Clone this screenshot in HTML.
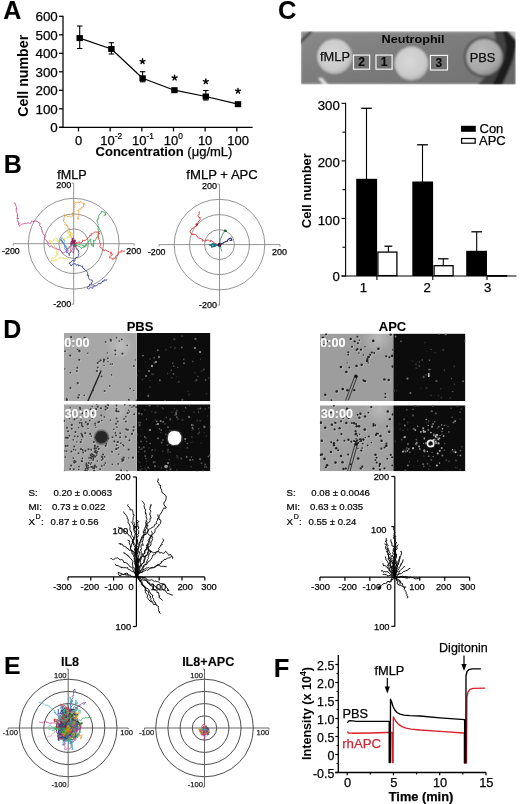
<!DOCTYPE html>
<html><head><meta charset="utf-8"><style>
html,body{margin:0;padding:0;background:#fff;overflow:hidden;}
svg{display:block;font-family:"Liberation Sans", sans-serif;will-change:transform;}
</style></head><body>
<svg width="520" height="804" viewBox="0 0 520 804">
<text x="3.2" y="19.3" font-size="25" font-weight="bold" text-anchor="start" fill="#000" stroke="#000" stroke-width="0.1" >A</text>
<line x1="63" y1="15.699999999999998" x2="63" y2="127.9" stroke="#000" stroke-width="1.25"/>
<line x1="59" y1="127.3" x2="63" y2="127.3" stroke="#000" stroke-width="1.25"/>
<text x="57.8" y="132.0" font-size="13.4" font-weight="normal" text-anchor="end" fill="#000" stroke="#000" stroke-width="0.25" >0</text>
<line x1="59" y1="108.8" x2="63" y2="108.8" stroke="#000" stroke-width="1.25"/>
<text x="57.8" y="113.5" font-size="13.4" font-weight="normal" text-anchor="end" fill="#000" stroke="#000" stroke-width="0.25" >100</text>
<line x1="59" y1="90.3" x2="63" y2="90.3" stroke="#000" stroke-width="1.25"/>
<text x="57.8" y="95.0" font-size="13.4" font-weight="normal" text-anchor="end" fill="#000" stroke="#000" stroke-width="0.25" >200</text>
<line x1="59" y1="71.8" x2="63" y2="71.8" stroke="#000" stroke-width="1.25"/>
<text x="57.8" y="76.5" font-size="13.4" font-weight="normal" text-anchor="end" fill="#000" stroke="#000" stroke-width="0.25" >300</text>
<line x1="59" y1="53.3" x2="63" y2="53.3" stroke="#000" stroke-width="1.25"/>
<text x="57.8" y="58.0" font-size="13.4" font-weight="normal" text-anchor="end" fill="#000" stroke="#000" stroke-width="0.25" >400</text>
<line x1="59" y1="34.8" x2="63" y2="34.8" stroke="#000" stroke-width="1.25"/>
<text x="57.8" y="39.5" font-size="13.4" font-weight="normal" text-anchor="end" fill="#000" stroke="#000" stroke-width="0.25" >500</text>
<line x1="59" y1="16.299999999999997" x2="63" y2="16.299999999999997" stroke="#000" stroke-width="1.25"/>
<text x="57.8" y="20.999999999999996" font-size="13.4" font-weight="normal" text-anchor="end" fill="#000" stroke="#000" stroke-width="0.25" >600</text>
<line x1="59" y1="127.3" x2="252.6" y2="127.3" stroke="#000" stroke-width="1.25"/>
<line x1="78.5" y1="127.3" x2="78.5" y2="131.4" stroke="#000" stroke-width="1.25"/>
<line x1="110.16" y1="127.3" x2="110.16" y2="131.4" stroke="#000" stroke-width="1.25"/>
<line x1="141.82" y1="127.3" x2="141.82" y2="131.4" stroke="#000" stroke-width="1.25"/>
<line x1="173.48000000000002" y1="127.3" x2="173.48000000000002" y2="131.4" stroke="#000" stroke-width="1.25"/>
<line x1="205.14" y1="127.3" x2="205.14" y2="131.4" stroke="#000" stroke-width="1.25"/>
<line x1="236.8" y1="127.3" x2="236.8" y2="131.4" stroke="#000" stroke-width="1.25"/>
<text x="78.5" y="144.6" font-size="13" font-weight="normal" text-anchor="middle" fill="#000" stroke="#000" stroke-width="0.25" >0</text>
<text x="100.36" y="144.6" font-size="13" stroke="#000" stroke-width="0.25">10<tspan font-size="8.4" dy="-5.6" stroke-width="0.2">-2</tspan></text>
<text x="132.01999999999998" y="144.6" font-size="13" stroke="#000" stroke-width="0.25">10<tspan font-size="8.4" dy="-5.6" stroke-width="0.2">-1</tspan></text>
<text x="163.68" y="144.6" font-size="13" stroke="#000" stroke-width="0.25">10<tspan font-size="8.4" dy="-5.6" stroke-width="0.2">0</tspan></text>
<text x="205.14" y="144.6" font-size="13" font-weight="normal" text-anchor="middle" fill="#000" stroke="#000" stroke-width="0.25" >10</text>
<text x="238.20000000000002" y="144.6" font-size="13" font-weight="normal" text-anchor="middle" fill="#000" stroke="#000" stroke-width="0.25" >100</text>
<text x="164" y="156.4" font-size="13" text-anchor="middle" stroke="#000" stroke-width="0.25"><tspan font-weight="bold" stroke-width="0.1">Concentration</tspan> (μg/mL)</text>
<text transform="translate(28,75.8) rotate(-90)" font-size="14.2" font-weight="bold" text-anchor="middle">Cell number</text>
<polyline points="79.7,38.1 111.4,49.0 142.6,78.3 174.4,90.2 205.8,96.5 238.0,104.2" fill="none" stroke="#000" stroke-width="1.2" stroke-linejoin="round" />
<line x1="79.7" y1="26" x2="79.7" y2="48.5" stroke="#000" stroke-width="1.1"/>
<line x1="77.0" y1="26" x2="82.4" y2="26" stroke="#000" stroke-width="1.1"/>
<line x1="77.0" y1="48.5" x2="82.4" y2="48.5" stroke="#000" stroke-width="1.1"/>
<rect x="76.5" y="35.1" width="6.4" height="6" fill="#000"/>
<line x1="111.4" y1="42.7" x2="111.4" y2="54" stroke="#000" stroke-width="1.1"/>
<line x1="108.7" y1="42.7" x2="114.10000000000001" y2="42.7" stroke="#000" stroke-width="1.1"/>
<line x1="108.7" y1="54" x2="114.10000000000001" y2="54" stroke="#000" stroke-width="1.1"/>
<rect x="108.2" y="46" width="6.4" height="6" fill="#000"/>
<line x1="142.6" y1="71.7" x2="142.6" y2="81.8" stroke="#000" stroke-width="1.1"/>
<line x1="139.9" y1="71.7" x2="145.29999999999998" y2="71.7" stroke="#000" stroke-width="1.1"/>
<line x1="139.9" y1="81.8" x2="145.29999999999998" y2="81.8" stroke="#000" stroke-width="1.1"/>
<rect x="139.4" y="75.3" width="6.4" height="6" fill="#000"/>
<rect x="171.20000000000002" y="87.2" width="6.4" height="6" fill="#000"/>
<line x1="205.8" y1="90.5" x2="205.8" y2="100" stroke="#000" stroke-width="1.1"/>
<line x1="203.10000000000002" y1="90.5" x2="208.5" y2="90.5" stroke="#000" stroke-width="1.1"/>
<line x1="203.10000000000002" y1="100" x2="208.5" y2="100" stroke="#000" stroke-width="1.1"/>
<rect x="202.60000000000002" y="93.5" width="6.4" height="6" fill="#000"/>
<rect x="234.8" y="101.2" width="6.4" height="6" fill="#000"/>
<path d="M142.50,61.40L142.50,58.80M142.50,61.40L144.97,60.60M142.50,61.40L144.03,63.50M142.50,61.40L140.97,63.50M142.50,61.40L140.03,60.60" stroke="#000" stroke-width="1.4" stroke-linecap="round" fill="none"/>
<path d="M174.60,77.80L174.60,75.20M174.60,77.80L177.07,77.00M174.60,77.80L176.13,79.90M174.60,77.80L173.07,79.90M174.60,77.80L172.13,77.00" stroke="#000" stroke-width="1.4" stroke-linecap="round" fill="none"/>
<path d="M205.80,81.50L205.80,78.90M205.80,81.50L208.27,80.70M205.80,81.50L207.33,83.60M205.80,81.50L204.27,83.60M205.80,81.50L203.33,80.70" stroke="#000" stroke-width="1.4" stroke-linecap="round" fill="none"/>
<path d="M238.00,91.00L238.00,88.40M238.00,91.00L240.47,90.20M238.00,91.00L239.53,93.10M238.00,91.00L236.47,93.10M238.00,91.00L235.53,90.20" stroke="#000" stroke-width="1.4" stroke-linecap="round" fill="none"/>
<text x="3.8" y="173.4" font-size="25" font-weight="bold" text-anchor="start" fill="#000" stroke="#000" stroke-width="0.1" >B</text>
<circle cx="73.7" cy="243.7" r="14.8" fill="none" stroke="#7a7a7a" stroke-width="0.8"/>
<circle cx="73.7" cy="243.7" r="29.8" fill="none" stroke="#7a7a7a" stroke-width="0.8"/>
<circle cx="73.7" cy="243.7" r="45.4" fill="none" stroke="#7a7a7a" stroke-width="0.8"/>
<path d="M13.200000000000003,245.7V243.7H134.2V245.7M71.7,183.2H73.7V304.2H71.7" fill="none" stroke="#7a7a7a" stroke-width="0.8"/>
<circle cx="219.5" cy="244.6" r="15" fill="none" stroke="#7a7a7a" stroke-width="0.8"/>
<circle cx="219.5" cy="244.6" r="30" fill="none" stroke="#7a7a7a" stroke-width="0.8"/>
<circle cx="219.5" cy="244.6" r="45.3" fill="none" stroke="#7a7a7a" stroke-width="0.8"/>
<path d="M159.0,246.6V244.6H280.0V246.6M217.5,184.1H219.5V305.1H217.5" fill="none" stroke="#7a7a7a" stroke-width="0.8"/>
<text x="72" y="178.8" font-size="12.6" font-weight="normal" text-anchor="middle" fill="#000" stroke="#000" stroke-width="0.25" >fMLP</text>
<text x="222.1" y="178.9" font-size="13.1" font-weight="normal" text-anchor="middle" fill="#000" stroke="#000" stroke-width="0.25" >fMLP + APC</text>
<text x="71.2" y="187.89999999999998" font-size="9" font-weight="normal" text-anchor="end" fill="#000" stroke="#000" stroke-width="0.25" >200</text>
<text x="71.2" y="306.7" font-size="9" font-weight="normal" text-anchor="end" fill="#000" stroke="#000" stroke-width="0.25" >-200</text>
<text x="19.700000000000003" y="253.89999999999998" font-size="8.8" font-weight="normal" text-anchor="end" fill="#000" stroke="#000" stroke-width="0.25" >-200</text>
<text x="126.2" y="253.89999999999998" font-size="9" font-weight="normal" text-anchor="start" fill="#000" stroke="#000" stroke-width="0.25" >200</text>
<text x="217.0" y="188.8" font-size="9" font-weight="normal" text-anchor="end" fill="#000" stroke="#000" stroke-width="0.25" >200</text>
<text x="217.0" y="307.6" font-size="9" font-weight="normal" text-anchor="end" fill="#000" stroke="#000" stroke-width="0.25" >-200</text>
<text x="165.5" y="254.79999999999998" font-size="8.8" font-weight="normal" text-anchor="end" fill="#000" stroke="#000" stroke-width="0.25" >-200</text>
<text x="272.0" y="254.79999999999998" font-size="9" font-weight="normal" text-anchor="start" fill="#000" stroke="#000" stroke-width="0.25" >200</text>
<polyline points="73.3,242.8 73.1,243.4 72.1,244.8 70.5,245.8 69.7,246.4 69.0,246.5 68.7,248.7 67.2,248.3 67.1,250.5 66.5,250.3 66.7,250.5 65.9,251.8 63.9,252.4 63.1,253.1 61.7,252.1 61.4,251.1 60.1,250.0 58.3,249.7 58.6,249.5 57.0,249.2 56.4,248.1 55.9,248.5 53.7,247.8 53.1,248.0 52.4,246.5 51.7,245.8 49.4,246.7 48.4,245.3 47.6,244.8 48.4,243.7 48.0,242.3 47.2,242.0 46.5,240.8 46.6,240.8 45.4,239.3 44.2,238.5 45.0,237.9 45.0,235.4 43.9,235.0 42.9,233.4 42.8,231.8 42.2,232.1 41.9,230.1 42.1,230.3 41.1,228.6 41.6,228.4 41.5,227.4 39.9,225.6 39.5,225.5 40.1,223.2 38.1,222.4 37.6,221.9 37.1,221.1 34.8,221.0 34.4,220.9 34.4,221.5 32.4,221.8 31.6,221.1 31.0,222.8 29.8,223.3 27.8,222.9 26.2,223.8 25.0,223.1 24.2,223.7 23.3,223.8 21.5,224.3 20.5,225.1 19.2,226.4 19.4,225.6 18.5,224.9 18.6,223.4 19.3,224.0 18.4,222.0 17.5,220.2 17.8,219.4 18.6,218.2 16.9,218.6 17.6,216.0 17.5,214.7 17.3,215.5 17.7,213.9 16.4,212.2 16.0,211.9 16.5,210.9 15.9,208.8 16.7,209.2 16.6,207.8 16.3,206.7 15.6,204.8 15.1,203.2 13.7,203.0 13.8,202.8" fill="none" stroke="#c8408a" stroke-width="0.8" stroke-linejoin="round" opacity="1.0"/>
<polyline points="73.1,243.9 74.2,242.4 73.8,242.5 73.6,240.2 71.8,239.0 71.4,237.9 71.9,238.3 72.0,236.5 71.3,236.1 69.9,234.8 71.2,234.1 70.7,232.3 69.4,231.7 69.5,230.6 69.9,228.6 67.9,228.6 67.9,225.9 66.2,224.7 66.9,225.2 64.7,224.5 65.6,223.4 63.9,222.0 63.1,219.8 64.4,219.9 63.8,219.3 63.9,218.0 65.0,215.6 64.1,214.6 65.4,215.6 66.8,215.6 67.6,216.7 69.1,215.9 70.6,216.9 71.3,217.0 72.5,216.4 72.8,214.4 72.8,213.7 72.2,214.0 72.8,212.3 74.1,211.5 73.5,210.5 74.2,210.0 73.6,208.6 74.1,207.0 75.3,206.5 74.6,205.9 75.1,204.1 74.2,203.1 73.7,202.3 74.7,202.0 75.8,202.8 77.2,202.7 78.8,201.4 79.1,202.8 80.7,201.2 80.4,202.1 81.4,202.0 82.6,203.1 85.2,203.9 83.2,204.5 83.6,204.2 83.3,206.8 81.3,207.7 81.0,207.7 81.2,209.1 78.6,209.1 78.3,209.7 77.8,210.8 79.0,211.3 78.8,213.3 77.8,214.3 78.9,215.7 77.7,217.7 79.1,218.7 77.6,218.3 78.3,219.8" fill="none" stroke="#e8a040" stroke-width="0.8" stroke-linejoin="round" opacity="1.0"/>
<polyline points="72.7,244.1 72.7,241.7 72.6,242.2 73.0,239.8 71.2,240.0 71.6,238.5 70.2,236.2 70.9,236.0 69.2,236.0 69.8,234.8 68.2,233.9 67.7,232.9 68.0,230.9 69.0,232.8 69.2,232.0 70.5,233.0 70.8,233.2 71.8,233.6 73.4,234.2 73.4,234.6 71.9,234.9 70.7,235.0 69.6,235.4 69.6,236.9 67.5,237.1 68.1,236.8 66.9,237.8 65.3,239.0 64.1,238.8 63.8,240.1 62.1,240.2 61.9,240.2 60.4,240.0 58.7,240.0 57.8,241.6 57.2,240.8 56.5,241.0 57.6,239.6 56.1,237.6 55.2,238.6 54.1,239.1 53.5,240.7 54.0,240.5 51.4,241.5 50.4,240.5 48.6,240.8 50.3,241.7 50.5,242.3 50.9,242.5 51.8,243.5 52.5,243.4 53.8,244.5 54.7,246.2 55.3,247.6 55.5,249.2 55.2,249.3 56.8,249.8 56.8,251.7 55.9,253.0 58.0,253.5 58.2,254.8 56.1,254.9 55.9,256.3 55.5,257.0 54.2,257.8 53.5,258.1 52.2,257.7 51.6,259.4 51.1,261.3 53.2,260.6 54.5,260.5 55.4,258.9 57.1,260.1 57.7,259.5 59.0,258.2 60.1,258.3 59.7,258.1 62.0,257.7 63.0,258.9 63.5,257.5 64.4,258.5 65.9,258.9 66.5,258.2 66.5,259.0 68.1,260.0" fill="none" stroke="#e8d850" stroke-width="0.8" stroke-linejoin="round" opacity="1.0"/>
<polyline points="74.1,243.1 74.7,243.0 74.8,244.0 77.4,245.1 78.8,244.6 80.3,245.1 81.4,244.9 83.4,245.6 84.8,247.4 83.7,245.8 85.9,246.1 86.0,244.0 86.2,244.6 86.9,243.2 87.5,242.3 89.6,240.7 89.9,240.5 90.6,240.0 89.9,239.5 90.6,238.8 90.0,240.7 91.1,241.3 90.8,242.4 91.4,244.3 91.0,245.1 92.9,244.9 93.3,247.0 93.6,245.1 92.9,244.1 94.3,243.3 93.4,241.9 93.6,240.0 94.2,240.8 95.5,240.3 96.3,238.3 97.0,237.1 96.9,237.6 98.0,236.3 97.7,235.5 98.4,233.8 98.2,231.7 98.3,231.3 98.5,230.5 97.8,228.2 99.1,227.2 98.0,226.6 97.4,226.3 98.5,224.4 97.6,223.4 97.5,222.4 96.9,220.8 97.1,221.1 97.8,218.6 98.7,218.9 98.7,216.2 99.0,215.0 100.1,213.9 100.8,213.0 101.2,213.1 101.3,211.0 101.8,211.6 102.8,211.6 103.4,211.9 105.5,212.6 105.0,214.5 106.1,214.7 104.1,215.3 103.7,216.3" fill="none" stroke="#2f9a4f" stroke-width="0.8" stroke-linejoin="round" opacity="1.0"/>
<polyline points="73.4,243.4 75.5,244.0 76.3,242.3 75.7,243.4 78.6,242.7 79.2,241.6 80.1,243.1 81.8,242.5 83.0,240.8 82.3,240.1 83.9,240.5 85.8,240.2 86.3,239.9 86.8,238.8 86.9,238.5 88.2,238.0 89.9,236.1 89.6,235.3 91.3,235.5 91.0,233.6 92.5,233.9 93.5,232.7 95.1,231.8 95.7,232.1 98.4,232.1 99.7,231.5 98.4,232.0 99.6,233.9 98.2,233.6 98.4,235.8 98.1,236.0 98.8,238.4 98.2,237.7 98.6,239.5 99.4,240.1 99.9,242.2 99.5,242.2 100.6,243.4 100.7,244.4 99.9,246.4 100.4,247.9 101.2,247.5 101.6,248.5 103.3,250.1 103.2,249.5 104.3,251.2 105.3,249.7 106.4,250.6 109.2,251.7 109.9,252.6 111.4,252.1 110.5,254.2 112.0,253.4 112.3,255.1 111.0,255.9 109.9,256.3 109.4,257.9 111.8,258.2 112.9,259.0 112.6,259.7 114.4,258.4 113.8,258.0 115.4,258.3 115.7,256.3 117.8,254.8 117.6,255.4 119.0,253.0 118.3,252.3 120.7,252.0 121.1,252.5 121.1,250.6 123.5,251.2 123.3,251.4 125.0,251.0" fill="none" stroke="#d83a30" stroke-width="0.8" stroke-linejoin="round" opacity="1.0"/>
<polyline points="73.3,243.1 73.3,244.9 75.6,245.6 76.2,245.4 75.5,247.1 77.5,249.0 76.8,248.6 77.2,250.0 78.5,250.4 78.6,252.4 79.0,253.5 79.0,253.6 78.1,255.0 78.6,255.9 76.8,257.9 76.2,257.3 75.0,259.0 74.9,260.5 74.8,261.3 72.6,260.3 70.8,262.5 70.9,262.7 68.9,263.0 70.4,264.6 71.4,266.1 72.2,264.2 73.5,264.1 73.9,263.8 75.3,263.6 75.5,263.9 76.4,265.3 78.2,264.4 78.8,266.2 79.9,265.2 81.4,266.6 82.6,266.0 82.8,268.2 84.5,269.1 83.7,268.9 84.6,269.6 86.9,271.4 87.3,272.2 87.7,273.5 87.0,275.3 88.7,275.1 88.4,277.1 88.4,277.8 88.9,278.5 90.2,280.0 92.1,280.0 92.3,281.0 92.8,281.7 91.4,282.7 91.7,284.3 89.5,284.1 89.5,285.7 89.2,285.5 87.6,287.4 87.3,288.1 88.3,289.1 89.5,288.2 90.8,287.6 92.9,288.2 93.0,286.1 94.8,285.6 94.5,286.4 96.3,285.7 97.4,285.2 98.6,283.3 98.8,283.5 100.9,283.7 100.9,282.7 102.4,282.0 102.7,280.9 104.1,281.3 104.1,279.8 106.5,280.3 107.0,279.1" fill="none" stroke="#283088" stroke-width="0.8" stroke-linejoin="round" opacity="1.0"/>
<polyline points="73.2,243.1 73.9,245.2 73.0,245.1 73.3,246.6 73.0,248.0 72.7,248.5 72.3,249.7 71.3,251.3 71.3,251.3 70.0,252.4 69.8,253.2 68.7,253.9 69.0,253.8 67.7,252.4 68.1,250.9 67.8,250.1 67.0,249.7 66.6,248.4 65.9,247.9 65.4,247.0 65.0,245.8 64.0,245.1 64.0,243.7 63.6,243.5 62.6,241.8 62.0,240.8 61.0,240.3 60.3,239.3 61.4,239.7 62.1,240.7 62.8,242.4 63.1,242.4 63.7,243.7 64.6,244.4 64.8,246.5 65.0,247.4 64.7,248.7 65.4,249.7 66.3,249.8 66.5,251.8 66.0,252.2 67.5,252.7 68.4,253.6 69.1,254.1 69.4,255.8 69.5,253.8 70.4,252.7 70.9,251.7" fill="none" stroke="#5060c0" stroke-width="0.8" stroke-linejoin="round" opacity="1.0"/>
<polyline points="73.0,243.1 72.4,244.7 72.2,245.4 70.8,246.0 70.0,246.4 69.8,246.9 69.3,247.9 68.2,249.0 66.9,248.3 66.7,246.8 66.2,245.9 65.6,245.5 64.1,244.9 63.4,243.4 64.2,242.1 64.6,241.2 64.8,241.0 63.9,239.8 62.8,238.3 61.7,237.7 61.3,238.9 60.0,240.3 60.2,240.5 61.5,241.4 62.0,243.0" fill="none" stroke="#3ab0c0" stroke-width="0.8" stroke-linejoin="round" opacity="1.0"/>
<polyline points="73.1,243.4 72.8,242.4 72.4,241.6 72.5,242.4 72.2,243.8 71.4,245.5 71.2,245.8 70.7,247.5 71.1,248.7 70.3,249.4 70.6,250.6 71.9,251.2 72.7,252.2 73.7,253.3 73.5,252.4 73.7,250.8 74.5,249.4 74.6,248.8 74.9,247.4 76.2,245.8 76.2,245.0" fill="none" stroke="#e03030" stroke-width="0.8" stroke-linejoin="round" opacity="1.0"/>
<polyline points="73.3,243.6 73.5,242.5 73.7,241.0 73.0,240.0 72.7,239.5 73.3,238.2 72.2,239.3 72.6,240.0 72.2,241.0 71.4,241.6 71.1,242.5 70.8,244.2 72.0,243.5 72.8,242.2 73.5,241.5 74.5,240.8 74.8,240.1 75.3,240.7 75.1,241.5 74.3,242.7 74.7,244.4 74.5,244.8 74.5,245.8 74.0,247.0" fill="none" stroke="#8a2060" stroke-width="1.2" stroke-linejoin="round" opacity="1.0"/>
<polyline points="73.3,243.9 73.9,244.7 75.1,245.4 76.1,245.6 77.5,246.0 78.4,246.2 79.7,246.5 80.5,247.5 81.5,248.5 82.7,247.0 83.8,247.3 85.2,245.8 86.1,245.1 87.7,245.0" fill="none" stroke="#30a050" stroke-width="0.8" stroke-linejoin="round" opacity="1.0"/>
<polyline points="219.8,245.0 218.8,244.7 216.7,244.1 216.4,244.1 216.3,243.8 213.8,243.3 214.4,242.9 211.8,240.9 210.7,240.2 211.0,241.4 209.6,241.0 208.5,240.2 206.5,240.0 206.7,240.4 204.8,240.9 203.2,240.5 202.6,241.4 202.0,239.9 202.5,239.5 201.6,239.0 198.9,237.9 198.6,237.9 197.4,237.1 196.7,235.6 196.3,234.9 195.2,234.5 192.6,234.0 193.1,234.8 190.8,233.2 190.8,233.1 190.0,231.4 190.0,231.0 190.9,230.4 192.0,228.3 193.8,228.0 193.8,227.5 194.8,226.7 197.0,225.6 197.9,223.2 198.0,222.2 199.4,220.6 200.2,219.4 199.7,218.9 200.6,217.7 198.8,217.4 197.7,215.5 198.6,215.0 199.4,213.7 199.0,212.1 199.8,211.9" fill="none" stroke="#d03838" stroke-width="0.9" stroke-linejoin="round" opacity="1.0"/>
<circle cx="196.8" cy="224.5" r="1.2" fill="#b02020"/>
<polyline points="219.1,245.0 221.2,244.3 221.7,243.5 223.3,243.1 223.7,242.5 225.6,241.7 225.9,241.3 227.5,241.3 227.7,239.9 228.4,239.4 229.4,238.5 230.8,238.0 232.0,240.1 230.1,240.4 229.5,240.0" fill="none" stroke="#282868" stroke-width="1.1" stroke-linejoin="round" opacity="1.0"/>
<polyline points="219.1,244.6 220.1,243.8 220.1,242.3 220.0,241.3 220.2,239.8 220.7,238.5 221.1,238.0 221.7,236.7 222.1,235.6 222.3,234.7 223.0,233.7 223.9,232.4 224.2,231.6 224.6,230.2 225.9,231.0 227.0,231.1 225.5,231.5" fill="none" stroke="#2a7a50" stroke-width="0.9" stroke-linejoin="round" opacity="1.0"/>
<circle cx="225.3" cy="230.7" r="1.3" fill="#1a5a30"/>
<polyline points="219.8,244.9 218.4,244.7 216.9,245.1 215.5,244.9 215.3,244.9 214.2,244.0 212.9,243.9 212.1,244.1 211.2,244.8 209.6,244.7 211.3,245.4 212.0,247.1 212.4,246.4 213.6,246.5 215.5,246.0 214.0,245.1 214.0,244.0" fill="none" stroke="#207880" stroke-width="1.6" stroke-linejoin="round" opacity="1.0"/>
<polyline points="219.4,244.9 220.0,246.0 220.8,247.0 220.9,248.6 221.3,249.5 221.7,250.7 222.0,251.5" fill="none" stroke="#3a9a80" stroke-width="0.9" stroke-linejoin="round" opacity="1.0"/>
<circle cx="219.4" cy="244.9" r="1.9" fill="#3a1a3a"/>
<text x="278" y="19.1" font-size="25.5" font-weight="bold" text-anchor="start" fill="#000" stroke="#000" stroke-width="0.1" >C</text>
<defs><linearGradient id="cg" x1="0" y1="0" x2="1" y2="1"><stop offset="0" stop-color="#8a8a8a"/><stop offset="0.5" stop-color="#7b7b7b"/><stop offset="1" stop-color="#727272"/></linearGradient><radialGradient id="cw" cx="0.45" cy="0.42" r="0.6"><stop offset="0" stop-color="#d8d8d8"/><stop offset="0.75" stop-color="#cacaca"/><stop offset="1" stop-color="#b0b0b0"/></radialGradient><radialGradient id="cw2" cx="0.4" cy="0.35" r="0.65"><stop offset="0" stop-color="#bababa"/><stop offset="0.8" stop-color="#a8a8a8"/><stop offset="1" stop-color="#909090"/></radialGradient><clipPath id="pc"><rect x="300.8" y="31.2" width="214.9" height="53.2"/></clipPath></defs>
<filter id="pb" x="-10%" y="-10%" width="120%" height="120%"><feGaussianBlur stdDeviation="0.9"/></filter>
<g clip-path="url(#pc)"><g filter="url(#pb)">
<rect x="300.8" y="31.2" width="214.9" height="53.2" fill="url(#cg)"/>
<rect x="300.8" y="31.2" width="214.9" height="2.2" fill="#9a9a9a" opacity="0.6"/>
<path d="M300,41 L310,31 L313,31 L300,44Z" fill="#2a2a2a"/>
<circle cx="484.3" cy="57.1" r="20.5" fill="#404040" opacity="0.8"/>
<path d="M494,31 L516,31 L516,85 L478,85 L500,60Z" fill="#3c3c3c" opacity="0.9"/>
<path d="M503,31 L511,31 L516,37 L516,45 L513,58.8 L506.9,74.2 L501.5,85 L492.5,85 L497.7,74.2 L505,58.8 L506,45Z" fill="#1c1c1c"/>
<path d="M516,47 L516,85 L502.5,85 L507.5,74 L513.5,59Z" fill="#686868"/>
<path d="M508,31 L516,31 L516,40 Z" fill="#c8c8c8"/>
<path d="M318,78 L322,78 L328,85 L324,85Z" fill="#e8e8e8"/>
<circle cx="334.7" cy="56.6" r="18.6" fill="#5a5a5a" opacity="0.45"/>
<circle cx="334.7" cy="56.6" r="17.6" fill="url(#cw)"/>
<circle cx="411.5" cy="63.5" r="17.8" fill="#5a5a5a" opacity="0.45"/>
<circle cx="411.5" cy="63.5" r="16.9" fill="url(#cw)"/>
<circle cx="484.3" cy="57.1" r="18.2" fill="url(#cw2)"/>
</g></g>
<rect x="353.5" y="55.1" width="16.100000000000012" height="14.099999999999998" fill="#727272" stroke="#f4f4f4" stroke-width="1.2"/>
<text x="361.54999999999995" y="66.45" font-size="12" font-weight="bold" text-anchor="middle" fill="#080808" stroke="#080808" stroke-width="0.1" >2</text>
<rect x="376.0" y="55.1" width="16.100000000000012" height="14.099999999999998" fill="#727272" stroke="#f4f4f4" stroke-width="1.2"/>
<text x="384.04999999999995" y="66.45" font-size="12" font-weight="bold" text-anchor="middle" fill="#080808" stroke="#080808" stroke-width="0.1" >1</text>
<rect x="430.40000000000003" y="55.4" width="17.100000000000012" height="14.599999999999998" fill="#727272" stroke="#f4f4f4" stroke-width="1.2"/>
<text x="438.95000000000005" y="67.0" font-size="12" font-weight="bold" text-anchor="middle" fill="#080808" stroke="#080808" stroke-width="0.1" >3</text>
<text x="381.6" y="42.9" font-size="11.6" font-weight="bold" fill="#050505" textLength="63" lengthAdjust="spacingAndGlyphs">Neutrophil</text>
<text x="335" y="61.2" font-size="12.8" font-weight="normal" text-anchor="middle" fill="#101010" stroke="#101010" stroke-width="0.25" >fMLP</text>
<text x="482.5" y="62.3" font-size="12.8" font-weight="normal" text-anchor="middle" fill="#101010" stroke="#101010" stroke-width="0.25" >PBS</text>
<line x1="345.6" y1="102.85" x2="345.6" y2="276.5" stroke="#000" stroke-width="1.1"/>
<line x1="341.6" y1="276.0" x2="345.6" y2="276.0" stroke="#000" stroke-width="1.1"/>
<text x="339.8" y="281.2" font-size="13.2" font-weight="normal" text-anchor="end" fill="#000" stroke="#000" stroke-width="0.25" >0</text>
<line x1="342.40000000000003" y1="247.225" x2="345.6" y2="247.225" stroke="#000" stroke-width="1.1"/>
<line x1="341.6" y1="218.45" x2="345.6" y2="218.45" stroke="#000" stroke-width="1.1"/>
<text x="339.8" y="224.75" font-size="13.2" font-weight="normal" text-anchor="end" fill="#000" stroke="#000" stroke-width="0.25" >100</text>
<line x1="342.40000000000003" y1="189.675" x2="345.6" y2="189.675" stroke="#000" stroke-width="1.1"/>
<line x1="341.6" y1="160.89999999999998" x2="345.6" y2="160.89999999999998" stroke="#000" stroke-width="1.1"/>
<text x="339.8" y="167.2" font-size="13.2" font-weight="normal" text-anchor="end" fill="#000" stroke="#000" stroke-width="0.25" >200</text>
<line x1="342.40000000000003" y1="132.125" x2="345.6" y2="132.125" stroke="#000" stroke-width="1.1"/>
<line x1="341.6" y1="103.35" x2="345.6" y2="103.35" stroke="#000" stroke-width="1.1"/>
<text x="339.8" y="109.64999999999999" font-size="13.2" font-weight="normal" text-anchor="end" fill="#000" stroke="#000" stroke-width="0.25" >300</text>
<line x1="341.3" y1="276" x2="516.5" y2="276" stroke="#000" stroke-width="1.1"/>
<line x1="376.9" y1="276" x2="376.9" y2="280" stroke="#000" stroke-width="1.1"/>
<line x1="432.8" y1="276" x2="432.8" y2="280" stroke="#000" stroke-width="1.1"/>
<line x1="487" y1="276" x2="487" y2="280" stroke="#000" stroke-width="1.1"/>
<text x="363.5" y="292.2" font-size="13.2" font-weight="normal" text-anchor="middle" fill="#000" stroke="#000" stroke-width="0.25" >1</text>
<text x="427.1" y="292.2" font-size="13.2" font-weight="normal" text-anchor="middle" fill="#000" stroke="#000" stroke-width="0.25" >2</text>
<text x="487.7" y="292.2" font-size="13.2" font-weight="normal" text-anchor="middle" fill="#000" stroke="#000" stroke-width="0.25" >3</text>
<text transform="translate(311.2,190.7) rotate(-90)" font-size="13" font-weight="bold" text-anchor="middle">Cell number</text>
<line x1="366.5" y1="108.3" x2="366.5" y2="179" stroke="#000" stroke-width="1.1"/>
<line x1="361.2" y1="108.3" x2="371.8" y2="108.3" stroke="#000" stroke-width="1.3"/>
<line x1="422.5" y1="144.8" x2="422.5" y2="182" stroke="#000" stroke-width="1.1"/>
<line x1="417.1" y1="144.8" x2="427.9" y2="144.8" stroke="#000" stroke-width="1.3"/>
<line x1="476.7" y1="231.8" x2="476.7" y2="251" stroke="#000" stroke-width="1.1"/>
<line x1="471.4" y1="231.8" x2="482.0" y2="231.8" stroke="#000" stroke-width="1.3"/>
<line x1="388.4" y1="246.2" x2="388.4" y2="252" stroke="#000" stroke-width="1.1"/>
<line x1="384.5" y1="246.2" x2="392.29999999999995" y2="246.2" stroke="#000" stroke-width="1.3"/>
<line x1="443.3" y1="258.8" x2="443.3" y2="265.5" stroke="#000" stroke-width="1.1"/>
<line x1="438.1" y1="258.8" x2="448.5" y2="258.8" stroke="#000" stroke-width="1.3"/>
<rect x="356.2" y="178.8" width="20.9" height="97.2" fill="#000"/>
<rect x="412.3" y="181.5" width="20.8" height="94.5" fill="#000"/>
<rect x="466.2" y="250.8" width="20.8" height="25.2" fill="#000"/>
<rect x="377.9" y="252.1" width="19.0" height="23.5" fill="#fff" stroke="#000" stroke-width="1.3"/>
<rect x="434.1" y="265.7" width="19.0" height="10" fill="#fff" stroke="#000" stroke-width="1.3"/>
<rect x="487" y="275.0" width="20.3" height="1.8" fill="#000"/>
<rect x="461" y="125.8" width="14.8" height="6" fill="#000"/>
<rect x="461.6" y="138.5" width="13.6" height="4.7" fill="#fff" stroke="#000" stroke-width="1.2"/>
<text x="479.5" y="132.5" font-size="13" font-weight="normal" text-anchor="start" fill="#000" stroke="#000" stroke-width="0.25" >Con</text>
<text x="479" y="145.3" font-size="13" font-weight="normal" text-anchor="start" fill="#000" stroke="#000" stroke-width="0.25" >APC</text>
<text x="3.3" y="338.1" font-size="25" font-weight="bold" text-anchor="start" fill="#000" stroke="#000" stroke-width="0.1" >D</text>
<text x="140" y="331" font-size="13" font-weight="bold" text-anchor="middle" fill="#000" stroke="#000" stroke-width="0.1" >PBS</text>
<text x="392.5" y="331" font-size="13" font-weight="bold" text-anchor="middle" fill="#000" stroke="#000" stroke-width="0.1" >APC</text>
<filter id="sb" x="-5%" y="-5%" width="110%" height="110%"><feGaussianBlur stdDeviation="0.45"/></filter>
<defs><radialGradient id="bfg1" gradientUnits="userSpaceOnUse" cx="120" cy="346" r="14"><stop offset="0" stop-color="#bdbdbd"/><stop offset="1" stop-color="#a7a7a7"/></radialGradient><clipPath id="cbfg1"><rect x="63.8" y="333" width="73.1" height="68"/></clipPath></defs>
<g clip-path="url(#cbfg1)"><rect x="63.8" y="333" width="73.1" height="68" fill="url(#bfg1)"/>
<g filter="url(#sb)"><g fill="#d0d0d0" opacity="0.45"><circle cx="97.4" cy="371.6" r="1.62"/><circle cx="98.3" cy="368.0" r="1.48"/><circle cx="77.8" cy="368.3" r="1.50"/><circle cx="122.3" cy="339.9" r="1.37"/><circle cx="70.9" cy="388.6" r="1.53"/><circle cx="67.4" cy="400.3" r="1.64"/><circle cx="112.1" cy="375.4" r="1.31"/><circle cx="65.4" cy="369.4" r="1.27"/><circle cx="78.2" cy="350.0" r="1.26"/><circle cx="98.2" cy="363.5" r="1.59"/><circle cx="102.2" cy="377.0" r="1.45"/><circle cx="112.7" cy="364.6" r="1.36"/><circle cx="137.2" cy="401.2" r="1.59"/><circle cx="116.0" cy="354.9" r="1.34"/><circle cx="85.4" cy="338.3" r="1.56"/><circle cx="93.6" cy="391.1" r="1.40"/><circle cx="134.3" cy="391.1" r="1.25"/><circle cx="79.6" cy="395.4" r="1.44"/><circle cx="136.0" cy="360.5" r="1.28"/><circle cx="110.3" cy="386.4" r="1.36"/><circle cx="70.7" cy="356.1" r="1.64"/><circle cx="119.7" cy="341.5" r="1.35"/><circle cx="71.7" cy="337.6" r="1.57"/><circle cx="77.3" cy="371.5" r="1.43"/><circle cx="78.2" cy="383.3" r="1.30"/><circle cx="111.4" cy="341.4" r="1.42"/><circle cx="79.9" cy="351.8" r="1.64"/><circle cx="123.0" cy="354.2" r="1.60"/><circle cx="79.7" cy="360.3" r="1.59"/><circle cx="111.2" cy="340.3" r="1.65"/><circle cx="79.9" cy="351.1" r="1.56"/><circle cx="88.3" cy="353.7" r="1.28"/><circle cx="70.9" cy="373.1" r="1.35"/><circle cx="108.3" cy="358.8" r="1.43"/><circle cx="134.4" cy="366.4" r="1.48"/><circle cx="127.6" cy="345.9" r="1.31"/><circle cx="130.7" cy="389.1" r="1.35"/><circle cx="78.2" cy="383.8" r="1.63"/><circle cx="78.7" cy="398.1" r="1.60"/><circle cx="108.4" cy="362.2" r="1.29"/><circle cx="67.1" cy="399.0" r="1.35"/><circle cx="115.8" cy="351.0" r="1.58"/><circle cx="107.9" cy="353.5" r="1.32"/><circle cx="117.0" cy="338.2" r="1.34"/><circle cx="105.2" cy="391.5" r="1.50"/><circle cx="84.8" cy="395.9" r="1.33"/><circle cx="65.5" cy="351.8" r="1.43"/><circle cx="68.7" cy="345.5" r="1.40"/><circle cx="106.1" cy="342.4" r="1.39"/><circle cx="129.4" cy="400.2" r="1.51"/><circle cx="104.3" cy="361.0" r="1.30"/><circle cx="104.2" cy="362.2" r="1.39"/><circle cx="99.6" cy="362.0" r="1.26"/><circle cx="101.1" cy="360.9" r="1.54"/><circle cx="110.9" cy="364.8" r="1.27"/><circle cx="104.9" cy="360.2" r="1.53"/><circle cx="104.6" cy="365.9" r="1.23"/><circle cx="104.2" cy="359.9" r="1.28"/></g>
<g fill="#3a3a3a"><circle cx="96.9" cy="371.1" r="1.12"/><circle cx="97.8" cy="367.5" r="0.98"/><circle cx="77.3" cy="367.8" r="1.00"/><circle cx="121.8" cy="339.4" r="0.87"/><circle cx="70.4" cy="388.1" r="1.03"/><circle cx="66.9" cy="399.8" r="1.14"/><circle cx="111.6" cy="374.9" r="0.81"/><circle cx="64.9" cy="368.9" r="0.77"/><circle cx="77.7" cy="349.5" r="0.76"/><circle cx="97.7" cy="363.0" r="1.09"/><circle cx="101.7" cy="376.5" r="0.95"/><circle cx="112.2" cy="364.1" r="0.86"/><circle cx="136.7" cy="400.7" r="1.09"/><circle cx="115.5" cy="354.4" r="0.84"/><circle cx="84.9" cy="337.8" r="1.06"/><circle cx="93.1" cy="390.6" r="0.90"/><circle cx="133.8" cy="390.6" r="0.75"/><circle cx="79.1" cy="394.9" r="0.94"/><circle cx="135.5" cy="360.0" r="0.78"/><circle cx="109.8" cy="385.9" r="0.86"/><circle cx="70.2" cy="355.6" r="1.14"/><circle cx="119.2" cy="341.0" r="0.85"/><circle cx="71.2" cy="337.1" r="1.07"/><circle cx="76.8" cy="371.0" r="0.93"/><circle cx="77.7" cy="382.8" r="0.80"/><circle cx="110.9" cy="340.9" r="0.92"/><circle cx="79.4" cy="351.3" r="1.14"/><circle cx="122.5" cy="353.7" r="1.10"/><circle cx="79.2" cy="359.8" r="1.09"/><circle cx="110.7" cy="339.8" r="1.15"/><circle cx="79.4" cy="350.6" r="1.06"/><circle cx="87.8" cy="353.2" r="0.78"/><circle cx="70.4" cy="372.6" r="0.85"/><circle cx="107.8" cy="358.3" r="0.93"/><circle cx="133.9" cy="365.9" r="0.98"/><circle cx="127.1" cy="345.4" r="0.81"/><circle cx="130.2" cy="388.6" r="0.85"/><circle cx="77.7" cy="383.3" r="1.13"/><circle cx="78.2" cy="397.6" r="1.10"/><circle cx="107.9" cy="361.7" r="0.79"/><circle cx="66.6" cy="398.5" r="0.85"/><circle cx="115.3" cy="350.5" r="1.08"/><circle cx="107.4" cy="353.0" r="0.82"/><circle cx="116.5" cy="337.7" r="0.84"/><circle cx="104.7" cy="391.0" r="1.00"/><circle cx="84.3" cy="395.4" r="0.83"/><circle cx="65.0" cy="351.3" r="0.93"/><circle cx="68.2" cy="345.0" r="0.90"/><circle cx="105.6" cy="341.9" r="0.89"/><circle cx="128.9" cy="399.7" r="1.01"/><circle cx="103.8" cy="360.5" r="0.80"/><circle cx="103.7" cy="361.7" r="0.89"/><circle cx="99.1" cy="361.5" r="0.76"/><circle cx="100.6" cy="360.4" r="1.04"/><circle cx="110.4" cy="364.3" r="0.77"/><circle cx="104.4" cy="359.7" r="1.03"/><circle cx="104.1" cy="365.4" r="0.73"/><circle cx="103.7" cy="359.4" r="0.78"/></g></g>
<path d="M101.2,370.5 L87.9,401" stroke="#222" stroke-width="1.4"/>
</g>
<text x="64.3" y="346.8" font-size="12.6" font-weight="bold" text-anchor="start" fill="#fff" stroke="#fff" stroke-width="0.1" >0:00</text>
<defs><clipPath id="cflg2"><rect x="136.9" y="333" width="73.5" height="68"/></clipPath></defs>
<g clip-path="url(#cflg2)"><rect x="136.9" y="333" width="73.5" height="68" fill="#0c0c0c"/>
<g filter="url(#sb)"><circle cx="171.8" cy="377.7" r="0.93" fill="#333"/><circle cx="165.0" cy="400.8" r="0.84" fill="#666"/><circle cx="196.5" cy="380.0" r="0.90" fill="#555"/><circle cx="137.0" cy="375.4" r="1.09" fill="#3a3a3a"/><circle cx="148.8" cy="394.6" r="0.63" fill="#333"/><circle cx="142.4" cy="379.7" r="0.77" fill="#444"/><circle cx="195.5" cy="338.9" r="1.06" fill="#666"/><circle cx="174.3" cy="339.2" r="1.09" fill="#444"/><circle cx="145.2" cy="361.8" r="0.67" fill="#3a3a3a"/><circle cx="201.7" cy="371.0" r="1.09" fill="#2a2a2a"/><circle cx="177.7" cy="367.5" r="0.64" fill="#555"/><circle cx="167.7" cy="373.5" r="0.84" fill="#444"/><circle cx="176.7" cy="376.6" r="0.64" fill="#333"/><circle cx="208.7" cy="378.1" r="0.78" fill="#3a3a3a"/><circle cx="200.6" cy="359.2" r="0.75" fill="#3a3a3a"/><circle cx="154.2" cy="357.7" r="0.86" fill="#555"/><circle cx="150.1" cy="358.9" r="1.03" fill="#2a2a2a"/><circle cx="175.0" cy="348.1" r="0.81" fill="#444"/><circle cx="151.9" cy="374.3" r="0.98" fill="#333"/><circle cx="150.0" cy="380.3" r="0.62" fill="#3a3a3a"/><circle cx="173.5" cy="373.9" r="0.96" fill="#555"/><circle cx="170.7" cy="347.2" r="0.74" fill="#444"/><circle cx="188.1" cy="391.2" r="0.72" fill="#333"/><circle cx="171.1" cy="370.3" r="0.69" fill="#666"/><circle cx="153.1" cy="374.3" r="1.07" fill="#3a3a3a"/><circle cx="150.1" cy="387.1" r="0.85" fill="#333"/><circle cx="182.4" cy="399.9" r="1.10" fill="#555"/><circle cx="148.3" cy="396.1" r="1.04" fill="#666"/><circle cx="198.0" cy="376.5" r="0.71" fill="#555"/><circle cx="173.8" cy="366.3" r="0.78" fill="#666"/><circle cx="206.5" cy="393.8" r="0.68" fill="#3a3a3a"/><circle cx="182.2" cy="336.1" r="0.77" fill="#555"/><circle cx="184.0" cy="363.3" r="1.00" fill="#666"/><circle cx="157.8" cy="350.3" r="0.94" fill="#666"/><circle cx="138.9" cy="370.9" r="0.73" fill="#333"/><circle cx="154.6" cy="362.6" r="1.09" fill="#555"/><circle cx="178.8" cy="381.9" r="1.07" fill="#3a3a3a"/><circle cx="192.8" cy="361.4" r="0.89" fill="#444"/><circle cx="194.9" cy="372.5" r="0.77" fill="#3a3a3a"/><circle cx="183.8" cy="359.2" r="0.68" fill="#666"/><circle cx="189.1" cy="394.5" r="1.00" fill="#2a2a2a"/><circle cx="203.8" cy="369.4" r="0.99" fill="#444"/><circle cx="195.1" cy="381.3" r="0.69" fill="#3a3a3a"/><circle cx="205.6" cy="379.9" r="0.87" fill="#555"/><circle cx="181.8" cy="347.4" r="0.90" fill="#666"/><circle cx="165.9" cy="349.7" r="0.80" fill="#3a3a3a"/><circle cx="143.0" cy="355.6" r="0.94" fill="#666"/><circle cx="159.9" cy="380.3" r="0.98" fill="#666"/><circle cx="183.7" cy="362.6" r="0.69" fill="#333"/><circle cx="172.8" cy="363.2" r="0.69" fill="#666"/><circle cx="152.0" cy="366.0" r="1.20" fill="#909090"/><circle cx="156.0" cy="362.0" r="1.00" fill="#a0a0a0"/><circle cx="149.0" cy="371.0" r="1.00" fill="#808080"/><circle cx="146.0" cy="376.0" r="0.90" fill="#888"/><circle cx="159.0" cy="357.0" r="0.90" fill="#999"/><circle cx="200.0" cy="352.0" r="1.00" fill="#aaa"/><circle cx="195.0" cy="348.0" r="0.90" fill="#999"/></g>
</g>
<defs><radialGradient id="bfg3" gradientUnits="userSpaceOnUse" cx="118" cy="412" r="14"><stop offset="0" stop-color="#b4b4b4"/><stop offset="1" stop-color="#a4a4a4"/></radialGradient><clipPath id="cbfg3"><rect x="63.8" y="404.3" width="73.1" height="66.9"/></clipPath></defs>
<g clip-path="url(#cbfg3)"><rect x="63.8" y="404.3" width="73.1" height="66.9" fill="url(#bfg3)"/>
<g filter="url(#sb)"><g fill="#d0d0d0" opacity="0.45"><circle cx="83.2" cy="450.6" r="1.52"/><circle cx="126.4" cy="417.2" r="1.34"/><circle cx="75.1" cy="419.9" r="1.54"/><circle cx="73.8" cy="440.3" r="1.34"/><circle cx="85.8" cy="433.7" r="1.59"/><circle cx="108.8" cy="405.8" r="1.36"/><circle cx="75.0" cy="463.1" r="1.57"/><circle cx="123.2" cy="460.1" r="1.55"/><circle cx="133.7" cy="457.9" r="1.35"/><circle cx="126.4" cy="437.4" r="1.55"/><circle cx="105.5" cy="433.5" r="1.40"/><circle cx="95.7" cy="425.8" r="1.30"/><circle cx="124.2" cy="458.2" r="1.64"/><circle cx="114.8" cy="441.9" r="1.55"/><circle cx="74.2" cy="450.1" r="1.43"/><circle cx="77.2" cy="418.4" r="1.46"/><circle cx="82.8" cy="435.5" r="1.49"/><circle cx="93.2" cy="413.5" r="1.45"/><circle cx="81.5" cy="420.6" r="1.33"/><circle cx="91.1" cy="409.7" r="1.51"/><circle cx="134.0" cy="430.9" r="1.54"/><circle cx="132.5" cy="407.7" r="1.31"/><circle cx="123.2" cy="460.9" r="1.51"/><circle cx="76.0" cy="432.5" r="1.60"/><circle cx="129.1" cy="458.5" r="1.33"/><circle cx="126.7" cy="429.9" r="1.54"/><circle cx="74.3" cy="469.8" r="1.49"/><circle cx="117.1" cy="419.0" r="1.50"/><circle cx="106.8" cy="444.4" r="1.39"/><circle cx="117.5" cy="427.6" r="1.37"/><circle cx="76.3" cy="450.6" r="1.29"/><circle cx="80.8" cy="409.4" r="1.51"/><circle cx="105.0" cy="441.1" r="1.27"/><circle cx="96.4" cy="427.8" r="1.29"/><circle cx="64.5" cy="471.6" r="1.30"/><circle cx="86.3" cy="422.8" r="1.49"/><circle cx="70.0" cy="436.2" r="1.40"/><circle cx="125.3" cy="405.2" r="1.38"/><circle cx="100.6" cy="469.7" r="1.46"/><circle cx="99.0" cy="449.6" r="1.37"/><circle cx="66.6" cy="438.3" r="1.61"/><circle cx="118.3" cy="422.1" r="1.52"/><circle cx="126.4" cy="422.1" r="1.49"/><circle cx="90.3" cy="421.1" r="1.36"/><circle cx="79.2" cy="428.3" r="1.27"/><circle cx="93.4" cy="410.6" r="1.55"/><circle cx="108.1" cy="405.1" r="1.56"/><circle cx="78.2" cy="437.0" r="1.47"/><circle cx="88.6" cy="424.2" r="1.42"/><circle cx="74.3" cy="462.6" r="1.29"/><circle cx="124.5" cy="419.4" r="1.37"/><circle cx="92.7" cy="407.0" r="1.30"/><circle cx="90.7" cy="434.4" r="1.60"/><circle cx="136.7" cy="407.7" r="1.46"/><circle cx="73.8" cy="458.6" r="1.38"/><circle cx="129.6" cy="441.3" r="1.30"/><circle cx="64.7" cy="421.4" r="1.60"/><circle cx="75.2" cy="436.8" r="1.40"/><circle cx="89.5" cy="458.4" r="1.34"/><circle cx="116.8" cy="449.4" r="1.62"/><circle cx="102.3" cy="466.4" r="1.43"/><circle cx="106.2" cy="446.3" r="1.59"/><circle cx="129.9" cy="412.5" r="1.30"/><circle cx="103.3" cy="459.2" r="1.46"/><circle cx="86.2" cy="469.1" r="1.37"/><circle cx="70.7" cy="408.3" r="1.26"/><circle cx="117.4" cy="412.0" r="1.54"/><circle cx="127.6" cy="471.7" r="1.57"/><circle cx="95.3" cy="446.4" r="1.58"/><circle cx="116.6" cy="424.2" r="1.55"/><circle cx="72.3" cy="425.4" r="1.65"/><circle cx="98.7" cy="422.7" r="1.56"/><circle cx="97.2" cy="405.0" r="1.26"/><circle cx="83.2" cy="427.0" r="1.62"/><circle cx="82.4" cy="461.7" r="1.59"/><circle cx="94.7" cy="471.2" r="1.55"/><circle cx="99.7" cy="422.3" r="1.43"/><circle cx="130.2" cy="440.7" r="1.33"/><circle cx="91.8" cy="436.7" r="1.33"/><circle cx="106.2" cy="407.1" r="1.58"/><circle cx="77.4" cy="411.7" r="1.49"/><circle cx="86.8" cy="464.0" r="1.45"/><circle cx="102.4" cy="460.6" r="1.34"/><circle cx="118.8" cy="448.2" r="1.42"/><circle cx="134.4" cy="406.3" r="1.59"/><circle cx="74.8" cy="461.0" r="1.31"/><circle cx="68.2" cy="438.3" r="1.62"/><circle cx="83.1" cy="437.3" r="1.49"/><circle cx="82.1" cy="440.3" r="1.25"/><circle cx="97.2" cy="455.6" r="1.39"/><circle cx="80.4" cy="408.2" r="1.53"/><circle cx="95.5" cy="466.0" r="1.55"/><circle cx="71.6" cy="466.0" r="1.62"/><circle cx="124.0" cy="460.4" r="1.52"/><circle cx="117.0" cy="449.4" r="1.49"/><circle cx="83.1" cy="413.7" r="1.54"/><circle cx="107.9" cy="408.6" r="1.51"/><circle cx="108.9" cy="439.0" r="1.56"/><circle cx="128.4" cy="430.3" r="1.58"/><circle cx="100.8" cy="443.1" r="1.42"/><circle cx="132.5" cy="434.5" r="1.63"/><circle cx="89.0" cy="449.8" r="1.62"/><circle cx="114.3" cy="429.9" r="1.28"/><circle cx="99.3" cy="432.5" r="1.58"/><circle cx="121.6" cy="470.8" r="1.43"/><circle cx="94.3" cy="442.5" r="1.55"/><circle cx="70.1" cy="419.2" r="1.31"/><circle cx="88.0" cy="424.9" r="1.64"/><circle cx="79.5" cy="467.2" r="1.37"/><circle cx="79.2" cy="470.0" r="1.29"/><circle cx="72.6" cy="413.4" r="1.28"/><circle cx="92.6" cy="419.0" r="1.31"/><circle cx="65.4" cy="451.5" r="1.27"/><circle cx="81.2" cy="442.6" r="1.60"/><circle cx="112.5" cy="452.2" r="1.53"/><circle cx="122.6" cy="461.9" r="1.31"/><circle cx="68.2" cy="446.3" r="1.46"/><circle cx="102.4" cy="457.1" r="1.32"/><circle cx="115.9" cy="433.3" r="1.42"/><circle cx="82.2" cy="423.6" r="1.48"/><circle cx="104.8" cy="465.5" r="1.36"/><circle cx="116.6" cy="411.3" r="1.51"/><circle cx="76.0" cy="462.2" r="1.64"/><circle cx="82.9" cy="458.9" r="1.34"/><circle cx="86.6" cy="411.7" r="1.43"/><circle cx="71.9" cy="451.9" r="1.48"/><circle cx="95.0" cy="452.3" r="1.34"/><circle cx="88.5" cy="429.1" r="1.25"/><circle cx="129.1" cy="410.7" r="1.29"/><circle cx="122.6" cy="459.6" r="1.43"/><circle cx="95.1" cy="414.1" r="1.25"/><circle cx="102.3" cy="421.1" r="1.31"/><circle cx="130.5" cy="406.1" r="1.39"/><circle cx="119.2" cy="454.8" r="1.29"/><circle cx="118.5" cy="442.5" r="1.50"/><circle cx="133.3" cy="458.2" r="1.49"/><circle cx="120.6" cy="437.7" r="1.47"/><circle cx="124.1" cy="446.2" r="1.40"/><circle cx="65.8" cy="457.6" r="1.39"/><circle cx="95.7" cy="424.0" r="1.47"/><circle cx="93.6" cy="460.6" r="1.49"/><circle cx="105.1" cy="457.2" r="1.43"/><circle cx="103.5" cy="455.0" r="1.54"/><circle cx="118.7" cy="464.4" r="1.47"/><circle cx="104.9" cy="417.4" r="1.35"/><circle cx="96.1" cy="438.2" r="1.61"/><circle cx="67.4" cy="428.2" r="1.55"/><circle cx="97.8" cy="461.6" r="1.31"/><circle cx="120.7" cy="433.7" r="1.48"/><circle cx="68.5" cy="431.8" r="1.57"/><circle cx="118.0" cy="442.5" r="1.42"/><circle cx="67.2" cy="451.6" r="1.43"/><circle cx="117.2" cy="445.7" r="1.41"/><circle cx="128.2" cy="413.6" r="1.63"/><circle cx="70.6" cy="469.6" r="1.48"/><circle cx="97.0" cy="467.4" r="1.45"/><circle cx="101.5" cy="408.8" r="1.57"/><circle cx="111.0" cy="420.8" r="1.30"/><circle cx="95.0" cy="467.4" r="1.60"/><circle cx="98.3" cy="407.2" r="1.58"/><circle cx="79.1" cy="453.7" r="1.45"/><circle cx="134.7" cy="414.7" r="1.57"/><circle cx="117.0" cy="406.0" r="1.48"/><circle cx="85.9" cy="451.3" r="1.63"/><circle cx="113.0" cy="437.8" r="1.49"/><circle cx="82.5" cy="436.1" r="1.30"/><circle cx="117.0" cy="409.2" r="1.46"/><circle cx="77.4" cy="442.5" r="1.27"/><circle cx="66.3" cy="446.6" r="1.54"/><circle cx="129.2" cy="450.1" r="1.65"/><circle cx="74.7" cy="446.9" r="1.50"/><circle cx="77.1" cy="414.2" r="1.35"/><circle cx="102.6" cy="457.5" r="1.53"/><circle cx="106.1" cy="410.0" r="1.54"/><circle cx="101.8" cy="416.1" r="1.50"/><circle cx="82.3" cy="425.5" r="1.43"/><circle cx="119.2" cy="411.9" r="1.43"/><circle cx="81.5" cy="449.7" r="1.58"/><circle cx="83.6" cy="453.0" r="1.44"/><circle cx="80.2" cy="423.2" r="1.47"/><circle cx="123.3" cy="445.1" r="1.25"/><circle cx="121.4" cy="443.6" r="1.42"/><circle cx="81.9" cy="434.3" r="1.53"/><circle cx="84.1" cy="414.1" r="1.60"/><circle cx="96.6" cy="409.5" r="1.61"/><circle cx="72.3" cy="429.2" r="1.50"/><circle cx="112.9" cy="464.9" r="1.32"/><circle cx="105.9" cy="463.6" r="1.44"/><circle cx="116.5" cy="436.0" r="1.54"/><circle cx="134.3" cy="427.5" r="1.54"/><circle cx="91.7" cy="467.5" r="1.47"/><circle cx="96.5" cy="448.8" r="1.52"/><circle cx="87.6" cy="471.0" r="1.32"/><circle cx="89.3" cy="463.5" r="1.55"/><circle cx="97.1" cy="453.4" r="1.59"/><circle cx="94.5" cy="457.3" r="1.49"/><circle cx="98.1" cy="447.3" r="1.28"/><circle cx="95.2" cy="448.8" r="1.57"/><circle cx="92.1" cy="463.2" r="1.28"/><circle cx="88.7" cy="466.2" r="1.39"/><circle cx="98.2" cy="452.1" r="1.32"/><circle cx="91.1" cy="464.6" r="1.33"/><circle cx="92.1" cy="459.1" r="1.46"/><circle cx="94.0" cy="459.1" r="1.24"/><circle cx="87.1" cy="465.9" r="1.59"/><circle cx="95.9" cy="452.4" r="1.51"/><circle cx="95.9" cy="451.1" r="1.23"/><circle cx="94.4" cy="455.7" r="1.57"/><circle cx="88.6" cy="469.6" r="1.34"/><circle cx="92.9" cy="457.3" r="1.57"/><circle cx="87.4" cy="468.3" r="1.36"/><circle cx="91.7" cy="450.2" r="1.46"/><circle cx="87.0" cy="465.4" r="1.51"/><circle cx="87.2" cy="467.0" r="1.28"/><circle cx="95.9" cy="457.1" r="1.49"/><circle cx="96.4" cy="450.8" r="1.37"/><circle cx="99.4" cy="449.1" r="1.42"/><circle cx="95.9" cy="451.9" r="1.56"/><circle cx="92.0" cy="454.5" r="1.44"/><circle cx="90.4" cy="461.1" r="1.21"/><circle cx="93.5" cy="468.2" r="1.59"/><circle cx="95.7" cy="452.4" r="1.27"/><circle cx="86.0" cy="470.7" r="1.48"/><circle cx="94.8" cy="449.5" r="1.29"/><circle cx="91.1" cy="458.3" r="1.47"/><circle cx="92.7" cy="467.1" r="1.23"/><circle cx="94.7" cy="468.9" r="1.47"/><circle cx="87.8" cy="468.7" r="1.44"/><circle cx="85.6" cy="470.9" r="1.22"/><circle cx="98.1" cy="447.0" r="1.53"/><circle cx="89.3" cy="468.0" r="1.30"/><circle cx="95.8" cy="445.9" r="1.26"/><circle cx="93.0" cy="455.2" r="1.38"/><circle cx="91.3" cy="455.8" r="1.51"/><circle cx="92.0" cy="456.9" r="1.34"/></g>
<g fill="#3a3a3a"><circle cx="82.7" cy="450.1" r="1.02"/><circle cx="125.9" cy="416.7" r="0.84"/><circle cx="74.6" cy="419.4" r="1.04"/><circle cx="73.3" cy="439.8" r="0.84"/><circle cx="85.3" cy="433.2" r="1.09"/><circle cx="108.3" cy="405.3" r="0.86"/><circle cx="74.5" cy="462.6" r="1.07"/><circle cx="122.7" cy="459.6" r="1.05"/><circle cx="133.2" cy="457.4" r="0.85"/><circle cx="125.9" cy="436.9" r="1.05"/><circle cx="105.0" cy="433.0" r="0.90"/><circle cx="95.2" cy="425.3" r="0.80"/><circle cx="123.7" cy="457.7" r="1.14"/><circle cx="114.3" cy="441.4" r="1.05"/><circle cx="73.7" cy="449.6" r="0.93"/><circle cx="76.7" cy="417.9" r="0.96"/><circle cx="82.3" cy="435.0" r="0.99"/><circle cx="92.7" cy="413.0" r="0.95"/><circle cx="81.0" cy="420.1" r="0.83"/><circle cx="90.6" cy="409.2" r="1.01"/><circle cx="133.5" cy="430.4" r="1.04"/><circle cx="132.0" cy="407.2" r="0.81"/><circle cx="122.7" cy="460.4" r="1.01"/><circle cx="75.5" cy="432.0" r="1.10"/><circle cx="128.6" cy="458.0" r="0.83"/><circle cx="126.2" cy="429.4" r="1.04"/><circle cx="73.8" cy="469.3" r="0.99"/><circle cx="116.6" cy="418.5" r="1.00"/><circle cx="106.3" cy="443.9" r="0.89"/><circle cx="117.0" cy="427.1" r="0.87"/><circle cx="75.8" cy="450.1" r="0.79"/><circle cx="80.3" cy="408.9" r="1.01"/><circle cx="104.5" cy="440.6" r="0.77"/><circle cx="95.9" cy="427.3" r="0.79"/><circle cx="64.0" cy="471.1" r="0.80"/><circle cx="85.8" cy="422.3" r="0.99"/><circle cx="69.5" cy="435.7" r="0.90"/><circle cx="124.8" cy="404.7" r="0.88"/><circle cx="100.1" cy="469.2" r="0.96"/><circle cx="98.5" cy="449.1" r="0.87"/><circle cx="66.1" cy="437.8" r="1.11"/><circle cx="117.8" cy="421.6" r="1.02"/><circle cx="125.9" cy="421.6" r="0.99"/><circle cx="89.8" cy="420.6" r="0.86"/><circle cx="78.7" cy="427.8" r="0.77"/><circle cx="92.9" cy="410.1" r="1.05"/><circle cx="107.6" cy="404.6" r="1.06"/><circle cx="77.7" cy="436.5" r="0.97"/><circle cx="88.1" cy="423.7" r="0.92"/><circle cx="73.8" cy="462.1" r="0.79"/><circle cx="124.0" cy="418.9" r="0.87"/><circle cx="92.2" cy="406.5" r="0.80"/><circle cx="90.2" cy="433.9" r="1.10"/><circle cx="136.2" cy="407.2" r="0.96"/><circle cx="73.3" cy="458.1" r="0.88"/><circle cx="129.1" cy="440.8" r="0.80"/><circle cx="64.2" cy="420.9" r="1.10"/><circle cx="74.7" cy="436.3" r="0.90"/><circle cx="89.0" cy="457.9" r="0.84"/><circle cx="116.3" cy="448.9" r="1.12"/><circle cx="101.8" cy="465.9" r="0.93"/><circle cx="105.7" cy="445.8" r="1.09"/><circle cx="129.4" cy="412.0" r="0.80"/><circle cx="102.8" cy="458.7" r="0.96"/><circle cx="85.7" cy="468.6" r="0.87"/><circle cx="70.2" cy="407.8" r="0.76"/><circle cx="116.9" cy="411.5" r="1.04"/><circle cx="127.1" cy="471.2" r="1.07"/><circle cx="94.8" cy="445.9" r="1.08"/><circle cx="116.1" cy="423.7" r="1.05"/><circle cx="71.8" cy="424.9" r="1.15"/><circle cx="98.2" cy="422.2" r="1.06"/><circle cx="96.7" cy="404.5" r="0.76"/><circle cx="82.7" cy="426.5" r="1.12"/><circle cx="81.9" cy="461.2" r="1.09"/><circle cx="94.2" cy="470.7" r="1.05"/><circle cx="99.2" cy="421.8" r="0.93"/><circle cx="129.7" cy="440.2" r="0.83"/><circle cx="91.3" cy="436.2" r="0.83"/><circle cx="105.7" cy="406.6" r="1.08"/><circle cx="76.9" cy="411.2" r="0.99"/><circle cx="86.3" cy="463.5" r="0.95"/><circle cx="101.9" cy="460.1" r="0.84"/><circle cx="118.3" cy="447.7" r="0.92"/><circle cx="133.9" cy="405.8" r="1.09"/><circle cx="74.3" cy="460.5" r="0.81"/><circle cx="67.7" cy="437.8" r="1.12"/><circle cx="82.6" cy="436.8" r="0.99"/><circle cx="81.6" cy="439.8" r="0.75"/><circle cx="96.7" cy="455.1" r="0.89"/><circle cx="79.9" cy="407.7" r="1.03"/><circle cx="95.0" cy="465.5" r="1.05"/><circle cx="71.1" cy="465.5" r="1.12"/><circle cx="123.5" cy="459.9" r="1.02"/><circle cx="116.5" cy="448.9" r="0.99"/><circle cx="82.6" cy="413.2" r="1.04"/><circle cx="107.4" cy="408.1" r="1.01"/><circle cx="108.4" cy="438.5" r="1.06"/><circle cx="127.9" cy="429.8" r="1.08"/><circle cx="100.3" cy="442.6" r="0.92"/><circle cx="132.0" cy="434.0" r="1.13"/><circle cx="88.5" cy="449.3" r="1.12"/><circle cx="113.8" cy="429.4" r="0.78"/><circle cx="98.8" cy="432.0" r="1.08"/><circle cx="121.1" cy="470.3" r="0.93"/><circle cx="93.8" cy="442.0" r="1.05"/><circle cx="69.6" cy="418.7" r="0.81"/><circle cx="87.5" cy="424.4" r="1.14"/><circle cx="79.0" cy="466.7" r="0.87"/><circle cx="78.7" cy="469.5" r="0.79"/><circle cx="72.1" cy="412.9" r="0.78"/><circle cx="92.1" cy="418.5" r="0.81"/><circle cx="64.9" cy="451.0" r="0.77"/><circle cx="80.7" cy="442.1" r="1.10"/><circle cx="112.0" cy="451.7" r="1.03"/><circle cx="122.1" cy="461.4" r="0.81"/><circle cx="67.7" cy="445.8" r="0.96"/><circle cx="101.9" cy="456.6" r="0.82"/><circle cx="115.4" cy="432.8" r="0.92"/><circle cx="81.7" cy="423.1" r="0.98"/><circle cx="104.3" cy="465.0" r="0.86"/><circle cx="116.1" cy="410.8" r="1.01"/><circle cx="75.5" cy="461.7" r="1.14"/><circle cx="82.4" cy="458.4" r="0.84"/><circle cx="86.1" cy="411.2" r="0.93"/><circle cx="71.4" cy="451.4" r="0.98"/><circle cx="94.5" cy="451.8" r="0.84"/><circle cx="88.0" cy="428.6" r="0.75"/><circle cx="128.6" cy="410.2" r="0.79"/><circle cx="122.1" cy="459.1" r="0.93"/><circle cx="94.6" cy="413.6" r="0.75"/><circle cx="101.8" cy="420.6" r="0.81"/><circle cx="130.0" cy="405.6" r="0.89"/><circle cx="118.7" cy="454.3" r="0.79"/><circle cx="118.0" cy="442.0" r="1.00"/><circle cx="132.8" cy="457.7" r="0.99"/><circle cx="120.1" cy="437.2" r="0.97"/><circle cx="123.6" cy="445.7" r="0.90"/><circle cx="65.3" cy="457.1" r="0.89"/><circle cx="95.2" cy="423.5" r="0.97"/><circle cx="93.1" cy="460.1" r="0.99"/><circle cx="104.6" cy="456.7" r="0.93"/><circle cx="103.0" cy="454.5" r="1.04"/><circle cx="118.2" cy="463.9" r="0.97"/><circle cx="104.4" cy="416.9" r="0.85"/><circle cx="95.6" cy="437.7" r="1.11"/><circle cx="66.9" cy="427.7" r="1.05"/><circle cx="97.3" cy="461.1" r="0.81"/><circle cx="120.2" cy="433.2" r="0.98"/><circle cx="68.0" cy="431.3" r="1.07"/><circle cx="117.5" cy="442.0" r="0.92"/><circle cx="66.7" cy="451.1" r="0.93"/><circle cx="116.7" cy="445.2" r="0.91"/><circle cx="127.7" cy="413.1" r="1.13"/><circle cx="70.1" cy="469.1" r="0.98"/><circle cx="96.5" cy="466.9" r="0.95"/><circle cx="101.0" cy="408.3" r="1.07"/><circle cx="110.5" cy="420.3" r="0.80"/><circle cx="94.5" cy="466.9" r="1.10"/><circle cx="97.8" cy="406.7" r="1.08"/><circle cx="78.6" cy="453.2" r="0.95"/><circle cx="134.2" cy="414.2" r="1.07"/><circle cx="116.5" cy="405.5" r="0.98"/><circle cx="85.4" cy="450.8" r="1.13"/><circle cx="112.5" cy="437.3" r="0.99"/><circle cx="82.0" cy="435.6" r="0.80"/><circle cx="116.5" cy="408.7" r="0.96"/><circle cx="76.9" cy="442.0" r="0.77"/><circle cx="65.8" cy="446.1" r="1.04"/><circle cx="128.7" cy="449.6" r="1.15"/><circle cx="74.2" cy="446.4" r="1.00"/><circle cx="76.6" cy="413.7" r="0.85"/><circle cx="102.1" cy="457.0" r="1.03"/><circle cx="105.6" cy="409.5" r="1.04"/><circle cx="101.3" cy="415.6" r="1.00"/><circle cx="81.8" cy="425.0" r="0.93"/><circle cx="118.7" cy="411.4" r="0.93"/><circle cx="81.0" cy="449.2" r="1.08"/><circle cx="83.1" cy="452.5" r="0.94"/><circle cx="79.7" cy="422.7" r="0.97"/><circle cx="122.8" cy="444.6" r="0.75"/><circle cx="120.9" cy="443.1" r="0.92"/><circle cx="81.4" cy="433.8" r="1.03"/><circle cx="83.6" cy="413.6" r="1.10"/><circle cx="96.1" cy="409.0" r="1.11"/><circle cx="71.8" cy="428.7" r="1.00"/><circle cx="112.4" cy="464.4" r="0.82"/><circle cx="105.4" cy="463.1" r="0.94"/><circle cx="116.0" cy="435.5" r="1.04"/><circle cx="133.8" cy="427.0" r="1.04"/><circle cx="91.2" cy="467.0" r="0.97"/><circle cx="96.0" cy="448.3" r="1.02"/><circle cx="87.1" cy="470.5" r="0.82"/><circle cx="88.8" cy="463.0" r="1.05"/><circle cx="96.6" cy="452.9" r="1.09"/><circle cx="94.0" cy="456.8" r="0.99"/><circle cx="97.6" cy="446.8" r="0.78"/><circle cx="94.7" cy="448.3" r="1.07"/><circle cx="91.6" cy="462.7" r="0.78"/><circle cx="88.2" cy="465.7" r="0.89"/><circle cx="97.7" cy="451.6" r="0.82"/><circle cx="90.6" cy="464.1" r="0.83"/><circle cx="91.6" cy="458.6" r="0.96"/><circle cx="93.5" cy="458.6" r="0.74"/><circle cx="86.6" cy="465.4" r="1.09"/><circle cx="95.4" cy="451.9" r="1.01"/><circle cx="95.4" cy="450.6" r="0.73"/><circle cx="93.9" cy="455.2" r="1.07"/><circle cx="88.1" cy="469.1" r="0.84"/><circle cx="92.4" cy="456.8" r="1.07"/><circle cx="86.9" cy="467.8" r="0.86"/><circle cx="91.2" cy="449.7" r="0.96"/><circle cx="86.5" cy="464.9" r="1.01"/><circle cx="86.7" cy="466.5" r="0.78"/><circle cx="95.4" cy="456.6" r="0.99"/><circle cx="95.9" cy="450.3" r="0.87"/><circle cx="98.9" cy="448.6" r="0.92"/><circle cx="95.4" cy="451.4" r="1.06"/><circle cx="91.5" cy="454.0" r="0.94"/><circle cx="89.9" cy="460.6" r="0.71"/><circle cx="93.0" cy="467.7" r="1.09"/><circle cx="95.2" cy="451.9" r="0.77"/><circle cx="85.5" cy="470.2" r="0.98"/><circle cx="94.3" cy="449.0" r="0.79"/><circle cx="90.6" cy="457.8" r="0.97"/><circle cx="92.2" cy="466.6" r="0.73"/><circle cx="94.2" cy="468.4" r="0.97"/><circle cx="87.3" cy="468.2" r="0.94"/><circle cx="85.1" cy="470.4" r="0.72"/><circle cx="97.6" cy="446.5" r="1.03"/><circle cx="88.8" cy="467.5" r="0.80"/><circle cx="95.3" cy="445.4" r="0.76"/><circle cx="92.5" cy="454.7" r="0.88"/><circle cx="90.8" cy="455.3" r="1.01"/><circle cx="91.5" cy="456.4" r="0.84"/></g></g>
<circle cx="101.5" cy="437.2" r="7.8" fill="#4a4a4a" opacity="0.6"/><circle cx="101.5" cy="437.2" r="6.2" fill="#262626"/>
</g>
<text x="64.6" y="417.8" font-size="12.6" font-weight="bold" text-anchor="start" fill="#fff" stroke="#fff" stroke-width="0.1" >30:00</text>
<defs><clipPath id="cflg4"><rect x="136.9" y="404.3" width="73.5" height="66.9"/></clipPath></defs>
<g clip-path="url(#cflg4)"><rect x="136.9" y="404.3" width="73.5" height="66.9" fill="#0c0c0c"/>
<g filter="url(#sb)"><circle cx="144.8" cy="451.3" r="0.93" fill="#333"/><circle cx="156.8" cy="421.4" r="0.97" fill="#666"/><circle cx="170.0" cy="435.5" r="1.04" fill="#444"/><circle cx="194.0" cy="412.2" r="0.71" fill="#3a3a3a"/><circle cx="163.2" cy="421.7" r="1.00" fill="#666"/><circle cx="174.8" cy="415.1" r="0.93" fill="#3a3a3a"/><circle cx="149.0" cy="447.9" r="0.66" fill="#3a3a3a"/><circle cx="138.9" cy="422.6" r="1.03" fill="#444"/><circle cx="166.6" cy="470.6" r="0.82" fill="#555"/><circle cx="143.8" cy="447.2" r="1.04" fill="#555"/><circle cx="180.2" cy="446.7" r="0.69" fill="#2a2a2a"/><circle cx="191.8" cy="436.9" r="0.94" fill="#3a3a3a"/><circle cx="170.2" cy="418.9" r="1.00" fill="#555"/><circle cx="155.6" cy="412.4" r="1.10" fill="#3a3a3a"/><circle cx="157.5" cy="406.2" r="0.97" fill="#2a2a2a"/><circle cx="187.3" cy="443.5" r="0.81" fill="#666"/><circle cx="149.3" cy="430.2" r="0.75" fill="#444"/><circle cx="169.0" cy="444.1" r="0.65" fill="#444"/><circle cx="165.9" cy="434.4" r="0.91" fill="#444"/><circle cx="141.8" cy="413.9" r="0.95" fill="#555"/><circle cx="169.3" cy="459.5" r="0.80" fill="#444"/><circle cx="138.4" cy="451.8" r="0.78" fill="#444"/><circle cx="156.3" cy="424.5" r="0.69" fill="#666"/><circle cx="178.1" cy="457.7" r="0.65" fill="#2a2a2a"/><circle cx="139.5" cy="425.2" r="1.09" fill="#555"/><circle cx="174.1" cy="439.2" r="1.00" fill="#3a3a3a"/><circle cx="145.3" cy="468.3" r="0.99" fill="#2a2a2a"/><circle cx="153.8" cy="462.7" r="0.73" fill="#333"/><circle cx="152.2" cy="449.8" r="0.77" fill="#666"/><circle cx="192.9" cy="429.0" r="0.88" fill="#555"/><circle cx="191.4" cy="457.0" r="0.68" fill="#666"/><circle cx="198.7" cy="428.8" r="0.79" fill="#444"/><circle cx="177.0" cy="456.0" r="0.76" fill="#555"/><circle cx="139.2" cy="447.3" r="0.81" fill="#777"/><circle cx="161.8" cy="421.9" r="0.65" fill="#333"/><circle cx="140.9" cy="466.4" r="0.71" fill="#444"/><circle cx="169.8" cy="440.7" r="0.79" fill="#777"/><circle cx="144.7" cy="451.4" r="0.87" fill="#444"/><circle cx="146.4" cy="419.2" r="0.67" fill="#666"/><circle cx="149.5" cy="405.4" r="1.05" fill="#666"/><circle cx="200.1" cy="459.2" r="1.10" fill="#555"/><circle cx="185.2" cy="441.6" r="0.62" fill="#444"/><circle cx="171.3" cy="468.5" r="0.76" fill="#2a2a2a"/><circle cx="200.4" cy="408.4" r="0.94" fill="#666"/><circle cx="176.8" cy="410.8" r="1.03" fill="#444"/><circle cx="198.6" cy="412.0" r="0.63" fill="#666"/><circle cx="205.3" cy="408.9" r="1.00" fill="#3a3a3a"/><circle cx="140.2" cy="470.1" r="1.04" fill="#333"/><circle cx="137.3" cy="434.4" r="0.99" fill="#444"/><circle cx="189.7" cy="405.6" r="0.64" fill="#3a3a3a"/><circle cx="155.1" cy="449.9" r="0.92" fill="#2a2a2a"/><circle cx="177.2" cy="457.6" r="0.96" fill="#2a2a2a"/><circle cx="205.1" cy="464.6" r="1.03" fill="#444"/><circle cx="165.0" cy="423.9" r="0.96" fill="#3a3a3a"/><circle cx="139.1" cy="413.5" r="1.08" fill="#777"/><circle cx="193.4" cy="425.1" r="0.71" fill="#555"/><circle cx="198.3" cy="433.9" r="1.05" fill="#2a2a2a"/><circle cx="210.3" cy="427.0" r="0.79" fill="#555"/><circle cx="168.0" cy="449.8" r="1.08" fill="#444"/><circle cx="208.3" cy="456.6" r="0.79" fill="#666"/><circle cx="171.9" cy="430.3" r="0.86" fill="#2a2a2a"/><circle cx="192.8" cy="459.7" r="0.70" fill="#777"/><circle cx="200.1" cy="420.8" r="0.65" fill="#777"/><circle cx="185.6" cy="407.7" r="0.69" fill="#777"/><circle cx="187.3" cy="447.8" r="0.99" fill="#444"/><circle cx="170.7" cy="464.5" r="0.63" fill="#2a2a2a"/><circle cx="188.6" cy="416.6" r="0.79" fill="#666"/><circle cx="151.8" cy="411.5" r="0.78" fill="#333"/><circle cx="192.4" cy="427.6" r="0.85" fill="#777"/><circle cx="208.9" cy="407.6" r="0.90" fill="#444"/><circle cx="146.7" cy="461.6" r="0.74" fill="#3a3a3a"/><circle cx="176.1" cy="414.6" r="0.86" fill="#666"/><circle cx="159.4" cy="428.7" r="0.75" fill="#666"/><circle cx="207.4" cy="416.0" r="1.00" fill="#2a2a2a"/><circle cx="152.3" cy="455.8" r="1.10" fill="#555"/><circle cx="153.7" cy="462.1" r="1.02" fill="#555"/><circle cx="171.9" cy="444.8" r="0.78" fill="#3a3a3a"/><circle cx="155.0" cy="462.0" r="0.92" fill="#3a3a3a"/><circle cx="197.0" cy="471.1" r="0.82" fill="#2a2a2a"/><circle cx="139.9" cy="462.6" r="0.74" fill="#3a3a3a"/><circle cx="151.5" cy="457.3" r="0.66" fill="#777"/><circle cx="191.2" cy="466.7" r="0.74" fill="#444"/><circle cx="145.1" cy="456.1" r="0.82" fill="#777"/><circle cx="181.3" cy="458.5" r="0.95" fill="#555"/><circle cx="197.2" cy="420.5" r="0.90" fill="#333"/><circle cx="176.8" cy="470.0" r="0.89" fill="#333"/><circle cx="176.1" cy="413.1" r="1.03" fill="#666"/><circle cx="172.0" cy="412.3" r="0.99" fill="#2a2a2a"/><circle cx="201.0" cy="443.2" r="0.71" fill="#2a2a2a"/><circle cx="146.7" cy="441.4" r="0.76" fill="#555"/><circle cx="141.6" cy="448.9" r="1.09" fill="#3a3a3a"/><circle cx="145.9" cy="438.1" r="1.02" fill="#333"/><circle cx="170.3" cy="469.4" r="0.99" fill="#666"/><circle cx="163.0" cy="440.1" r="0.76" fill="#777"/><circle cx="141.5" cy="429.5" r="0.72" fill="#2a2a2a"/><circle cx="162.9" cy="451.3" r="1.07" fill="#333"/><circle cx="204.2" cy="432.8" r="0.69" fill="#2a2a2a"/><circle cx="168.0" cy="427.2" r="1.01" fill="#555"/><circle cx="201.5" cy="463.3" r="1.04" fill="#444"/><circle cx="148.2" cy="467.4" r="0.87" fill="#666"/><circle cx="167.9" cy="452.1" r="1.00" fill="#333"/><circle cx="149.4" cy="468.6" r="0.66" fill="#333"/><circle cx="174.5" cy="408.3" r="0.67" fill="#444"/><circle cx="155.5" cy="420.0" r="0.61" fill="#666"/><circle cx="186.4" cy="456.0" r="0.62" fill="#3a3a3a"/><circle cx="178.0" cy="419.0" r="1.08" fill="#333"/><circle cx="140.7" cy="422.7" r="0.69" fill="#555"/><circle cx="199.2" cy="432.4" r="0.85" fill="#444"/><circle cx="170.1" cy="420.5" r="0.62" fill="#333"/><circle cx="170.3" cy="451.9" r="0.92" fill="#333"/><circle cx="174.0" cy="465.2" r="0.75" fill="#2a2a2a"/><circle cx="173.2" cy="431.5" r="0.84" fill="#555"/><circle cx="160.8" cy="432.7" r="0.75" fill="#3a3a3a"/><circle cx="198.4" cy="408.9" r="0.93" fill="#3a3a3a"/><circle cx="141.6" cy="415.1" r="0.69" fill="#3a3a3a"/><circle cx="169.6" cy="467.0" r="0.79" fill="#444"/><circle cx="137.2" cy="442.5" r="1.03" fill="#2a2a2a"/><circle cx="158.0" cy="438.4" r="0.89" fill="#777"/><circle cx="185.2" cy="439.1" r="1.08" fill="#777"/><circle cx="206.4" cy="467.0" r="0.96" fill="#444"/><circle cx="161.2" cy="429.9" r="0.88" fill="#666"/><circle cx="191.9" cy="430.2" r="0.78" fill="#2a2a2a"/><circle cx="146.2" cy="470.1" r="0.66" fill="#777"/><circle cx="190.2" cy="460.0" r="1.07" fill="#666"/><circle cx="140.9" cy="435.8" r="0.61" fill="#333"/><circle cx="167.2" cy="466.2" r="1.02" fill="#555"/><circle cx="151.6" cy="450.6" r="0.79" fill="#333"/><circle cx="158.7" cy="466.5" r="0.62" fill="#3a3a3a"/><circle cx="141.6" cy="469.0" r="1.06" fill="#2a2a2a"/><circle cx="144.7" cy="410.0" r="1.10" fill="#2a2a2a"/><circle cx="192.6" cy="441.8" r="0.67" fill="#2a2a2a"/><circle cx="161.6" cy="442.5" r="1.00" fill="#555"/><circle cx="167.4" cy="445.2" r="0.91" fill="#444"/><circle cx="138.4" cy="461.3" r="0.61" fill="#2a2a2a"/><circle cx="189.3" cy="417.2" r="0.90" fill="#777"/><circle cx="183.9" cy="411.2" r="0.76" fill="#2a2a2a"/><circle cx="176.9" cy="417.2" r="0.83" fill="#666"/><circle cx="160.6" cy="421.0" r="1.08" fill="#777"/><circle cx="206.3" cy="436.1" r="0.70" fill="#444"/><circle cx="186.7" cy="456.9" r="0.86" fill="#777"/><circle cx="182.5" cy="420.0" r="1.09" fill="#333"/><circle cx="139.9" cy="449.4" r="0.77" fill="#333"/><circle cx="150.2" cy="443.5" r="0.82" fill="#666"/><circle cx="204.7" cy="467.0" r="0.81" fill="#555"/><circle cx="162.2" cy="407.7" r="0.62" fill="#555"/><circle cx="174.4" cy="470.8" r="0.61" fill="#2a2a2a"/><circle cx="204.2" cy="426.3" r="0.87" fill="#777"/><circle cx="209.5" cy="455.2" r="0.90" fill="#444"/><circle cx="190.9" cy="442.6" r="0.77" fill="#333"/><circle cx="145.8" cy="458.5" r="0.87" fill="#444"/><circle cx="166.3" cy="417.4" r="0.66" fill="#666"/><circle cx="163.0" cy="408.8" r="0.75" fill="#555"/><circle cx="203.2" cy="470.9" r="0.88" fill="#444"/><circle cx="154.9" cy="466.3" r="1.04" fill="#666"/><circle cx="169.7" cy="430.4" r="0.66" fill="#444"/><circle cx="161.4" cy="467.9" r="0.64" fill="#666"/><circle cx="191.9" cy="425.1" r="1.01" fill="#777"/><circle cx="144.7" cy="436.9" r="0.83" fill="#777"/><circle cx="141.0" cy="441.4" r="0.88" fill="#555"/><circle cx="204.5" cy="427.2" r="1.08" fill="#666"/><circle cx="166.0" cy="466.5" r="1.80" fill="#999"/><circle cx="168.0" cy="463.0" r="1.00" fill="#888"/><circle cx="158.0" cy="424.0" r="1.00" fill="#aaa"/><circle cx="150.0" cy="430.0" r="1.10" fill="#999"/></g>
<circle cx="174.6" cy="438" r="8.2" fill="#888" opacity="0.35"/><path d="M168.5,434 L171,431.5 L175,431 L179,432 L181.3,436 L181,441 L178,444.5 L173,445.3 L169,443 L167.8,439Z" fill="#fff"/>
</g>
<defs><radialGradient id="bfg5" gradientUnits="userSpaceOnUse" cx="378" cy="338" r="16"><stop offset="0" stop-color="#bababa"/><stop offset="1" stop-color="#9d9d9d"/></radialGradient><clipPath id="cbfg5"><rect x="319.9" y="333.6" width="73.3" height="67.4"/></clipPath></defs>
<g clip-path="url(#cbfg5)"><rect x="319.9" y="333.6" width="73.3" height="67.4" fill="url(#bfg5)"/>
<g filter="url(#sb)"><g fill="#d0d0d0" opacity="0.45"><circle cx="391.2" cy="334.9" r="1.74"/><circle cx="332.0" cy="400.6" r="1.46"/><circle cx="384.9" cy="380.0" r="1.79"/><circle cx="393.7" cy="350.3" r="1.59"/><circle cx="372.3" cy="353.0" r="1.56"/><circle cx="337.2" cy="391.9" r="1.80"/><circle cx="378.9" cy="349.2" r="1.82"/><circle cx="357.9" cy="349.7" r="1.63"/><circle cx="351.2" cy="339.4" r="1.68"/><circle cx="346.8" cy="372.5" r="1.82"/><circle cx="367.7" cy="361.4" r="1.80"/><circle cx="393.3" cy="367.1" r="1.83"/><circle cx="321.8" cy="343.6" r="1.52"/><circle cx="389.2" cy="380.6" r="1.74"/><circle cx="341.4" cy="367.5" r="1.80"/><circle cx="327.7" cy="341.9" r="1.47"/><circle cx="354.8" cy="390.7" r="1.67"/><circle cx="349.8" cy="367.9" r="1.52"/><circle cx="389.9" cy="357.9" r="1.54"/><circle cx="343.2" cy="389.7" r="1.58"/><circle cx="386.7" cy="356.8" r="1.63"/><circle cx="325.8" cy="395.3" r="1.77"/><circle cx="355.2" cy="341.9" r="1.65"/><circle cx="348.0" cy="390.7" r="1.82"/><circle cx="374.7" cy="353.5" r="1.47"/><circle cx="385.9" cy="397.8" r="1.51"/><circle cx="357.0" cy="366.5" r="1.84"/><circle cx="323.6" cy="338.3" r="1.79"/><circle cx="362.2" cy="365.3" r="1.76"/><circle cx="363.9" cy="380.8" r="1.55"/><circle cx="326.6" cy="334.7" r="1.58"/><circle cx="367.9" cy="359.7" r="1.59"/><circle cx="365.7" cy="381.6" r="1.69"/><circle cx="343.3" cy="389.5" r="1.77"/><circle cx="385.9" cy="394.3" r="1.46"/><circle cx="369.4" cy="357.6" r="1.61"/><circle cx="358.4" cy="343.8" r="1.55"/><circle cx="392.7" cy="356.4" r="1.82"/><circle cx="370.6" cy="355.3" r="1.58"/><circle cx="364.7" cy="381.4" r="1.59"/><circle cx="324.7" cy="345.7" r="1.79"/><circle cx="373.8" cy="341.4" r="1.78"/><circle cx="359.4" cy="353.6" r="1.28"/><circle cx="352.5" cy="347.3" r="1.48"/><circle cx="368.7" cy="357.6" r="1.59"/><circle cx="357.9" cy="337.3" r="1.54"/><circle cx="364.0" cy="355.5" r="1.23"/><circle cx="360.0" cy="340.8" r="1.24"/><circle cx="348.7" cy="355.2" r="1.42"/><circle cx="368.7" cy="363.5" r="1.22"/><circle cx="367.5" cy="332.5" r="1.50"/><circle cx="365.5" cy="347.2" r="1.29"/><circle cx="348.8" cy="352.8" r="1.51"/><circle cx="347.6" cy="363.4" r="1.21"/><circle cx="356.8" cy="350.6" r="1.34"/><circle cx="361.5" cy="350.2" r="1.59"/></g>
<g fill="#222"><circle cx="390.7" cy="334.4" r="1.24"/><circle cx="331.5" cy="400.1" r="0.96"/><circle cx="384.4" cy="379.5" r="1.29"/><circle cx="393.2" cy="349.8" r="1.09"/><circle cx="371.8" cy="352.5" r="1.06"/><circle cx="336.7" cy="391.4" r="1.30"/><circle cx="378.4" cy="348.7" r="1.32"/><circle cx="357.4" cy="349.2" r="1.13"/><circle cx="350.7" cy="338.9" r="1.18"/><circle cx="346.3" cy="372.0" r="1.32"/><circle cx="367.2" cy="360.9" r="1.30"/><circle cx="392.8" cy="366.6" r="1.33"/><circle cx="321.3" cy="343.1" r="1.02"/><circle cx="388.7" cy="380.1" r="1.24"/><circle cx="340.9" cy="367.0" r="1.30"/><circle cx="327.2" cy="341.4" r="0.97"/><circle cx="354.3" cy="390.2" r="1.17"/><circle cx="349.3" cy="367.4" r="1.02"/><circle cx="389.4" cy="357.4" r="1.04"/><circle cx="342.7" cy="389.2" r="1.08"/><circle cx="386.2" cy="356.3" r="1.13"/><circle cx="325.3" cy="394.8" r="1.27"/><circle cx="354.7" cy="341.4" r="1.15"/><circle cx="347.5" cy="390.2" r="1.32"/><circle cx="374.2" cy="353.0" r="0.97"/><circle cx="385.4" cy="397.3" r="1.01"/><circle cx="356.5" cy="366.0" r="1.34"/><circle cx="323.1" cy="337.8" r="1.29"/><circle cx="361.7" cy="364.8" r="1.26"/><circle cx="363.4" cy="380.3" r="1.05"/><circle cx="326.1" cy="334.2" r="1.08"/><circle cx="367.4" cy="359.2" r="1.09"/><circle cx="365.2" cy="381.1" r="1.19"/><circle cx="342.8" cy="389.0" r="1.27"/><circle cx="385.4" cy="393.8" r="0.96"/><circle cx="368.9" cy="357.1" r="1.11"/><circle cx="357.9" cy="343.3" r="1.05"/><circle cx="392.2" cy="355.9" r="1.32"/><circle cx="370.1" cy="354.8" r="1.08"/><circle cx="364.2" cy="380.9" r="1.09"/><circle cx="324.2" cy="345.2" r="1.29"/><circle cx="373.3" cy="340.9" r="1.28"/><circle cx="358.9" cy="353.1" r="0.78"/><circle cx="352.0" cy="346.8" r="0.98"/><circle cx="368.2" cy="357.1" r="1.09"/><circle cx="357.4" cy="336.8" r="1.04"/><circle cx="363.5" cy="355.0" r="0.73"/><circle cx="359.5" cy="340.3" r="0.74"/><circle cx="348.2" cy="354.7" r="0.92"/><circle cx="368.2" cy="363.0" r="0.72"/><circle cx="367.0" cy="332.0" r="1.00"/><circle cx="365.0" cy="346.7" r="0.79"/><circle cx="348.3" cy="352.3" r="1.01"/><circle cx="347.1" cy="362.9" r="0.71"/><circle cx="356.3" cy="350.1" r="0.84"/><circle cx="361.0" cy="349.7" r="1.09"/></g></g>
<path d="M357.2,376.6 L348.2,400.5 M354.6,376.6 L345.6,400.5" stroke="#2a2a2a" stroke-width="0.9"/>
<circle cx="355.9" cy="376.3" r="1.7" fill="#111"/>
</g>
<text x="320.3" y="346.8" font-size="12.6" font-weight="bold" text-anchor="start" fill="#fff" stroke="#fff" stroke-width="0.1" >0:00</text>
<defs><clipPath id="cflg6"><rect x="393.2" y="333.6" width="72.2" height="67.4"/></clipPath></defs>
<g clip-path="url(#cflg6)"><rect x="393.2" y="333.6" width="72.2" height="67.4" fill="#0c0c0c"/>
<g filter="url(#sb)"><circle cx="419.3" cy="366.0" r="0.81" fill="#6a6a6a"/><circle cx="393.6" cy="391.2" r="0.96" fill="#4a4a4a"/><circle cx="439.0" cy="334.3" r="0.75" fill="#5a5a5a"/><circle cx="441.3" cy="397.7" r="0.90" fill="#3a3a3a"/><circle cx="450.2" cy="398.0" r="0.73" fill="#4a4a4a"/><circle cx="451.5" cy="378.6" r="0.61" fill="#6a6a6a"/><circle cx="436.4" cy="381.0" r="1.09" fill="#5a5a5a"/><circle cx="419.3" cy="361.9" r="0.64" fill="#6a6a6a"/><circle cx="423.7" cy="376.9" r="1.07" fill="#5a5a5a"/><circle cx="435.0" cy="352.7" r="0.64" fill="#3a3a3a"/><circle cx="431.0" cy="349.4" r="0.68" fill="#5a5a5a"/><circle cx="416.0" cy="364.2" r="0.68" fill="#6a6a6a"/><circle cx="445.8" cy="334.5" r="1.02" fill="#6a6a6a"/><circle cx="394.2" cy="390.2" r="0.95" fill="#3a3a3a"/><circle cx="426.0" cy="374.9" r="0.85" fill="#3a3a3a"/><circle cx="463.1" cy="381.3" r="1.06" fill="#5a5a5a"/><circle cx="395.6" cy="336.5" r="0.93" fill="#808080"/><circle cx="416.3" cy="368.0" r="1.08" fill="#2e2e2e"/><circle cx="440.5" cy="388.7" r="0.71" fill="#3a3a3a"/><circle cx="444.3" cy="370.1" r="0.72" fill="#6a6a6a"/><circle cx="438.4" cy="395.5" r="0.66" fill="#2e2e2e"/><circle cx="396.7" cy="390.7" r="0.80" fill="#2e2e2e"/><circle cx="443.3" cy="349.8" r="0.89" fill="#4a4a4a"/><circle cx="431.1" cy="395.5" r="0.65" fill="#4a4a4a"/><circle cx="412.5" cy="361.0" r="0.80" fill="#2e2e2e"/><circle cx="426.9" cy="351.1" r="0.63" fill="#2e2e2e"/><circle cx="407.5" cy="378.6" r="1.06" fill="#808080"/><circle cx="420.9" cy="388.3" r="0.66" fill="#2e2e2e"/><circle cx="401.0" cy="341.4" r="0.82" fill="#6a6a6a"/><circle cx="410.4" cy="393.1" r="1.04" fill="#6a6a6a"/><circle cx="429.4" cy="360.3" r="0.78" fill="#6a6a6a"/><circle cx="452.8" cy="391.6" r="0.70" fill="#6a6a6a"/><circle cx="454.3" cy="366.5" r="0.89" fill="#3a3a3a"/><circle cx="454.4" cy="384.2" r="0.99" fill="#2e2e2e"/><circle cx="429.2" cy="369.6" r="0.84" fill="#808080"/><circle cx="425.1" cy="342.6" r="0.88" fill="#2e2e2e"/><circle cx="464.8" cy="340.8" r="0.93" fill="#3a3a3a"/><circle cx="426.6" cy="387.9" r="0.96" fill="#3a3a3a"/><circle cx="430.3" cy="369.4" r="0.65" fill="#5a5a5a"/><circle cx="422.3" cy="360.0" r="0.71" fill="#6a6a6a"/><circle cx="428.8" cy="374.0" r="0.90" fill="#ddd"/><circle cx="428.8" cy="376.0" r="0.90" fill="#eee"/></g>
</g>
<defs><radialGradient id="bfg7" gradientUnits="userSpaceOnUse" cx="379.5" cy="409.5" r="16"><stop offset="0" stop-color="#b8b8b8"/><stop offset="1" stop-color="#a0a0a0"/></radialGradient><clipPath id="cbfg7"><rect x="319.9" y="405.3" width="73.3" height="66"/></clipPath></defs>
<g clip-path="url(#cbfg7)"><rect x="319.9" y="405.3" width="73.3" height="66" fill="url(#bfg7)"/>
<g filter="url(#sb)"><g fill="#d0d0d0" opacity="0.45"><circle cx="358.7" cy="459.0" r="1.83"/><circle cx="341.6" cy="456.4" r="1.73"/><circle cx="368.9" cy="413.1" r="1.46"/><circle cx="348.6" cy="455.1" r="1.55"/><circle cx="357.2" cy="426.8" r="1.79"/><circle cx="389.7" cy="432.3" r="1.85"/><circle cx="325.0" cy="459.4" r="1.80"/><circle cx="331.5" cy="452.4" r="1.67"/><circle cx="390.4" cy="419.7" r="1.67"/><circle cx="385.1" cy="448.0" r="1.57"/><circle cx="326.4" cy="467.8" r="1.64"/><circle cx="393.4" cy="415.1" r="1.77"/><circle cx="380.0" cy="466.5" r="1.46"/><circle cx="347.7" cy="409.2" r="1.75"/><circle cx="346.4" cy="469.1" r="1.60"/><circle cx="377.2" cy="463.1" r="1.55"/><circle cx="361.2" cy="469.0" r="1.66"/><circle cx="346.8" cy="423.4" r="1.76"/><circle cx="334.5" cy="445.7" r="1.67"/><circle cx="361.0" cy="414.3" r="1.71"/><circle cx="387.6" cy="426.8" r="1.58"/><circle cx="387.0" cy="444.0" r="1.56"/><circle cx="321.1" cy="455.5" r="1.59"/><circle cx="354.6" cy="423.8" r="1.70"/><circle cx="373.8" cy="426.2" r="1.48"/><circle cx="392.7" cy="465.9" r="1.46"/><circle cx="361.8" cy="451.1" r="1.61"/><circle cx="374.0" cy="469.1" r="1.69"/><circle cx="349.1" cy="418.7" r="1.55"/><circle cx="331.5" cy="413.1" r="1.53"/><circle cx="382.1" cy="441.2" r="1.77"/><circle cx="387.8" cy="459.3" r="1.47"/><circle cx="388.3" cy="411.9" r="1.76"/><circle cx="381.9" cy="449.2" r="1.61"/><circle cx="325.9" cy="411.4" r="1.70"/><circle cx="338.1" cy="440.9" r="1.56"/><circle cx="332.4" cy="425.3" r="1.74"/><circle cx="356.1" cy="431.7" r="1.64"/><circle cx="361.0" cy="439.8" r="1.63"/><circle cx="391.3" cy="455.4" r="1.54"/><circle cx="343.7" cy="418.3" r="1.60"/><circle cx="322.5" cy="454.9" r="1.68"/><circle cx="351.4" cy="464.8" r="1.58"/><circle cx="362.8" cy="467.2" r="1.67"/><circle cx="365.3" cy="430.1" r="1.85"/><circle cx="375.7" cy="425.8" r="1.59"/><circle cx="363.8" cy="440.0" r="1.66"/><circle cx="334.5" cy="443.8" r="1.73"/><circle cx="376.5" cy="435.5" r="1.63"/><circle cx="357.4" cy="441.2" r="1.64"/><circle cx="321.3" cy="423.2" r="1.85"/><circle cx="381.0" cy="436.6" r="1.75"/><circle cx="335.9" cy="423.4" r="1.66"/><circle cx="371.7" cy="407.6" r="1.64"/><circle cx="386.8" cy="446.2" r="1.85"/><circle cx="327.6" cy="465.8" r="1.78"/><circle cx="322.3" cy="441.2" r="1.75"/><circle cx="336.7" cy="448.7" r="1.79"/><circle cx="378.6" cy="434.1" r="1.47"/><circle cx="359.9" cy="418.2" r="1.67"/><circle cx="340.1" cy="428.7" r="1.67"/><circle cx="380.5" cy="470.2" r="1.61"/><circle cx="320.9" cy="455.3" r="1.59"/><circle cx="375.9" cy="460.6" r="1.46"/><circle cx="374.0" cy="424.6" r="1.58"/><circle cx="344.9" cy="441.3" r="1.55"/><circle cx="356.6" cy="424.5" r="1.50"/><circle cx="338.7" cy="450.7" r="1.57"/><circle cx="335.1" cy="429.9" r="1.54"/><circle cx="392.6" cy="457.8" r="1.51"/><circle cx="341.9" cy="434.6" r="1.66"/><circle cx="348.9" cy="440.3" r="1.75"/><circle cx="331.7" cy="442.7" r="1.52"/><circle cx="359.6" cy="426.7" r="1.77"/><circle cx="385.0" cy="468.9" r="1.61"/><circle cx="365.6" cy="416.9" r="1.73"/><circle cx="377.4" cy="434.0" r="1.58"/><circle cx="376.0" cy="455.3" r="1.77"/><circle cx="341.6" cy="421.8" r="1.55"/><circle cx="334.4" cy="406.3" r="1.50"/><circle cx="356.5" cy="434.2" r="1.81"/><circle cx="348.1" cy="417.0" r="1.82"/><circle cx="325.7" cy="428.2" r="1.76"/><circle cx="344.0" cy="469.4" r="1.75"/><circle cx="343.0" cy="462.8" r="1.82"/><circle cx="358.1" cy="415.3" r="1.49"/><circle cx="380.4" cy="464.4" r="1.71"/><circle cx="377.1" cy="458.2" r="1.54"/><circle cx="336.0" cy="463.1" r="1.79"/><circle cx="352.4" cy="423.6" r="1.48"/><circle cx="365.8" cy="438.1" r="1.22"/><circle cx="351.9" cy="442.6" r="1.24"/><circle cx="358.8" cy="443.2" r="1.54"/><circle cx="369.3" cy="436.9" r="1.50"/><circle cx="357.9" cy="440.8" r="1.39"/><circle cx="360.1" cy="434.8" r="1.21"/><circle cx="361.6" cy="441.6" r="1.57"/><circle cx="363.3" cy="444.1" r="1.39"/><circle cx="361.5" cy="440.1" r="1.30"/><circle cx="359.8" cy="439.8" r="1.27"/><circle cx="371.9" cy="443.1" r="1.29"/><circle cx="354.6" cy="441.5" r="1.59"/><circle cx="357.9" cy="436.2" r="1.40"/><circle cx="358.4" cy="449.1" r="1.24"/><circle cx="356.5" cy="439.2" r="1.31"/><circle cx="356.4" cy="442.2" r="1.44"/><circle cx="360.4" cy="441.8" r="1.26"/><circle cx="368.2" cy="445.9" r="1.40"/><circle cx="355.7" cy="435.2" r="1.27"/><circle cx="364.2" cy="440.3" r="1.38"/><circle cx="351.8" cy="442.0" r="1.51"/><circle cx="362.7" cy="448.5" r="1.37"/></g>
<g fill="#222"><circle cx="358.2" cy="458.5" r="1.33"/><circle cx="341.1" cy="455.9" r="1.23"/><circle cx="368.4" cy="412.6" r="0.96"/><circle cx="348.1" cy="454.6" r="1.05"/><circle cx="356.7" cy="426.3" r="1.29"/><circle cx="389.2" cy="431.8" r="1.35"/><circle cx="324.5" cy="458.9" r="1.30"/><circle cx="331.0" cy="451.9" r="1.17"/><circle cx="389.9" cy="419.2" r="1.17"/><circle cx="384.6" cy="447.5" r="1.07"/><circle cx="325.9" cy="467.3" r="1.14"/><circle cx="392.9" cy="414.6" r="1.27"/><circle cx="379.5" cy="466.0" r="0.96"/><circle cx="347.2" cy="408.7" r="1.25"/><circle cx="345.9" cy="468.6" r="1.10"/><circle cx="376.7" cy="462.6" r="1.05"/><circle cx="360.7" cy="468.5" r="1.16"/><circle cx="346.3" cy="422.9" r="1.26"/><circle cx="334.0" cy="445.2" r="1.17"/><circle cx="360.5" cy="413.8" r="1.21"/><circle cx="387.1" cy="426.3" r="1.08"/><circle cx="386.5" cy="443.5" r="1.06"/><circle cx="320.6" cy="455.0" r="1.09"/><circle cx="354.1" cy="423.3" r="1.20"/><circle cx="373.3" cy="425.7" r="0.98"/><circle cx="392.2" cy="465.4" r="0.96"/><circle cx="361.3" cy="450.6" r="1.11"/><circle cx="373.5" cy="468.6" r="1.19"/><circle cx="348.6" cy="418.2" r="1.05"/><circle cx="331.0" cy="412.6" r="1.03"/><circle cx="381.6" cy="440.7" r="1.27"/><circle cx="387.3" cy="458.8" r="0.97"/><circle cx="387.8" cy="411.4" r="1.26"/><circle cx="381.4" cy="448.7" r="1.11"/><circle cx="325.4" cy="410.9" r="1.20"/><circle cx="337.6" cy="440.4" r="1.06"/><circle cx="331.9" cy="424.8" r="1.24"/><circle cx="355.6" cy="431.2" r="1.14"/><circle cx="360.5" cy="439.3" r="1.13"/><circle cx="390.8" cy="454.9" r="1.04"/><circle cx="343.2" cy="417.8" r="1.10"/><circle cx="322.0" cy="454.4" r="1.18"/><circle cx="350.9" cy="464.3" r="1.08"/><circle cx="362.3" cy="466.7" r="1.17"/><circle cx="364.8" cy="429.6" r="1.35"/><circle cx="375.2" cy="425.3" r="1.09"/><circle cx="363.3" cy="439.5" r="1.16"/><circle cx="334.0" cy="443.3" r="1.23"/><circle cx="376.0" cy="435.0" r="1.13"/><circle cx="356.9" cy="440.7" r="1.14"/><circle cx="320.8" cy="422.7" r="1.35"/><circle cx="380.5" cy="436.1" r="1.25"/><circle cx="335.4" cy="422.9" r="1.16"/><circle cx="371.2" cy="407.1" r="1.14"/><circle cx="386.3" cy="445.7" r="1.35"/><circle cx="327.1" cy="465.3" r="1.28"/><circle cx="321.8" cy="440.7" r="1.25"/><circle cx="336.2" cy="448.2" r="1.29"/><circle cx="378.1" cy="433.6" r="0.97"/><circle cx="359.4" cy="417.7" r="1.17"/><circle cx="339.6" cy="428.2" r="1.17"/><circle cx="380.0" cy="469.7" r="1.11"/><circle cx="320.4" cy="454.8" r="1.09"/><circle cx="375.4" cy="460.1" r="0.96"/><circle cx="373.5" cy="424.1" r="1.08"/><circle cx="344.4" cy="440.8" r="1.05"/><circle cx="356.1" cy="424.0" r="1.00"/><circle cx="338.2" cy="450.2" r="1.07"/><circle cx="334.6" cy="429.4" r="1.04"/><circle cx="392.1" cy="457.3" r="1.01"/><circle cx="341.4" cy="434.1" r="1.16"/><circle cx="348.4" cy="439.8" r="1.25"/><circle cx="331.2" cy="442.2" r="1.02"/><circle cx="359.1" cy="426.2" r="1.27"/><circle cx="384.5" cy="468.4" r="1.11"/><circle cx="365.1" cy="416.4" r="1.23"/><circle cx="376.9" cy="433.5" r="1.08"/><circle cx="375.5" cy="454.8" r="1.27"/><circle cx="341.1" cy="421.3" r="1.05"/><circle cx="333.9" cy="405.8" r="1.00"/><circle cx="356.0" cy="433.7" r="1.31"/><circle cx="347.6" cy="416.5" r="1.32"/><circle cx="325.2" cy="427.7" r="1.26"/><circle cx="343.5" cy="468.9" r="1.25"/><circle cx="342.5" cy="462.3" r="1.32"/><circle cx="357.6" cy="414.8" r="0.99"/><circle cx="379.9" cy="463.9" r="1.21"/><circle cx="376.6" cy="457.7" r="1.04"/><circle cx="335.5" cy="462.6" r="1.29"/><circle cx="351.9" cy="423.1" r="0.98"/><circle cx="365.3" cy="437.6" r="0.72"/><circle cx="351.4" cy="442.1" r="0.74"/><circle cx="358.3" cy="442.7" r="1.04"/><circle cx="368.8" cy="436.4" r="1.00"/><circle cx="357.4" cy="440.3" r="0.89"/><circle cx="359.6" cy="434.3" r="0.71"/><circle cx="361.1" cy="441.1" r="1.07"/><circle cx="362.8" cy="443.6" r="0.89"/><circle cx="361.0" cy="439.6" r="0.80"/><circle cx="359.3" cy="439.3" r="0.77"/><circle cx="371.4" cy="442.6" r="0.79"/><circle cx="354.1" cy="441.0" r="1.09"/><circle cx="357.4" cy="435.7" r="0.90"/><circle cx="357.9" cy="448.6" r="0.74"/><circle cx="356.0" cy="438.7" r="0.81"/><circle cx="355.9" cy="441.7" r="0.94"/><circle cx="359.9" cy="441.3" r="0.76"/><circle cx="367.7" cy="445.4" r="0.90"/><circle cx="355.2" cy="434.7" r="0.77"/><circle cx="363.7" cy="439.8" r="0.88"/><circle cx="351.3" cy="441.5" r="1.01"/><circle cx="362.2" cy="448.0" r="0.87"/></g></g>
<path d="M357.5,444 L350,471.3 M355,444 L347.5,471.3" stroke="#2a2a2a" stroke-width="0.9"/>
<circle cx="356.2" cy="444" r="1.8" fill="#111"/>
</g>
<text x="320.7" y="417.9" font-size="12.6" font-weight="bold" text-anchor="start" fill="#fff" stroke="#fff" stroke-width="0.1" >30:00</text>
<defs><clipPath id="cflg8"><rect x="393.2" y="405.3" width="72.2" height="66"/></clipPath></defs>
<g clip-path="url(#cflg8)"><rect x="393.2" y="405.3" width="72.2" height="66" fill="#0c0c0c"/>
<g filter="url(#sb)"><circle cx="406.3" cy="449.0" r="0.77" fill="#4a4a4a"/><circle cx="461.9" cy="446.8" r="0.69" fill="#5a5a5a"/><circle cx="426.3" cy="422.8" r="0.73" fill="#2e2e2e"/><circle cx="401.7" cy="439.8" r="0.98" fill="#4a4a4a"/><circle cx="455.7" cy="467.6" r="0.72" fill="#4a4a4a"/><circle cx="407.7" cy="429.4" r="0.85" fill="#2e2e2e"/><circle cx="457.6" cy="455.2" r="0.85" fill="#2e2e2e"/><circle cx="414.8" cy="405.7" r="1.09" fill="#4a4a4a"/><circle cx="448.9" cy="432.1" r="0.77" fill="#808080"/><circle cx="431.2" cy="459.8" r="0.90" fill="#5a5a5a"/><circle cx="433.0" cy="423.9" r="0.88" fill="#808080"/><circle cx="403.7" cy="450.4" r="0.92" fill="#4a4a4a"/><circle cx="406.9" cy="448.0" r="1.00" fill="#4a4a4a"/><circle cx="422.6" cy="437.0" r="0.65" fill="#2e2e2e"/><circle cx="407.7" cy="422.4" r="1.02" fill="#2e2e2e"/><circle cx="432.5" cy="411.2" r="0.67" fill="#4a4a4a"/><circle cx="428.5" cy="421.8" r="0.65" fill="#5a5a5a"/><circle cx="407.9" cy="465.4" r="0.91" fill="#808080"/><circle cx="452.3" cy="450.3" r="0.86" fill="#4a4a4a"/><circle cx="449.0" cy="461.2" r="0.64" fill="#6a6a6a"/><circle cx="452.2" cy="417.3" r="0.81" fill="#5a5a5a"/><circle cx="444.3" cy="450.2" r="0.78" fill="#5a5a5a"/><circle cx="417.6" cy="461.1" r="0.75" fill="#4a4a4a"/><circle cx="424.5" cy="451.4" r="1.03" fill="#808080"/><circle cx="423.8" cy="456.0" r="0.91" fill="#2e2e2e"/><circle cx="457.5" cy="405.7" r="0.88" fill="#6a6a6a"/><circle cx="432.8" cy="405.9" r="0.90" fill="#5a5a5a"/><circle cx="423.7" cy="432.0" r="0.91" fill="#6a6a6a"/><circle cx="455.9" cy="460.5" r="1.02" fill="#4a4a4a"/><circle cx="409.4" cy="461.7" r="0.69" fill="#5a5a5a"/><circle cx="445.9" cy="424.9" r="0.63" fill="#3a3a3a"/><circle cx="460.4" cy="455.4" r="0.97" fill="#808080"/><circle cx="404.1" cy="419.3" r="1.07" fill="#4a4a4a"/><circle cx="453.8" cy="451.4" r="1.00" fill="#4a4a4a"/><circle cx="460.1" cy="412.3" r="0.79" fill="#5a5a5a"/><circle cx="416.9" cy="445.1" r="1.07" fill="#2e2e2e"/><circle cx="405.5" cy="451.4" r="1.01" fill="#6a6a6a"/><circle cx="446.7" cy="471.0" r="0.61" fill="#6a6a6a"/><circle cx="451.1" cy="408.3" r="0.73" fill="#5a5a5a"/><circle cx="399.7" cy="424.0" r="0.79" fill="#2e2e2e"/><circle cx="442.0" cy="434.2" r="0.65" fill="#5a5a5a"/><circle cx="453.5" cy="422.5" r="1.01" fill="#6a6a6a"/><circle cx="431.5" cy="411.1" r="0.95" fill="#6a6a6a"/><circle cx="457.2" cy="468.0" r="0.68" fill="#2e2e2e"/><circle cx="400.0" cy="429.3" r="0.87" fill="#2e2e2e"/><circle cx="428.7" cy="456.2" r="0.85" fill="#6a6a6a"/><circle cx="455.2" cy="450.0" r="0.83" fill="#3a3a3a"/><circle cx="429.9" cy="466.2" r="1.02" fill="#2e2e2e"/><circle cx="465.1" cy="406.5" r="0.80" fill="#5a5a5a"/><circle cx="444.7" cy="443.4" r="0.74" fill="#4a4a4a"/><circle cx="432.1" cy="452.4" r="0.76" fill="#4a4a4a"/><circle cx="409.8" cy="452.2" r="0.74" fill="#808080"/><circle cx="423.8" cy="466.3" r="0.86" fill="#5a5a5a"/><circle cx="423.1" cy="464.1" r="0.91" fill="#808080"/><circle cx="413.0" cy="409.3" r="0.90" fill="#5a5a5a"/><circle cx="429.8" cy="445.7" r="0.75" fill="#2e2e2e"/><circle cx="413.9" cy="465.9" r="0.61" fill="#2e2e2e"/><circle cx="439.2" cy="439.6" r="1.04" fill="#3a3a3a"/><circle cx="405.3" cy="470.5" r="1.10" fill="#4a4a4a"/><circle cx="406.8" cy="409.7" r="0.88" fill="#4a4a4a"/><circle cx="395.3" cy="441.3" r="0.72" fill="#3a3a3a"/><circle cx="446.3" cy="460.2" r="0.84" fill="#4a4a4a"/><circle cx="448.1" cy="426.6" r="0.73" fill="#5a5a5a"/><circle cx="402.8" cy="430.3" r="0.91" fill="#2e2e2e"/><circle cx="460.5" cy="450.6" r="0.87" fill="#5a5a5a"/><circle cx="408.7" cy="448.9" r="0.97" fill="#808080"/><circle cx="460.2" cy="469.6" r="0.80" fill="#3a3a3a"/><circle cx="428.8" cy="469.3" r="0.77" fill="#4a4a4a"/><circle cx="427.6" cy="463.7" r="1.04" fill="#4a4a4a"/><circle cx="417.8" cy="406.2" r="0.78" fill="#3a3a3a"/><circle cx="460.3" cy="419.1" r="0.72" fill="#4a4a4a"/><circle cx="437.6" cy="428.1" r="0.92" fill="#3a3a3a"/><circle cx="435.7" cy="413.6" r="1.01" fill="#5a5a5a"/><circle cx="461.3" cy="408.9" r="0.93" fill="#2e2e2e"/><circle cx="404.9" cy="425.4" r="0.88" fill="#808080"/><circle cx="416.4" cy="439.6" r="0.89" fill="#5a5a5a"/><circle cx="413.7" cy="428.8" r="1.09" fill="#5a5a5a"/><circle cx="423.4" cy="429.4" r="0.87" fill="#3a3a3a"/><circle cx="413.0" cy="415.4" r="1.06" fill="#4a4a4a"/><circle cx="428.6" cy="420.5" r="0.74" fill="#4a4a4a"/><circle cx="436.4" cy="443.1" r="0.94" fill="#aaa"/><circle cx="419.1" cy="446.4" r="0.99" fill="#999"/><circle cx="408.0" cy="444.0" r="0.72" fill="#bbb"/><circle cx="441.6" cy="424.9" r="0.71" fill="#aaa"/><circle cx="426.0" cy="442.9" r="1.01" fill="#777"/><circle cx="415.8" cy="444.0" r="0.75" fill="#bbb"/><circle cx="434.8" cy="421.8" r="0.79" fill="#777"/><circle cx="442.5" cy="428.7" r="0.82" fill="#ccc"/><circle cx="437.7" cy="453.5" r="0.97" fill="#bbb"/><circle cx="433.9" cy="433.9" r="0.73" fill="#888"/><circle cx="405.0" cy="437.1" r="1.05" fill="#999"/><circle cx="433.2" cy="446.1" r="1.07" fill="#999"/><circle cx="413.4" cy="448.1" r="0.74" fill="#ccc"/><circle cx="432.1" cy="426.5" r="0.88" fill="#999"/><circle cx="425.1" cy="431.8" r="1.05" fill="#aaa"/><circle cx="423.5" cy="430.6" r="0.78" fill="#bbb"/><circle cx="413.0" cy="448.4" r="0.96" fill="#bbb"/><circle cx="436.1" cy="435.2" r="0.89" fill="#bbb"/><circle cx="433.3" cy="443.7" r="0.62" fill="#ccc"/><circle cx="435.8" cy="436.7" r="1.06" fill="#bbb"/><circle cx="407.5" cy="450.8" r="0.85" fill="#aaa"/><circle cx="426.0" cy="443.4" r="1.02" fill="#777"/><circle cx="430.9" cy="432.5" r="0.86" fill="#bbb"/><circle cx="438.2" cy="439.3" r="0.94" fill="#bbb"/><circle cx="437.2" cy="434.9" r="1.03" fill="#aaa"/><circle cx="435.7" cy="441.7" r="0.90" fill="#bbb"/><circle cx="423.6" cy="443.3" r="0.65" fill="#999"/><circle cx="424.6" cy="450.2" r="0.76" fill="#bbb"/><circle cx="402.9" cy="451.7" r="0.92" fill="#bbb"/><circle cx="428.2" cy="425.5" r="0.63" fill="#bbb"/><circle cx="423.6" cy="431.5" r="0.95" fill="#aaa"/><circle cx="404.4" cy="437.2" r="1.02" fill="#999"/><circle cx="424.4" cy="438.1" r="0.74" fill="#888"/><circle cx="433.1" cy="456.6" r="0.65" fill="#999"/><circle cx="431.4" cy="445.7" r="1.04" fill="#888"/><circle cx="442.4" cy="455.5" r="1.02" fill="#777"/><circle cx="455.1" cy="421.0" r="0.87" fill="#bbb"/><circle cx="427.4" cy="451.6" r="0.74" fill="#bbb"/><circle cx="417.7" cy="426.1" r="0.64" fill="#ccc"/><circle cx="436.4" cy="441.3" r="0.70" fill="#777"/><circle cx="444.3" cy="425.4" r="0.70" fill="#777"/><circle cx="435.8" cy="443.4" r="0.81" fill="#888"/><circle cx="428.3" cy="430.0" r="0.95" fill="#777"/><circle cx="419.8" cy="449.0" r="0.76" fill="#ccc"/><circle cx="438.8" cy="426.8" r="0.77" fill="#888"/><circle cx="392.3" cy="429.2" r="1.08" fill="#bbb"/><circle cx="439.6" cy="462.9" r="0.73" fill="#aaa"/><circle cx="436.9" cy="465.5" r="0.99" fill="#bbb"/><circle cx="434.6" cy="439.4" r="1.01" fill="#777"/><circle cx="415.3" cy="430.0" r="0.98" fill="#999"/><circle cx="424.0" cy="450.4" r="1.01" fill="#888"/><circle cx="440.1" cy="435.4" r="0.71" fill="#888"/><circle cx="439.8" cy="450.8" r="1.01" fill="#aaa"/><circle cx="433.9" cy="435.4" r="1.04" fill="#888"/><circle cx="416.8" cy="442.9" r="1.03" fill="#888"/><circle cx="438.6" cy="443.4" r="1.04" fill="#bbb"/><circle cx="428.6" cy="442.3" r="0.95" fill="#888"/><circle cx="433.4" cy="442.3" r="0.93" fill="#999"/><circle cx="452.6" cy="449.6" r="0.63" fill="#bbb"/><circle cx="423.2" cy="428.1" r="0.89" fill="#bbb"/><circle cx="443.7" cy="436.0" r="0.93" fill="#999"/><circle cx="455.6" cy="452.2" r="0.96" fill="#ccc"/><circle cx="439.4" cy="438.2" r="0.91" fill="#aaa"/><circle cx="442.0" cy="431.6" r="0.74" fill="#888"/><circle cx="420.9" cy="431.9" r="0.83" fill="#ccc"/><circle cx="436.7" cy="437.2" r="0.96" fill="#777"/><circle cx="426.2" cy="419.5" r="0.82" fill="#999"/><circle cx="441.7" cy="448.1" r="1.04" fill="#888"/><circle cx="424.3" cy="438.8" r="0.72" fill="#bbb"/><circle cx="431.9" cy="427.0" r="0.73" fill="#999"/></g>
<circle cx="430.6" cy="443.6" r="3.2" fill="none" stroke="#eee" stroke-width="1.6"/><circle cx="433.5" cy="440" r="1" fill="#ccc"/>
</g>
<text x="28.5" y="495.5" font-size="9.7" stroke="#000" stroke-width="0.2">S:</text>
<text x="53.4" y="495.5" font-size="9.6" stroke="#000" stroke-width="0.2">0.20 ± 0.0063</text>
<text x="28.5" y="510.0" font-size="9.7" stroke="#000" stroke-width="0.2">MI:</text>
<text x="52.0" y="510.0" font-size="9.6" stroke="#000" stroke-width="0.2">0.73 ± 0.022</text>
<text x="28.5" y="524.5" font-size="9.7" stroke="#000" stroke-width="0.2">X<tspan font-size="7" dy="-6" dx="0.6">D</tspan><tspan dy="6" dx="0.3">:</tspan></text>
<text x="50.6" y="524.5" font-size="9.6" stroke="#000" stroke-width="0.2">0.87 ± 0.56</text>
<text x="286.6" y="495.5" font-size="9.7" stroke="#000" stroke-width="0.2">S:</text>
<text x="311.3" y="495.5" font-size="9.6" stroke="#000" stroke-width="0.2">0.08 ± 0.0046</text>
<text x="286.6" y="510.0" font-size="9.7" stroke="#000" stroke-width="0.2">MI:</text>
<text x="309.9" y="510.0" font-size="9.6" stroke="#000" stroke-width="0.2">0.63 ± 0.035</text>
<text x="286.6" y="524.5" font-size="9.7" stroke="#000" stroke-width="0.2">X<tspan font-size="7" dy="-6" dx="0.6">D</tspan><tspan dy="6" dx="0.3">:</tspan></text>
<text x="308.5" y="524.5" font-size="9.6" stroke="#000" stroke-width="0.2">0.55 ± 0.24</text>
<line x1="136.4" y1="477.0" x2="136.4" y2="626.5" stroke="#000" stroke-width="1.2"/>
<line x1="132.9" y1="477.0" x2="136.4" y2="477.0" stroke="#000" stroke-width="1.2"/>
<line x1="132.9" y1="626.5" x2="136.4" y2="626.5" stroke="#000" stroke-width="1.2"/>
<line x1="68.0" y1="576.9" x2="204.8" y2="576.9" stroke="#000" stroke-width="1.2"/>
<line x1="68.0" y1="576.9" x2="68.0" y2="580.5" stroke="#000" stroke-width="1.2"/>
<line x1="90.80000000000001" y1="576.9" x2="90.80000000000001" y2="580.5" stroke="#000" stroke-width="1.2"/>
<line x1="113.60000000000001" y1="576.9" x2="113.60000000000001" y2="580.5" stroke="#000" stroke-width="1.2"/>
<line x1="159.20000000000002" y1="576.9" x2="159.20000000000002" y2="580.5" stroke="#000" stroke-width="1.2"/>
<line x1="182.0" y1="576.9" x2="182.0" y2="580.5" stroke="#000" stroke-width="1.2"/>
<line x1="204.8" y1="576.9" x2="204.8" y2="580.5" stroke="#000" stroke-width="1.2"/>
<text x="62.5" y="590.3" font-size="9.3" font-weight="normal" text-anchor="middle" fill="#000" stroke="#000" stroke-width="0.25" >-300</text>
<text x="89.9" y="590.3" font-size="9.3" font-weight="normal" text-anchor="middle" fill="#000" stroke="#000" stroke-width="0.25" >-200</text>
<text x="113.9" y="590.3" font-size="9.3" font-weight="normal" text-anchor="middle" fill="#000" stroke="#000" stroke-width="0.25" >-100</text>
<text x="131" y="590.3" font-size="9.3" font-weight="normal" text-anchor="middle" fill="#000" stroke="#000" stroke-width="0.25" >0</text>
<text x="158.5" y="590.3" font-size="9.3" font-weight="normal" text-anchor="middle" fill="#000" stroke="#000" stroke-width="0.25" >100</text>
<text x="185.2" y="590.3" font-size="9.3" font-weight="normal" text-anchor="middle" fill="#000" stroke="#000" stroke-width="0.25" >200</text>
<text x="209" y="590.3" font-size="9.3" font-weight="normal" text-anchor="middle" fill="#000" stroke="#000" stroke-width="0.25" >300</text>
<text x="130.8" y="480.3" font-size="9.3" font-weight="normal" text-anchor="end" fill="#000" stroke="#000" stroke-width="0.25" >200</text>
<text x="131.1" y="629.9" font-size="9.3" font-weight="normal" text-anchor="end" fill="#000" stroke="#000" stroke-width="0.25" >100</text>
<line x1="132.9" y1="526.8" x2="136.4" y2="526.8" stroke="#000" stroke-width="1.1"/>
<text x="128.1" y="533.5999999999999" font-size="9.3" font-weight="normal" text-anchor="end" fill="#000" stroke="#000" stroke-width="0.25" >100</text>
<line x1="394.8" y1="476.5" x2="394.8" y2="626.4" stroke="#000" stroke-width="1.2"/>
<line x1="391.3" y1="476.5" x2="394.8" y2="476.5" stroke="#000" stroke-width="1.2"/>
<line x1="391.3" y1="626.4" x2="394.8" y2="626.4" stroke="#000" stroke-width="1.2"/>
<line x1="319.95000000000005" y1="577.1" x2="469.65" y2="577.1" stroke="#000" stroke-width="1.2"/>
<line x1="319.95000000000005" y1="577.1" x2="319.95000000000005" y2="580.7" stroke="#000" stroke-width="1.2"/>
<line x1="344.90000000000003" y1="577.1" x2="344.90000000000003" y2="580.7" stroke="#000" stroke-width="1.2"/>
<line x1="369.85" y1="577.1" x2="369.85" y2="580.7" stroke="#000" stroke-width="1.2"/>
<line x1="419.75" y1="577.1" x2="419.75" y2="580.7" stroke="#000" stroke-width="1.2"/>
<line x1="444.7" y1="577.1" x2="444.7" y2="580.7" stroke="#000" stroke-width="1.2"/>
<line x1="469.65" y1="577.1" x2="469.65" y2="580.7" stroke="#000" stroke-width="1.2"/>
<text x="320.6" y="590.3" font-size="9.3" font-weight="normal" text-anchor="middle" fill="#000" stroke="#000" stroke-width="0.25" >-300</text>
<text x="347.7" y="590.3" font-size="9.3" font-weight="normal" text-anchor="middle" fill="#000" stroke="#000" stroke-width="0.25" >-200</text>
<text x="371.9" y="590.3" font-size="9.3" font-weight="normal" text-anchor="middle" fill="#000" stroke="#000" stroke-width="0.25" >-100</text>
<text x="389.2" y="590.3" font-size="9.3" font-weight="normal" text-anchor="middle" fill="#000" stroke="#000" stroke-width="0.25" >0</text>
<text x="417" y="590.3" font-size="9.3" font-weight="normal" text-anchor="middle" fill="#000" stroke="#000" stroke-width="0.25" >100</text>
<text x="443.7" y="590.3" font-size="9.3" font-weight="normal" text-anchor="middle" fill="#000" stroke="#000" stroke-width="0.25" >200</text>
<text x="467.7" y="590.3" font-size="9.3" font-weight="normal" text-anchor="middle" fill="#000" stroke="#000" stroke-width="0.25" >300</text>
<text x="389.2" y="479.8" font-size="9.3" font-weight="normal" text-anchor="end" fill="#000" stroke="#000" stroke-width="0.25" >200</text>
<text x="389.5" y="629.8" font-size="9.3" font-weight="normal" text-anchor="end" fill="#000" stroke="#000" stroke-width="0.25" >100</text>
<line x1="391.3" y1="526.6" x2="394.8" y2="526.6" stroke="#000" stroke-width="1.1"/>
<text x="386.5" y="533.4" font-size="9.3" font-weight="normal" text-anchor="end" fill="#000" stroke="#000" stroke-width="0.25" >100</text>
<polyline points="157.8,478.4 158.2,478.7 158.1,480.8 157.3,481.3 158.6,483.1 159.0,483.7 159.2,485.0 160.9,485.7 160.5,487.3 160.3,487.0 160.8,488.9 162.0,489.9 161.7,490.7 161.9,492.4 163.1,493.1 165.2,495.2 166.2,495.9 166.1,497.0 166.2,498.2 165.9,498.9 165.8,500.4 165.3,500.7 164.3,502.5 163.9,502.6 163.9,504.2 165.0,506.5 166.2,507.0 166.0,508.1 163.5,508.3 163.2,509.2 162.0,511.2 162.1,511.3 160.3,514.3 160.0,514.7 159.2,516.2 158.4,518.5 157.7,518.3 157.3,520.6 156.5,521.5 156.2,522.1 156.8,523.7 156.0,523.8 154.1,525.1 154.7,526.0 153.5,526.9 152.1,527.4 150.4,528.7 149.3,529.0 148.6,529.7 148.2,531.2 146.9,533.0 145.7,533.0 146.4,533.8 146.2,534.4 144.7,534.6 145.4,534.5 144.0,535.5 142.5,536.6 142.1,537.9 141.3,539.8 141.3,540.0 140.8,540.0 139.7,542.0 138.6,544.1 138.6,544.2 139.3,546.2 138.7,546.5 138.0,547.3 138.8,547.7 138.1,549.1 137.5,550.3 137.7,553.0 137.3,554.3 136.3,555.1 136.1,556.7 136.9,558.1 136.4,559.5 137.6,560.2 136.0,560.7 135.7,561.7 138.2,563.7 138.1,564.7 138.1,565.4 137.6,566.1 138.4,566.9 138.7,566.5 138.6,568.1 138.7,569.0 137.9,570.1 137.8,572.2 136.4,572.8 136.7,574.5 135.8,574.6 136.4,576.9" fill="none" stroke="#000" stroke-width="0.9" stroke-linejoin="round" opacity="1.0"/>
<polyline points="141.6,500.9 142.8,501.8 143.0,502.1 143.4,502.6 144.6,504.7 144.1,505.2 144.2,507.0 145.0,509.3 145.6,509.3 145.3,511.6 145.8,513.7 145.5,512.9 146.4,515.9 146.0,516.7 146.9,518.9 147.0,519.4 146.3,520.3 146.1,521.7 145.7,522.8 146.0,524.0 145.7,526.3 144.5,528.5 144.2,529.4 145.3,530.6 143.5,530.8 143.1,532.4 144.3,532.6 143.7,533.4 143.4,534.7 142.8,535.6 141.7,536.7 141.4,538.1 140.7,540.1 140.7,540.4 140.7,540.4 141.1,542.0 140.2,542.9 139.4,545.3 138.9,546.1 138.6,547.6 138.1,548.3 138.0,548.6 137.9,548.9 138.4,551.4 140.1,552.2 138.7,552.9 139.4,553.5 138.9,554.9 138.6,555.9 138.4,557.6 138.1,558.1 139.5,559.8 138.8,560.0 139.8,560.8 139.0,561.6 138.1,563.3 137.8,563.4 136.5,564.1 136.7,565.8 136.4,566.4 136.6,568.9 137.2,570.3 136.7,570.6 137.3,572.7 136.9,573.3 137.1,575.1 136.4,576.9" fill="none" stroke="#000" stroke-width="0.9" stroke-linejoin="round" opacity="1.0"/>
<polyline points="128.2,504.2 127.5,505.6 129.1,507.2 130.0,508.3 129.7,509.5 131.0,510.0 132.2,509.7 132.5,510.2 133.0,512.1 133.1,513.3 133.0,514.3 134.2,514.9 133.2,517.6 133.1,519.3 132.9,520.6 132.8,521.4 134.5,523.1 134.1,523.7 134.8,525.1 134.2,525.5 135.8,527.9 133.6,528.0 133.9,529.4 134.9,530.8 135.6,531.2 136.2,532.7 135.8,533.2 135.7,534.1 136.1,534.4 136.3,535.0 136.3,536.5 136.3,538.4 137.4,539.4 137.5,540.9 137.1,541.5 138.0,543.0 137.5,543.4 136.7,545.1 136.8,546.0 138.3,547.5 137.6,549.0 137.4,549.6 136.6,550.4 136.2,550.9 136.8,552.8 136.7,554.3 136.7,555.4 135.2,557.6 134.8,557.8 135.5,559.8 136.4,561.2 135.8,562.6 135.4,562.9 135.5,564.0 135.7,566.0 135.6,567.9 136.3,568.7 135.5,569.7 135.8,570.8 136.5,572.9 137.4,573.7 136.9,574.8 136.9,575.8 136.4,576.9" fill="none" stroke="#000" stroke-width="0.9" stroke-linejoin="round" opacity="1.0"/>
<polyline points="123.5,511.6 124.0,512.8 124.0,513.1 124.8,513.7 125.8,514.5 126.3,515.6 127.4,517.2 126.9,518.0 127.6,519.2 128.2,519.4 128.2,521.4 127.9,522.8 129.0,523.5 129.5,525.0 130.1,526.2 129.9,529.1 129.9,529.7 130.4,531.2 130.7,531.8 131.0,531.4 131.6,533.0 131.4,534.9 132.3,535.7 133.7,537.9 133.7,539.1 132.8,539.8 132.7,541.6 133.7,542.3 134.1,543.8 135.2,544.7 136.0,545.8 136.1,547.0 135.2,549.3 136.0,550.1 135.6,549.9 135.1,550.5 135.1,551.5 134.8,552.8 136.4,553.8 137.0,555.2 137.1,556.4 137.3,557.3 137.6,558.1 138.6,559.6 137.7,559.9 138.7,561.4 137.1,562.4 136.6,564.9 136.8,566.2 137.0,565.9 137.2,566.8 138.2,567.8 137.0,567.9 138.1,569.8 137.9,571.1 137.6,572.2 136.3,573.1 135.6,574.6 135.8,575.5 136.5,576.0 136.4,576.9" fill="none" stroke="#000" stroke-width="0.9" stroke-linejoin="round" opacity="1.0"/>
<polyline points="118.3,527.2 118.9,527.9 120.5,527.9 121.9,528.2 123.5,530.2 124.3,530.6 123.9,531.0 125.5,532.0 125.7,531.3 126.7,532.6 128.2,534.0 128.1,534.8 129.8,535.9 130.3,535.8 131.1,537.9 131.2,538.4 132.5,539.4 133.1,540.7 133.3,543.1 133.0,543.8 134.1,545.4 134.0,546.3 134.5,546.5 135.0,547.4 135.4,548.5 134.2,549.2 135.5,550.7 134.9,553.0 135.1,552.5 135.4,553.9 135.8,555.0 136.0,555.7 136.4,556.8 137.4,558.3 137.3,559.2 137.7,561.8 137.4,562.8 137.6,563.3 138.7,565.2 137.5,566.7 136.7,567.2 137.8,569.0 137.5,569.3 137.5,570.9 136.8,573.1 135.5,574.4 136.0,575.1 136.1,576.2 136.4,576.9" fill="none" stroke="#000" stroke-width="0.9" stroke-linejoin="round" opacity="1.0"/>
<polyline points="110.4,558.7 111.2,558.3 112.8,559.6 113.6,559.2 113.8,559.4 115.5,558.2 116.4,558.2 117.8,557.8 118.3,558.2 120.1,560.0 121.7,559.5 122.7,559.9 123.5,561.2 123.8,562.6 125.2,562.4 126.9,563.2 127.9,563.9 128.9,565.6 130.2,566.7 131.5,567.3 133.0,568.3 132.7,568.8 133.5,570.6 133.8,571.5 134.8,573.0 135.0,573.3 137.1,573.7 136.1,574.4 135.8,575.6 136.4,576.9" fill="none" stroke="#000" stroke-width="0.9" stroke-linejoin="round" opacity="1.0"/>
<polyline points="115.3,563.9 116.1,565.6 117.9,565.5 119.7,566.8 119.7,566.5 121.6,567.8 121.3,567.0 123.5,567.7 125.1,567.6 126.5,567.9 127.4,568.0 127.5,567.5 128.3,569.4 130.1,570.0 132.1,571.5 132.3,571.4 134.1,572.1 134.2,571.8 134.8,572.9 136.1,574.5 135.9,574.8 135.9,575.2 136.4,576.9" fill="none" stroke="#000" stroke-width="0.9" stroke-linejoin="round" opacity="1.0"/>
<polyline points="172.5,558.9 172.7,557.0 172.0,556.8 170.3,554.0 168.9,555.5 168.4,554.7 167.8,553.4 165.4,551.2 165.2,552.2 163.6,553.4 163.0,553.4 161.7,552.6 159.4,552.9 158.7,551.1 157.5,551.6 156.3,552.0 153.9,553.0 152.8,552.4 151.6,551.7 151.1,551.0 149.5,550.9 148.6,550.3 149.0,551.1 147.7,552.7 148.4,552.6 147.0,554.3 146.8,555.5 145.6,555.5 145.3,556.7 145.0,558.7 145.3,559.3 144.6,559.7 143.5,562.6 142.7,563.0 141.7,564.8 141.6,565.3 140.3,565.4 139.7,567.4 139.0,567.9 138.7,568.7 139.4,570.1 138.7,572.6 137.9,572.9 137.6,573.7 137.1,574.4 137.1,575.8 136.4,576.9" fill="none" stroke="#000" stroke-width="0.9" stroke-linejoin="round" opacity="1.0"/>
<polyline points="157.7,514.4 157.9,515.0 158.2,516.7 159.0,517.7 158.9,519.3 160.6,519.9 160.8,520.9 160.9,521.1 160.5,523.4 159.4,524.4 158.8,524.4 158.9,525.8 158.0,525.9 157.2,527.5 155.1,529.2 154.8,529.7 155.1,530.9 154.6,532.7 153.7,533.4 152.6,534.6 152.0,535.5 151.4,535.4 151.3,537.0 151.3,537.2 149.7,537.6 148.6,540.0 148.1,540.6 149.0,542.6 147.5,543.3 147.9,543.9 146.6,545.0 148.0,545.3 148.8,546.4 148.1,547.0 146.9,548.0 146.1,549.6 145.3,549.8 144.5,550.6 145.1,552.3 144.2,554.1 143.4,554.8 144.3,556.6 142.9,556.2 141.1,557.9 141.1,559.4 140.4,561.1 140.3,562.8 140.6,564.4 140.3,566.1 138.5,566.7 138.0,567.7 137.3,568.3 137.0,570.2 137.2,571.5 137.9,572.8 136.7,574.7 136.2,575.4 136.4,576.9" fill="none" stroke="#000" stroke-width="0.9" stroke-linejoin="round" opacity="1.0"/>
<polyline points="118.6,543.6 121.0,543.9 120.3,544.2 122.3,544.1 122.7,544.8 123.2,546.1 124.6,546.4 126.5,547.3 126.8,548.4 128.3,548.7 129.2,550.3 130.9,550.2 131.7,550.7 133.0,551.0 132.9,551.8 133.0,552.4 133.4,552.7 134.0,553.9 135.1,554.9 136.7,555.7 136.5,558.0 136.8,560.3 136.8,560.6 135.4,562.6 136.2,562.4 135.2,565.1 135.7,565.3 136.5,566.4 136.6,567.2 136.2,568.3 135.2,569.7 135.4,571.2 136.6,571.7 136.4,573.0 136.4,574.0 136.3,576.0 136.4,576.9" fill="none" stroke="#000" stroke-width="0.9" stroke-linejoin="round" opacity="1.0"/>
<polyline points="166.7,566.7 165.0,566.6 163.9,566.6 163.3,566.1 161.3,566.6 159.9,565.7 158.6,565.6 157.4,564.8 158.2,564.4 156.6,566.2 156.0,566.7 154.2,567.2 153.7,567.5 152.8,567.3 151.2,567.7 150.4,568.0 149.2,569.2 147.8,570.4 146.3,569.7 145.0,570.8 144.2,571.0 142.5,571.7 142.4,572.4 140.4,572.7 139.7,573.5 138.4,573.8 137.8,574.5 137.8,575.4 137.6,576.3 136.4,576.9" fill="none" stroke="#000" stroke-width="0.9" stroke-linejoin="round" opacity="1.0"/>
<polyline points="151.7,530.9 151.5,531.2 152.1,532.6 152.4,533.1 151.5,535.4 152.1,536.6 152.1,536.6 152.0,536.4 152.7,537.8 152.1,538.7 152.5,539.2 151.7,541.4 151.8,541.7 150.7,542.3 151.1,543.2 150.9,545.2 149.4,546.4 148.5,546.9 147.9,549.1 148.5,551.1 147.7,551.8 147.5,552.2 148.2,554.2 147.5,554.9 146.7,555.0 146.1,556.3 144.1,556.8 144.4,558.8 143.9,560.6 144.3,561.1 144.2,562.7 142.7,563.0 141.4,564.4 141.4,565.6 141.0,566.5 139.9,567.8 139.4,569.9 139.1,570.8 137.9,572.2 138.3,573.3 137.3,574.6 137.3,575.3 137.5,576.1 136.1,576.1 136.4,576.9" fill="none" stroke="#000" stroke-width="0.9" stroke-linejoin="round" opacity="1.0"/>
<polyline points="146.3,520.5 147.2,522.4 146.6,523.9 146.9,525.1 148.2,525.7 146.8,526.8 147.1,528.7 148.3,529.2 147.5,530.6 147.7,533.2 149.1,535.2 150.7,535.5 151.2,536.8 150.2,536.7 150.5,538.4 149.6,538.8 149.7,541.0 149.8,542.2 149.7,542.7 148.9,543.7 148.9,544.8 147.3,544.8 146.7,546.6 146.3,547.0 147.0,549.2 145.9,549.5 146.0,550.5 144.6,551.2 144.7,553.4 144.2,554.0 142.4,553.8 143.0,555.1 141.7,556.7 141.1,556.7 140.7,558.3 140.1,560.0 138.8,559.5 138.8,559.8 139.0,561.1 139.0,562.6 137.7,562.9 137.2,564.2 136.7,567.0 136.4,567.3 135.6,570.2 135.1,570.8 136.0,572.9 136.2,573.9 135.8,573.9 137.6,574.8 136.0,574.6 136.4,576.9" fill="none" stroke="#000" stroke-width="0.9" stroke-linejoin="round" opacity="1.0"/>
<polyline points="131.3,521.6 132.7,523.8 132.9,524.7 134.5,526.8 134.2,527.9 133.9,530.0 134.3,531.2 134.3,532.1 135.2,533.5 134.7,535.6 134.5,536.8 134.3,538.2 134.2,539.7 132.8,539.4 133.0,541.4 132.0,540.9 132.8,543.2 131.7,543.6 131.5,545.3 131.6,546.6 130.5,547.1 130.4,549.3 130.9,549.9 131.8,551.9 131.9,552.8 132.4,554.1 132.1,553.8 132.7,554.0 133.4,555.1 133.7,556.5 135.0,558.1 134.4,559.1 134.7,559.5 135.5,560.8 135.9,561.7 135.6,562.4 136.0,564.5 135.6,565.3 136.1,566.6 136.1,568.5 135.4,568.4 134.9,569.5 136.1,569.9 135.8,572.1 135.2,572.3 134.9,573.9 136.7,575.1 136.4,576.1 136.4,576.9" fill="none" stroke="#000" stroke-width="0.9" stroke-linejoin="round" opacity="1.0"/>
<polyline points="127.6,540.1 129.7,540.9 129.1,542.1 129.5,543.9 130.3,545.7 130.6,547.5 131.0,547.7 130.4,548.8 131.3,549.6 131.8,551.0 132.4,551.3 133.3,551.4 134.8,553.0 135.1,554.5 134.3,556.1 134.6,556.9 134.1,558.3 134.4,559.4 134.4,560.9 133.9,561.0 134.9,562.0 135.1,562.9 134.5,563.1 135.3,565.1 135.5,565.6 136.5,567.3 136.1,568.4 135.6,569.5 136.2,570.7 135.7,571.8 136.4,573.2 137.0,573.9 137.3,575.3 136.4,576.9" fill="none" stroke="#000" stroke-width="0.9" stroke-linejoin="round" opacity="1.0"/>
<polyline points="137.4,520.1 138.9,521.6 137.8,522.4 137.3,522.1 137.6,523.4 137.9,524.4 137.8,527.0 138.7,527.1 138.4,526.8 138.8,528.0 137.6,529.5 138.2,530.2 138.8,531.8 138.5,533.3 138.8,533.1 137.5,534.8 138.7,535.9 137.2,536.6 137.1,538.2 136.7,538.5 137.3,540.6 137.8,540.9 136.3,543.1 137.1,543.7 135.9,544.7 135.4,546.1 136.4,546.6 135.5,547.5 134.9,548.9 135.4,551.0 135.7,552.3 136.5,553.2 135.8,553.9 136.9,556.0 135.6,556.1 136.8,557.9 137.6,559.5 137.9,561.6 136.8,562.3 136.9,563.7 138.0,565.5 137.2,565.5 138.0,568.1 136.8,568.9 137.6,570.3 137.7,571.6 137.1,573.8 138.1,574.8 136.2,576.2 136.4,576.9" fill="none" stroke="#000" stroke-width="0.9" stroke-linejoin="round" opacity="1.0"/>
<polyline points="150.0,505.3 151.4,504.7 150.2,507.2 149.8,507.1 150.2,507.8 149.7,509.9 151.0,511.1 150.1,512.5 149.8,515.1 150.6,515.5 150.6,517.3 151.4,517.8 150.1,518.3 150.0,520.4 150.3,520.8 148.9,522.6 148.8,522.5 147.6,523.5 147.2,524.2 146.3,525.9 145.8,526.9 146.3,528.5 144.8,530.1 145.2,531.4 145.4,532.2 145.2,531.9 144.8,533.5 144.7,534.3 143.3,535.1 143.7,536.8 143.5,537.9 143.2,537.3 143.0,540.1 142.7,541.0 142.1,542.3 142.8,542.9 142.6,543.8 143.4,545.4 141.5,544.6 141.0,546.0 141.0,547.3 141.7,549.1 140.3,549.7 141.3,551.3 141.1,552.9 141.3,555.3 140.7,556.5 140.3,557.9 139.2,559.5 138.0,560.9 138.1,560.9 138.1,563.2 137.6,562.8 137.1,564.7 137.0,565.2 136.3,566.1 137.6,568.5 136.3,569.9 136.5,570.1 136.6,571.9 137.0,572.0 136.7,574.3 136.4,574.6 135.4,575.2 136.4,576.0 136.4,576.9" fill="none" stroke="#000" stroke-width="0.9" stroke-linejoin="round" opacity="1.0"/>
<polyline points="124.1,552.2 123.7,553.1 125.7,553.7 125.8,554.3 127.7,555.2 127.2,555.5 129.1,556.2 128.7,557.0 129.6,557.6 131.2,558.8 131.1,558.8 132.0,560.4 133.3,561.6 132.7,561.9 132.4,564.8 132.7,565.2 132.9,567.5 134.6,568.2 134.9,568.4 135.4,570.7 135.4,571.7 136.1,573.1 137.3,574.8 137.1,576.6 136.4,576.9" fill="none" stroke="#000" stroke-width="0.9" stroke-linejoin="round" opacity="1.0"/>
<polyline points="146.5,545.1 146.9,546.2 148.3,547.5 148.8,547.8 147.7,549.0 150.2,550.2 149.8,551.6 151.8,551.5 149.5,553.3 148.9,554.9 148.6,556.2 148.0,557.4 148.4,558.4 148.1,558.6 147.5,559.5 147.2,560.8 146.4,562.6 146.4,563.4 145.5,564.8 144.8,565.5 143.5,566.8 143.1,566.2 142.4,567.7 141.8,569.7 140.1,570.4 140.2,572.0 139.4,572.5 139.7,572.7 138.8,573.3 137.7,574.0 138.3,575.1 138.2,575.6 137.1,576.6 136.4,576.9" fill="none" stroke="#000" stroke-width="0.9" stroke-linejoin="round" opacity="1.0"/>
<polyline points="162.4,538.6 163.7,540.0 163.0,541.5 161.7,543.4 162.3,544.6 160.6,545.2 161.2,544.9 160.4,545.8 159.9,547.3 158.3,548.5 159.2,549.4 159.0,549.4 158.4,550.2 157.8,551.5 155.3,552.7 155.8,553.6 154.7,554.7 152.6,555.1 152.4,556.6 151.9,557.7 151.2,559.2 149.9,560.4 149.2,560.9 148.9,561.6 147.6,562.1 147.2,563.7 146.2,564.9 145.2,564.1 144.8,564.4 143.5,565.3 143.9,566.7 143.0,568.1 143.2,568.8 142.6,569.1 140.7,570.8 140.3,571.4 139.0,572.1 138.0,574.7 138.2,575.1 136.5,575.2 136.2,577.0 136.4,576.9" fill="none" stroke="#000" stroke-width="0.9" stroke-linejoin="round" opacity="1.0"/>
<polyline points="160.6,613.7 159.5,612.9 159.6,611.3 159.2,611.8 158.5,610.3 158.7,609.4 158.3,607.7 158.6,606.6 157.4,606.2 156.9,605.4 156.8,605.7 155.7,604.0 155.6,602.7 154.9,602.8 154.2,600.9 153.2,600.2 153.9,599.5 152.4,597.2 152.8,595.1 152.5,595.6 151.7,594.3 151.2,594.5 149.8,591.8 148.5,590.9 148.3,591.2 147.4,591.0 145.6,590.2 146.0,588.1 144.9,587.8 144.2,587.3 142.8,585.9 142.2,585.1 141.3,584.7 141.5,582.3 139.8,581.4 140.3,580.1 138.6,579.7 138.9,577.0 136.4,576.9" fill="none" stroke="#000" stroke-width="0.9" stroke-linejoin="round" opacity="1.0"/>
<polyline points="172.3,595.6 172.2,594.7 171.3,594.7 168.5,593.6 167.8,593.8 166.8,592.6 166.1,592.1 165.5,590.5 164.6,590.5 162.9,589.7 161.1,589.8 159.6,590.2 159.0,588.9 158.4,588.2 156.5,588.0 155.8,586.6 154.8,586.4 154.2,585.4 153.2,583.9 151.0,584.4 151.2,584.0 149.5,584.3 149.3,582.3 148.0,582.1 147.1,580.6 146.8,581.3 145.9,580.4 144.0,580.1 143.2,580.1 142.8,580.0 141.4,579.7 140.3,578.3 139.1,577.4 138.2,576.7 136.4,576.9" fill="none" stroke="#000" stroke-width="0.9" stroke-linejoin="round" opacity="1.0"/>
<polyline points="151.1,602.4 150.6,601.0 150.2,601.1 148.6,599.6 147.6,598.1 147.0,597.4 147.6,595.9 147.2,594.7 146.4,593.5 146.0,592.9 145.3,592.6 145.5,591.7 144.9,590.2 145.3,589.1 145.2,588.1 144.3,586.0 144.3,586.4 143.1,585.1 142.3,583.5 142.2,582.6 141.2,580.1 140.8,580.1 140.3,581.1 139.5,578.9 138.5,577.6 137.5,577.7 136.4,576.9" fill="none" stroke="#000" stroke-width="0.9" stroke-linejoin="round" opacity="1.0"/>
<polyline points="169.3,590.7 167.0,590.2 168.3,589.6 167.0,587.9 166.3,587.2 165.7,585.9 164.8,584.3 164.3,584.0 162.1,583.7 160.3,583.5 160.1,583.4 158.6,582.0 157.6,581.6 156.9,581.8 155.8,581.1 154.4,581.3 153.8,581.1 152.8,580.4 151.7,579.7 150.3,580.2 149.3,580.3 148.0,580.0 146.5,579.6 145.9,577.8 144.0,577.7 144.2,577.2 141.8,578.3 140.7,577.2 140.3,577.9 138.7,577.5 137.3,577.5 136.4,576.9" fill="none" stroke="#000" stroke-width="0.9" stroke-linejoin="round" opacity="1.0"/>
<polyline points="172.1,556.2 171.6,556.5 171.1,556.7 169.9,557.6 168.4,558.0 167.3,558.0 165.3,560.0 165.1,559.0 163.7,560.1 162.8,561.2 161.2,561.6 161.4,563.1 159.9,563.6 159.6,564.4 158.0,564.9 157.1,565.6 156.3,565.2 155.8,566.3 155.0,566.8 153.6,567.7 152.4,567.9 150.6,568.1 149.6,568.3 148.9,567.5 147.8,568.0 146.5,567.9 145.3,568.7 144.6,569.1 142.7,569.9 143.1,570.9 141.3,572.0 140.3,572.7 138.5,572.4 137.0,573.9 137.6,573.9 137.0,575.2 137.0,575.0 136.4,576.9" fill="none" stroke="#000" stroke-width="0.9" stroke-linejoin="round" opacity="1.0"/>
<polyline points="156.2,604.6 156.4,604.7 155.6,604.4 153.5,604.5 152.9,603.0 152.8,601.9 151.5,601.7 151.2,600.6 150.6,599.3 151.1,598.5 149.7,596.8 150.9,596.5 149.1,595.1 148.9,594.9 148.7,593.3 148.9,592.4 148.2,592.6 149.3,591.5 148.8,589.5 147.0,588.0 146.5,588.2 145.9,587.8 145.3,586.8 143.8,585.7 141.9,584.2 142.3,583.6 141.0,582.3 139.4,580.4 139.2,579.8 137.6,577.8 136.4,576.9" fill="none" stroke="#000" stroke-width="0.9" stroke-linejoin="round" opacity="1.0"/>
<polyline points="162.6,600.4 160.8,598.9 160.1,597.9 159.1,597.8 159.6,595.8 159.2,596.3 158.7,593.3 158.4,592.8 158.7,592.6 157.0,592.6 156.9,590.2 156.6,590.1 154.3,590.0 153.4,588.8 152.9,589.2 152.6,588.1 152.8,586.8 151.3,585.8 150.2,585.4 149.3,583.8 147.6,583.0 147.2,581.4 145.1,579.5 144.3,579.0 143.9,579.4 143.4,578.9 142.2,577.1 140.8,576.4 139.4,577.0 138.0,576.2 136.4,576.9" fill="none" stroke="#000" stroke-width="0.9" stroke-linejoin="round" opacity="1.0"/>
<polyline points="128.6,574.4 126.9,573.1 124.9,573.6 123.8,574.5 122.7,574.4 122.3,574.8 120.7,574.8 120.3,575.9 119.1,575.3 118.4,573.7 118.2,572.1 118.7,572.7 119.7,572.9 122.2,573.8 123.1,574.7 125.0,574.2 126.0,574.5 125.8,575.2 128.1,574.5 128.1,576.4 130.1,574.7 130.4,575.8 131.6,576.4 133.0,576.2 133.9,577.0 134.0,577.2 136.0,577.1 136.4,576.9" fill="none" stroke="#000" stroke-width="0.9" stroke-linejoin="round" opacity="1.0"/>
<polyline points="393.6,526.9 393.2,527.2 394.2,527.9 393.4,528.5 394.2,530.5 394.1,531.2 395.1,532.0 393.9,533.6 394.6,534.1 393.6,535.2 394.3,536.3 394.3,536.1 393.8,536.8 393.6,538.0 394.7,539.5 394.3,539.8 394.6,540.5 394.7,542.8 395.0,543.5 395.5,543.6 395.3,545.5 394.8,547.0 394.4,548.3 394.5,549.3 393.7,550.6 394.8,550.6 395.2,551.8 394.4,553.0 394.5,554.6 395.1,555.0 394.5,555.8 393.6,557.2 394.3,558.2 394.9,558.9 394.1,559.9 393.8,562.1 394.5,562.2 393.9,562.9 393.7,564.1 393.5,565.7 393.7,565.5 392.9,566.7 393.6,568.7 394.4,568.6 394.5,570.3 394.6,571.8 394.1,572.3 395.0,574.5 394.6,576.5 395.0,576.8" fill="none" stroke="#000" stroke-width="0.95" stroke-linejoin="round" opacity="1.0"/>
<polyline points="386.5,538.1 386.1,539.1 387.0,541.0 385.2,541.0 386.3,542.2 386.8,543.7 386.3,544.6 387.1,544.4 388.2,545.3 387.2,546.6 387.1,547.8 387.7,549.2 388.0,550.9 387.2,552.1 387.9,553.8 387.8,555.1 389.1,555.9 388.7,556.4 389.0,558.1 389.9,558.0 390.4,559.7 389.2,560.4 389.9,561.1 390.4,561.6 390.1,563.2 390.0,564.0 390.6,565.6 390.9,566.3 390.9,566.8 391.6,567.4 392.2,568.3 392.1,569.6 392.4,571.7 392.8,572.2 394.5,574.0 395.2,574.4 395.0,576.4 395.0,576.8" fill="none" stroke="#000" stroke-width="0.95" stroke-linejoin="round" opacity="1.0"/>
<polyline points="384.4,543.8 385.6,544.2 386.4,545.7 385.5,546.6 385.7,548.0 386.1,549.4 386.7,549.3 387.5,550.2 386.3,551.4 387.4,551.8 387.9,552.9 388.7,554.0 388.6,555.3 388.7,556.9 388.8,557.4 389.3,558.4 390.6,559.6 390.0,560.1 391.7,561.9 392.6,562.2 391.6,562.9 393.1,564.4 393.2,565.4 393.0,565.9 393.8,567.7 393.6,568.5 393.8,570.0 394.0,570.1 393.6,571.7 394.1,573.3 394.0,574.8 394.7,575.7 395.0,576.8" fill="none" stroke="#000" stroke-width="0.95" stroke-linejoin="round" opacity="1.0"/>
<polyline points="400.3,551.4 401.5,551.7 401.5,551.9 401.7,553.2 400.8,555.5 400.6,556.5 399.4,558.0 399.1,559.7 398.8,559.6 398.7,561.1 397.9,561.2 397.8,562.4 397.7,564.1 398.2,564.8 397.3,565.9 397.9,567.6 397.0,568.8 396.7,569.9 396.8,570.4 396.2,570.7 395.6,572.4 395.7,573.3 395.7,573.4 394.7,573.6 394.4,575.6 395.0,576.8" fill="none" stroke="#000" stroke-width="0.95" stroke-linejoin="round" opacity="1.0"/>
<polyline points="380.9,571.0 382.5,570.5 383.6,572.4 384.4,571.5 385.9,571.9 386.8,571.7 388.1,571.8 388.3,572.5 389.7,573.4 390.5,574.4 391.7,574.3 391.4,575.4 392.0,576.0 393.5,576.6 395.0,576.8" fill="none" stroke="#000" stroke-width="0.95" stroke-linejoin="round" opacity="1.0"/>
<polyline points="383.3,563.5 382.9,563.6 383.5,565.8 384.7,565.6 385.9,566.0 387.0,567.6 388.0,568.1 387.7,567.6 388.8,569.4 389.7,570.1 390.3,571.7 391.3,572.1 392.1,571.8 392.9,573.3 394.2,573.7 394.5,574.6 394.8,575.9 395.0,576.8" fill="none" stroke="#000" stroke-width="0.95" stroke-linejoin="round" opacity="1.0"/>
<polyline points="410.4,568.4 408.8,568.6 408.0,569.9 407.6,570.2 405.8,570.8 405.6,571.0 404.1,571.5 403.4,571.6 401.8,573.2 401.2,573.6 399.5,573.8 399.7,573.8 399.1,573.9 397.9,575.2 397.6,575.3 396.8,576.3 395.0,576.8" fill="none" stroke="#000" stroke-width="0.95" stroke-linejoin="round" opacity="1.0"/>
<polyline points="419.2,578.5 418.6,578.5 416.7,578.7 415.1,578.8 414.1,578.2 413.0,577.6 411.0,577.6 410.2,576.7 410.1,577.3 409.0,577.7 407.7,576.7 406.6,577.2 406.3,576.5 403.9,577.1 403.3,577.2 402.0,577.4 401.2,577.0 400.2,576.1 399.5,577.2 398.6,577.2 397.5,576.8 397.2,577.5 395.0,576.8" fill="none" stroke="#000" stroke-width="0.95" stroke-linejoin="round" opacity="1.0"/>
<polyline points="379.8,587.8 380.3,586.3 380.9,586.4 381.3,585.5 382.1,584.7 384.1,583.4 385.4,583.7 385.5,583.5 387.0,582.8 387.1,581.6 389.4,581.5 389.1,582.1 391.2,581.7 391.0,579.4 393.0,579.7 393.4,577.7 394.1,577.3 395.0,576.8" fill="none" stroke="#000" stroke-width="0.95" stroke-linejoin="round" opacity="1.0"/>
<polyline points="407.4,598.3 407.6,598.0 407.9,596.9 406.9,595.4 407.2,594.8 406.1,593.7 406.2,592.7 406.1,591.6 405.2,590.8 404.1,589.3 404.9,587.7 403.3,587.2 403.3,587.2 402.6,586.5 400.3,585.2 400.2,585.2 399.8,584.3 400.1,583.1 400.1,582.9 399.6,581.6 398.5,580.9 397.4,580.5 396.6,578.5 395.7,578.4 395.0,576.8" fill="none" stroke="#000" stroke-width="0.95" stroke-linejoin="round" opacity="1.0"/>
<polyline points="405.6,587.6 405.6,586.8 404.4,587.1 403.5,586.2 402.7,585.6 402.5,583.7 401.4,583.2 400.6,582.7 400.7,581.1 399.3,580.9 399.5,580.2 398.3,579.8 397.5,578.8 396.3,578.8 395.0,576.8" fill="none" stroke="#000" stroke-width="0.95" stroke-linejoin="round" opacity="1.0"/>
<polyline points="395.5,535.7 395.8,536.1 395.0,537.7 395.3,539.1 395.3,539.7 395.4,541.1 395.4,541.2 396.6,543.0 395.7,543.2 395.6,544.9 395.6,545.0 395.7,545.9 395.8,547.7 395.6,548.6 395.4,549.9 395.7,551.1 395.3,552.2 395.2,553.2 396.2,553.4 395.0,553.7 397.0,554.8 395.9,556.2 396.5,556.1 396.0,558.3 395.5,559.4 395.9,561.0 395.7,561.5 396.5,561.7 396.0,563.6 397.0,564.4 396.1,565.1 396.2,565.7 395.9,567.5 396.6,568.6 395.9,569.8 395.9,570.8 396.3,571.8 395.6,572.7 396.2,574.0 394.5,575.0 395.0,576.8" fill="none" stroke="#000" stroke-width="0.95" stroke-linejoin="round" opacity="1.0"/>
<polyline points="388.7,548.3 388.7,549.1 388.5,549.5 388.9,550.8 389.4,552.5 390.4,553.2 389.6,554.5 390.4,554.9 391.5,555.7 390.7,557.7 391.9,558.4 391.1,559.5 391.6,560.4 391.6,561.4 391.8,562.0 393.3,562.6 392.8,564.0 393.8,564.6 392.9,567.1 393.0,567.5 393.5,569.0 393.9,569.0 394.5,570.6 394.1,571.7 394.6,573.0 393.9,573.6 394.4,574.5 394.1,576.4 395.0,576.8" fill="none" stroke="#000" stroke-width="0.95" stroke-linejoin="round" opacity="1.0"/>
<polyline points="398.5,544.6 396.9,546.0 396.7,547.4 397.5,548.1 396.9,548.9 395.8,550.2 395.1,551.2 395.4,551.7 395.5,553.3 394.8,553.5 394.6,555.2 395.6,556.9 395.9,557.6 394.7,558.8 395.4,559.4 395.8,560.2 394.4,560.9 394.8,561.9 395.7,563.2 395.2,563.2 397.2,564.6 396.1,566.3 395.5,567.4 396.7,568.4 396.4,568.3 396.3,570.2 396.6,571.4 396.1,572.1 396.2,572.7 394.9,573.9 395.5,575.4 395.0,576.8" fill="none" stroke="#000" stroke-width="0.95" stroke-linejoin="round" opacity="1.0"/>
<polyline points="388.6,558.0 387.9,559.0 388.9,560.3 389.7,561.0 390.4,562.3 389.5,562.5 390.5,564.3 390.5,564.8 390.4,565.5 392.4,567.0 391.0,567.2 392.4,568.8 391.6,569.9 393.4,571.1 393.6,571.8 393.0,572.7 394.3,573.2 393.6,575.3 394.7,574.8 395.0,576.8" fill="none" stroke="#000" stroke-width="0.95" stroke-linejoin="round" opacity="1.0"/>
<polyline points="403.2,559.4 402.5,562.2 401.9,563.5 401.2,563.2 400.9,565.1 401.0,564.6 400.4,565.9 399.6,567.3 399.0,567.7 399.1,568.4 397.7,570.4 397.6,570.9 397.0,572.3 395.8,573.2 394.9,574.2 394.3,575.8 395.7,576.1 395.0,576.8" fill="none" stroke="#000" stroke-width="0.95" stroke-linejoin="round" opacity="1.0"/>
<polyline points="391.0,539.4 390.8,540.4 391.3,542.9 391.9,542.7 391.9,544.7 392.1,546.1 393.8,546.1 394.2,548.0 393.1,548.9 393.2,550.2 393.4,551.9 392.6,552.3 393.4,554.3 393.1,554.4 392.3,556.5 392.7,556.6 393.9,557.1 393.3,557.9 393.1,559.8 392.5,560.5 393.7,561.4 393.2,562.6 393.1,562.6 393.2,564.0 393.2,564.9 392.8,565.6 392.9,567.0 393.9,567.1 394.3,567.9 393.4,569.6 393.3,571.4 394.0,571.3 394.5,572.7 394.2,573.4 394.4,575.4 394.6,575.8 395.0,576.8" fill="none" stroke="#000" stroke-width="0.95" stroke-linejoin="round" opacity="1.0"/>
<polyline points="385.4,556.5 385.3,557.0 385.8,558.3 385.9,559.5 387.2,561.1 387.9,562.3 388.5,563.5 389.2,563.1 388.4,565.3 389.8,565.8 390.2,566.2 390.3,567.0 391.2,568.8 391.1,570.4 391.8,571.1 391.8,571.8 392.2,572.9 392.4,573.6 393.5,574.1 393.1,575.0 394.6,576.3 395.0,576.8" fill="none" stroke="#000" stroke-width="0.95" stroke-linejoin="round" opacity="1.0"/>
<polyline points="399.6,556.0 399.7,556.4 400.0,558.4 399.5,559.7 399.1,561.1 399.2,561.9 398.6,563.1 398.4,564.0 398.2,564.4 397.2,565.7 397.2,567.2 396.4,567.3 395.5,568.4 396.1,569.6 395.2,570.6 395.9,571.4 396.1,572.5 395.5,573.8 395.8,574.5 395.8,575.3 395.0,576.8" fill="none" stroke="#000" stroke-width="0.95" stroke-linejoin="round" opacity="1.0"/>
<polyline points="382.7,574.5 383.9,574.3 384.9,574.4 386.5,574.9 387.6,575.5 387.6,576.2 388.7,575.8 390.5,575.2 390.5,575.2 391.7,576.6 392.9,575.2 393.8,576.2 395.0,576.8" fill="none" stroke="#000" stroke-width="0.95" stroke-linejoin="round" opacity="1.0"/>
<polyline points="404.5,566.1 403.7,567.4 402.6,568.2 401.6,569.2 400.3,570.4 399.1,571.3 399.0,571.0 399.0,572.7 397.9,573.7 396.9,574.7 396.3,574.1 396.4,574.8 395.8,575.4 395.0,576.8" fill="none" stroke="#000" stroke-width="0.95" stroke-linejoin="round" opacity="1.0"/>
<polyline points="390.2,581.6 391.0,580.7 391.5,580.0 391.5,578.5 393.2,577.4 394.0,577.3 395.0,576.8" fill="none" stroke="#000" stroke-width="0.95" stroke-linejoin="round" opacity="1.0"/>
<polyline points="399.6,585.8 399.3,585.5 397.8,583.9 397.1,583.7 397.6,581.7 397.2,581.1 396.2,580.2 396.3,579.0 395.0,578.4 395.0,576.8" fill="none" stroke="#000" stroke-width="0.95" stroke-linejoin="round" opacity="1.0"/>
<polyline points="409.9,578.0 409.0,577.3 407.9,577.9 408.2,577.8 407.0,578.1 405.7,577.9 403.9,577.2 404.1,576.8 402.7,576.1 401.0,576.8 399.7,576.9 399.5,577.4 397.6,577.3 396.8,576.9 396.8,576.9 395.0,576.8" fill="none" stroke="#000" stroke-width="0.95" stroke-linejoin="round" opacity="1.0"/>
<polyline points="387.5,564.5 387.9,565.9 388.2,566.7 389.6,568.1 389.0,569.8 389.0,570.6 389.7,570.5 390.2,571.8 392.0,573.0 391.7,574.1 392.5,574.7 393.9,574.4 394.3,576.2 395.0,576.8" fill="none" stroke="#000" stroke-width="0.95" stroke-linejoin="round" opacity="1.0"/>
<polyline points="396.0,547.3 395.3,548.8 395.3,549.3 394.7,550.3 394.7,550.6 394.8,552.7 395.7,552.9 395.2,555.1 395.4,555.3 395.2,556.4 394.2,558.5 393.9,558.9 394.3,559.1 393.4,560.7 393.9,562.2 394.4,562.7 393.6,563.8 394.7,565.0 394.5,565.8 393.6,567.2 394.7,567.9 394.6,569.3 395.1,570.8 394.3,572.0 394.1,572.1 395.1,574.6 395.4,574.1 395.1,576.0 395.0,576.8" fill="none" stroke="#000" stroke-width="0.95" stroke-linejoin="round" opacity="1.0"/>
<circle cx="379.5" cy="587.6" r="1.7" fill="#000"/>
<text x="4.0" y="673.9" font-size="24.8" font-weight="bold" text-anchor="start" fill="#000" stroke="#000" stroke-width="0.1" >E</text>
<text x="70" y="665.6" font-size="12.6" font-weight="bold" text-anchor="middle" fill="#000" stroke="#000" stroke-width="0.1" >IL8</text>
<text x="208.2" y="665.6" font-size="12.6" font-weight="bold" text-anchor="middle" fill="#000" stroke="#000" stroke-width="0.1" >IL8+APC</text>
<circle cx="68.2" cy="728" r="12.2" fill="none" stroke="#444" stroke-width="0.95"/>
<circle cx="68.2" cy="728" r="24.4" fill="none" stroke="#444" stroke-width="0.95"/>
<circle cx="68.2" cy="728" r="36.6" fill="none" stroke="#444" stroke-width="0.95"/>
<circle cx="68.2" cy="728" r="48.8" fill="none" stroke="#444" stroke-width="0.95"/>
<path d="M8.200000000000003,729.5V728H128.2V729.5M66.7,669H68.2V787H66.7" fill="none" stroke="#555" stroke-width="0.9"/>
<text x="66.60000000000001" y="677.7" font-size="7.6" font-weight="normal" text-anchor="end" fill="#222" stroke="#222" stroke-width="0.25" >100</text>
<text x="66.60000000000001" y="786.5" font-size="7.6" font-weight="normal" text-anchor="end" fill="#222" stroke="#222" stroke-width="0.25" >-100</text>
<text x="17.900000000000006" y="735.2" font-size="7.6" font-weight="normal" text-anchor="end" fill="#222" stroke="#222" stroke-width="0.25" >-100</text>
<text x="120.2" y="735.2" font-size="7.6" font-weight="normal" text-anchor="start" fill="#222" stroke="#222" stroke-width="0.25" >100</text>
<circle cx="204.5" cy="728" r="12.2" fill="none" stroke="#444" stroke-width="0.95"/>
<circle cx="204.5" cy="728" r="24.4" fill="none" stroke="#444" stroke-width="0.95"/>
<circle cx="204.5" cy="728" r="36.6" fill="none" stroke="#444" stroke-width="0.95"/>
<circle cx="204.5" cy="728" r="48.8" fill="none" stroke="#444" stroke-width="0.95"/>
<path d="M144.5,729.5V728H269.0V729.5M203.0,669H204.5V787H203.0" fill="none" stroke="#555" stroke-width="0.9"/>
<text x="202.9" y="677.7" font-size="7.6" font-weight="normal" text-anchor="end" fill="#222" stroke="#222" stroke-width="0.25" >100</text>
<text x="202.9" y="786.5" font-size="7.6" font-weight="normal" text-anchor="end" fill="#222" stroke="#222" stroke-width="0.25" >-100</text>
<text x="154.2" y="735.2" font-size="7.6" font-weight="normal" text-anchor="end" fill="#222" stroke="#222" stroke-width="0.25" >-100</text>
<text x="256.5" y="735.2" font-size="7.6" font-weight="normal" text-anchor="start" fill="#222" stroke="#222" stroke-width="0.25" >100</text>
<polyline points="76.3,735.7 77.6,738.0 78.7,734.4 77.6,735.8 76.3,729.7 74.8,727.1 73.1,728.4 72.5,725.9 69.8,725.2 69.3,724.6 69.6,728.0 66.4,726.0 67.7,726.4 64.6,726.2 65.8,729.6 64.5,730.3 65.0,729.1 66.6,728.2 65.8,729.1 62.4,729.7 63.0,732.2 61.8,732.5 63.9,734.6 62.3,735.3 61.8,734.2 63.6,729.6 63.7,733.3 63.3,731.2 63.4,731.8 61.8,732.7 60.0,732.5 59.5,731.8 60.2,734.2 59.4,734.0 58.9,739.4 60.2,735.4 59.4,736.7 59.1,733.4 59.1,732.5 59.2,730.8 58.6,732.8 60.7,731.7 60.3,730.2 61.8,729.3 59.4,728.2 59.2,725.8" fill="none" stroke="#2f9a4f" stroke-width="0.7" stroke-linejoin="round" />
<polyline points="67.1,721.4 69.5,721.1 68.3,720.2 65.6,720.7 64.9,721.3 66.2,725.6 66.9,728.0 66.6,726.3 67.3,723.9 68.5,723.3 66.9,724.3 66.7,726.5 65.0,727.4 66.2,725.8 69.1,726.9 68.7,727.0 68.8,723.3 66.8,719.9 66.4,724.2 64.1,727.4 66.5,727.2 63.9,728.7 63.6,726.0 65.3,726.8 65.2,726.4 61.9,728.9 61.8,727.0 63.6,729.0 62.6,727.6 57.3,726.7 56.5,724.4 58.9,725.3 63.9,726.0 61.6,725.5 61.6,724.9 63.0,721.7 66.8,723.9 70.6,718.8 73.8,721.7 73.8,720.0 75.9,721.7 77.6,722.8 77.7,720.7 76.3,722.7 76.4,723.2 73.0,721.6" fill="none" stroke="#2838a0" stroke-width="0.7" stroke-linejoin="round" />
<polyline points="69.5,722.3 68.3,726.1 67.5,729.6 70.9,727.8 68.6,725.1 69.2,724.1 67.6,727.1 64.5,727.5 67.5,726.7 65.0,724.7 65.9,724.2 69.0,725.3 70.6,722.6 69.1,723.1 71.9,722.7 74.4,722.4 74.9,721.2 74.4,720.2 73.2,722.4 67.2,721.4 66.7,720.7 67.6,717.2 69.7,712.9 70.0,710.7 69.6,710.5 68.2,712.5 68.1,712.1 68.5,714.1 69.1,716.8 70.7,716.9 70.9,717.2 70.7,715.2 72.0,715.3 73.3,715.3 77.2,714.8 76.1,715.7 74.0,713.9 73.1,713.3 73.7,711.9 73.2,713.1 74.9,713.8 75.6,715.5 75.0,712.1 73.5,713.0 72.0,711.8 74.9,711.9" fill="none" stroke="#d83a30" stroke-width="0.7" stroke-linejoin="round" />
<polyline points="69.6,716.3 69.8,714.2 69.7,715.6 66.9,715.6 66.9,716.9 65.0,715.7 64.5,711.6 67.0,717.1 66.3,720.8 66.7,724.6 65.4,726.6 67.7,724.0 67.9,719.0 66.7,720.0 67.9,717.5 67.2,723.9 69.8,721.4 66.5,722.4 65.3,723.5 66.4,720.7 66.4,719.9 64.5,719.6 68.1,720.8 66.0,721.6 63.8,720.2 64.8,721.3 67.1,723.1 68.4,726.1 69.2,722.4 71.3,722.1 68.9,721.4 67.0,719.8 66.9,723.4 67.1,721.3 69.1,723.1 69.0,725.0 71.3,722.2 73.4,721.3 73.0,719.7 71.2,717.9 71.8,721.0 70.9,720.0 71.1,718.3 72.1,717.3 74.2,715.1 73.5,716.6" fill="none" stroke="#e8a040" stroke-width="0.7" stroke-linejoin="round" />
<polyline points="63.4,722.2 61.9,720.5 63.6,721.0 61.1,720.1 61.4,723.0 62.6,726.4 61.7,724.9 65.4,729.6 66.6,731.9 67.4,733.0 68.9,736.6 68.0,735.9 70.4,736.1 70.4,739.3 68.2,736.5 68.8,737.3 70.0,730.5 67.9,730.6 67.0,730.3 67.4,730.9 68.8,731.8 71.0,736.2 71.9,730.1 75.0,730.5 75.0,726.7 79.1,728.5 81.0,728.0 79.9,726.4 79.7,725.5 76.3,722.4 75.1,724.6 74.6,724.2 75.4,727.8 76.0,727.3 75.9,727.7 75.6,721.4 78.2,722.2 76.5,721.6 75.2,719.3 75.2,721.0 74.8,722.1 72.5,724.4 74.1,725.6 75.6,724.6 77.7,726.8 77.7,725.8" fill="none" stroke="#8a3aa0" stroke-width="0.7" stroke-linejoin="round" />
<polyline points="71.0,703.7 70.0,699.5 69.9,697.3 72.3,702.0 73.1,701.4 70.1,701.6 70.5,704.4 71.3,709.4 70.8,710.9 73.0,709.1 72.9,709.8 69.3,712.3 70.2,714.8 71.8,715.2 68.7,714.3 69.3,716.4 68.9,716.9 69.2,713.5 70.5,715.3 73.0,712.8 72.3,711.8 72.4,714.9 71.7,712.6 73.0,708.5 76.7,711.0 73.9,711.2 71.0,710.6 68.6,710.7 68.0,709.4 67.8,710.5 70.0,710.1 70.5,707.4 70.1,706.6 71.3,706.5 73.7,704.4 77.9,703.3 75.7,700.1 75.9,703.8 76.0,702.4 75.2,706.4 73.7,706.9 72.9,709.4 73.9,709.6 73.4,714.0 73.0,715.6 73.5,712.6" fill="none" stroke="#3aa8b8" stroke-width="0.7" stroke-linejoin="round" />
<polyline points="68.0,717.3 67.3,718.2 65.9,717.9 64.9,717.7 66.1,718.7 67.3,718.4 67.6,720.7 70.5,722.5 72.8,726.9 72.0,727.2 72.1,728.9 73.1,733.4 72.6,730.5 69.0,730.0 66.4,728.3 67.5,732.7 67.2,736.9 67.6,735.9 66.4,737.0 68.5,737.9 65.6,735.7 66.0,735.7 65.2,736.9 62.8,736.9 63.5,735.6 64.7,740.0 66.1,736.6 66.8,735.9 65.5,735.1 66.3,736.6 66.8,734.8 66.3,734.7 65.2,734.8 66.0,731.1 66.2,734.6 68.0,732.0 69.7,730.9 67.9,728.7 64.8,728.1 65.2,730.2 66.1,732.4 66.6,735.1 67.7,733.5 72.4,734.9 74.4,736.8 75.7,735.0" fill="none" stroke="#d0408a" stroke-width="0.7" stroke-linejoin="round" />
<polyline points="65.4,713.1 64.3,715.8 62.4,715.8 61.8,716.2 63.7,716.3 60.5,713.2 62.8,714.4 63.2,718.1 66.1,715.1 65.2,716.3 63.1,713.1 65.7,712.0 69.9,714.7 71.2,709.0 71.1,711.4 71.6,712.9 69.8,711.3 69.3,715.0 68.8,715.9 66.1,714.5 65.4,715.8 67.0,714.4 65.7,712.4 66.5,709.5 68.6,709.1 69.1,707.9 66.8,707.9 65.1,712.1 63.9,712.0 65.7,713.5 67.5,714.0 65.5,712.1 65.0,711.3 65.3,712.3 67.3,718.1 63.8,718.7 64.2,716.9 62.0,719.9 66.0,718.7 66.6,718.1 65.5,716.0 70.4,717.4 72.6,715.6 72.1,715.3 72.3,714.1 73.0,715.2" fill="none" stroke="#202020" stroke-width="0.7" stroke-linejoin="round" />
<polyline points="72.1,726.3 74.2,722.5 74.8,726.2 77.0,727.1 79.2,729.3 72.5,730.0 70.4,730.4 68.1,733.9 68.9,730.3 68.4,726.4 71.1,731.0 70.9,733.2 69.6,735.3 69.0,737.1 66.7,737.4 67.5,737.8 69.1,737.8 69.2,737.1 67.7,734.0 68.3,732.8 67.7,732.4 66.4,738.9 71.3,738.4 67.9,735.6 68.8,740.3 69.2,741.6 68.4,737.7 69.2,737.8 68.7,738.9 65.6,738.6 67.6,737.0 63.3,741.3 60.5,737.1 61.3,738.9 64.2,740.4 64.5,739.0 65.2,736.3 65.3,741.6 66.5,738.0 65.9,737.3 69.0,734.0 68.8,733.8 67.2,733.6 65.0,735.0 65.0,732.9 66.3,733.0" fill="none" stroke="#30b030" stroke-width="0.7" stroke-linejoin="round" />
<polyline points="67.1,729.3 65.8,730.2 66.8,730.4 70.3,728.2 70.8,729.3 70.3,727.6 70.2,729.0 69.7,724.3 69.1,724.3 71.9,724.3 71.6,722.5 70.8,723.1 69.3,721.0 68.4,715.0 66.9,711.0 68.5,715.6 67.7,715.9 65.6,716.0 65.3,718.6 64.1,716.2 64.0,713.2 64.7,715.8 62.7,714.7 63.1,716.3 61.9,717.0 58.3,717.4 59.8,715.9 63.8,716.4 65.5,715.9 65.3,717.2 63.9,715.8 63.1,718.9 68.3,719.1 69.6,719.9 72.7,721.9 74.9,722.7 73.6,724.0 74.4,725.7 72.0,725.3 71.3,729.2 73.3,729.9 74.7,732.7 74.2,733.6 72.7,732.5 70.2,734.5 72.5,734.5" fill="none" stroke="#e06020" stroke-width="0.7" stroke-linejoin="round" />
<polyline points="70.1,725.2 70.4,721.9 69.3,721.2 69.6,717.6 67.9,715.6 64.6,717.3 64.5,716.7 66.7,718.9 70.8,718.4 71.4,716.9 71.0,715.2 72.0,714.9 71.5,715.8 68.7,718.6 70.9,720.4 69.1,723.1 67.2,723.1 67.6,723.3 72.8,726.8 72.3,726.0 74.5,723.0 75.0,723.8 73.1,721.1 71.9,722.6 72.9,723.4 73.5,726.9 72.9,724.8 69.9,726.1 69.6,728.2 71.0,726.9 73.4,725.7 73.0,728.7 73.1,730.3 72.4,729.5 65.7,728.6 67.5,725.2 65.9,722.7 62.4,719.5 61.6,716.9 64.7,716.4 66.7,719.9 67.7,717.9 68.1,719.7 70.2,716.6 71.4,718.3 71.8,720.7" fill="none" stroke="#4060d0" stroke-width="0.7" stroke-linejoin="round" />
<polyline points="69.3,732.2 71.8,734.1 72.0,730.9 69.4,732.8 69.8,732.1 70.1,732.3 69.9,731.8 70.3,732.4 68.8,734.0 69.7,733.5 70.3,730.4 71.9,728.3 71.4,725.8 70.1,727.2 67.6,720.3 68.6,726.8 65.4,726.5 65.6,725.8 67.8,724.4 69.0,723.5 68.5,721.1 66.4,722.3 67.3,726.1 69.1,724.4 68.9,724.6 71.5,722.2 71.5,721.5 69.4,723.8 67.7,719.6 69.5,719.8 73.3,720.4 72.7,720.0 72.7,719.1 70.7,722.2 71.7,722.4 71.7,721.6 71.3,722.7 70.0,725.2 71.3,726.9 70.5,725.6 66.4,727.2 63.6,723.4 62.5,719.7 63.5,722.7 62.7,719.0 63.3,717.4" fill="none" stroke="#a02040" stroke-width="0.7" stroke-linejoin="round" />
<polyline points="63.5,737.3 64.0,737.5 62.7,739.3 63.4,737.3 62.8,738.7 65.3,737.3 65.9,737.2 63.6,737.6 62.6,736.8 60.0,738.4 59.7,739.5 60.2,736.4 61.0,734.7 59.6,732.7 58.2,735.8 59.1,734.8 57.9,732.4 59.0,731.7 58.4,727.9 55.6,727.3 56.7,729.6 54.1,729.1 53.4,729.2 52.1,730.8 55.1,730.2 53.9,726.5 53.5,728.1 50.7,725.7 50.4,725.1 50.7,725.0 47.7,726.8 48.7,728.5 49.2,730.0 52.6,727.9 56.4,729.3 56.5,728.4 55.3,728.1 55.5,729.1 56.0,726.0 56.9,725.7 59.2,723.6 56.8,723.4 56.7,720.9 58.3,719.3 60.3,718.8 56.4,720.6" fill="none" stroke="#60c0a0" stroke-width="0.7" stroke-linejoin="round" />
<polyline points="69.0,732.8 69.6,726.3 68.1,728.5 68.9,729.7 66.4,726.4 65.2,724.9 64.8,723.5 64.9,725.5 66.0,726.4 66.5,728.9 68.5,727.8 66.1,726.5 67.4,723.7 66.5,724.8 66.2,723.8 65.9,721.5 67.6,723.0 68.0,720.5 70.6,721.7 71.8,720.7 72.2,725.9 70.6,725.8 70.3,725.9 70.2,721.5 71.8,718.9 72.6,719.1 71.5,718.1 71.3,717.2 73.2,716.2 72.3,716.4 75.9,714.5 75.9,715.8 76.9,718.7 75.7,717.3 74.7,717.0 78.1,716.0 77.3,713.4 75.9,716.0 72.0,718.2 69.2,722.2 67.7,721.3 66.0,721.0 68.7,721.4 69.4,721.0 69.0,714.9 67.8,711.4" fill="none" stroke="#c0a020" stroke-width="0.7" stroke-linejoin="round" />
<polyline points="67.4,737.0 66.6,732.7 66.2,734.3 65.2,731.4 65.6,733.8 66.9,728.5 65.3,728.8 66.2,731.2 67.5,729.8 65.1,730.4 64.9,733.9 67.6,736.5 66.8,734.4 69.1,736.3 66.0,736.7 67.2,735.3 67.0,731.6 67.7,732.3 69.0,729.0 67.1,728.3 65.9,727.7 63.6,730.1 63.5,730.0 65.6,729.9 63.7,731.6 63.4,732.3 62.3,732.6 64.9,732.1 70.2,733.6 69.6,732.7 69.3,733.0 66.4,732.5 64.4,730.1 64.0,728.1 64.2,726.2 62.5,725.7 61.8,726.4 62.1,726.2 62.8,729.2 62.9,727.5 63.8,730.0 67.7,730.3 71.2,730.6 70.6,726.3 71.7,725.4 75.6,721.4" fill="none" stroke="#2f9a4f" stroke-width="0.7" stroke-linejoin="round" />
<polyline points="64.8,721.4 63.0,722.2 65.3,724.3 66.7,725.7 70.9,726.0 71.3,727.8 71.7,730.5 72.0,726.1 70.9,723.4 71.2,723.0 68.7,723.1 65.1,720.4 62.5,721.2 60.6,721.2 61.4,720.7 60.8,720.8 60.4,720.2 58.9,720.3 60.9,722.5 61.3,725.8 62.8,726.3 65.1,723.3 65.3,725.1 67.3,727.7 65.9,728.7 70.7,725.8 71.2,720.5 73.2,723.4 72.1,723.6 70.5,727.7 70.1,725.3 67.1,727.9 71.2,731.2 67.5,732.8 69.2,731.0 71.4,731.6 72.2,728.8 73.2,726.2 77.4,725.8 76.9,726.8 74.7,726.3 74.3,728.3 76.9,729.0 79.2,729.7 76.2,727.7 76.0,729.3" fill="none" stroke="#2838a0" stroke-width="0.7" stroke-linejoin="round" />
<polyline points="64.8,709.2 66.5,709.3 66.1,707.1 65.1,705.7 63.1,705.6 63.7,707.4 60.8,706.0 60.8,703.8 64.6,707.2 64.0,708.2 68.4,710.0 71.4,713.8 69.3,717.9 68.2,721.5 67.7,720.1 69.1,716.1 70.4,716.7 71.6,716.7 72.1,714.8 73.9,720.7 69.7,717.3 67.3,716.4 67.7,713.4 66.0,714.8 67.3,713.1 70.0,713.6 68.4,711.3 68.6,708.1 71.0,713.2 66.4,713.8 64.0,715.2 60.1,713.3 59.6,716.8 57.1,720.0 55.2,719.4 55.8,719.0 56.6,720.6 57.4,723.9 61.9,725.5 65.4,724.3 66.9,726.1 71.0,725.4 71.0,723.8 67.9,721.2 68.8,720.1 67.8,721.4" fill="none" stroke="#d83a30" stroke-width="0.7" stroke-linejoin="round" />
<polyline points="72.7,731.5 73.7,730.4 73.2,729.5 74.1,730.7 77.2,731.6 74.5,734.5 71.5,734.7 72.0,732.0 73.0,731.4 74.8,732.1 75.8,732.7 74.5,731.6 75.1,732.7 75.4,734.3 78.7,736.1 82.2,735.0 80.8,739.3 80.3,736.6 78.6,733.2 76.9,732.5 73.8,730.6 71.7,733.0 73.2,731.1 74.2,731.6 73.2,730.9 73.9,731.5 75.3,729.1 78.1,726.1 78.8,724.1 77.2,722.2 76.7,722.2 74.5,717.5 74.4,720.1 75.2,724.2 75.3,721.6 73.0,723.1 69.8,718.2 72.9,719.0 71.9,722.9 73.0,724.0 70.4,720.5 68.9,723.5 67.1,721.7 67.5,720.5 64.4,720.8 61.7,719.8" fill="none" stroke="#e8a040" stroke-width="0.7" stroke-linejoin="round" />
<polyline points="66.9,703.6 68.5,706.7 65.3,707.5 65.7,711.4 64.8,713.1 62.1,711.6 63.0,714.4 63.2,711.7 63.1,714.2 63.2,713.5 63.7,713.4 61.8,705.8 64.0,710.7 65.2,711.3 67.6,711.7 68.5,712.7 68.6,713.7 69.0,712.3 70.4,715.8 71.8,716.2 74.4,717.5 73.4,717.2 73.1,719.1 73.2,718.9 73.8,717.1 73.1,720.6 73.2,718.1 71.0,717.9 71.9,713.5 69.2,711.8 71.3,712.5 71.7,716.0 68.9,713.8 68.6,713.2 70.6,711.3 69.0,712.6 69.2,714.6 68.3,714.2 69.0,714.2 69.0,715.2 70.3,711.6 69.9,714.2 69.9,718.5 72.3,720.0 70.7,720.2 67.9,719.1" fill="none" stroke="#8a3aa0" stroke-width="0.7" stroke-linejoin="round" />
<polyline points="59.0,718.9 61.0,719.4 63.6,720.3 62.6,718.0 60.3,715.7 59.0,718.8 60.1,719.8 57.5,715.4 59.6,717.2 60.5,720.2 60.6,718.7 62.5,715.5 65.2,720.3 64.6,719.2 60.9,715.8 58.4,716.3 59.4,717.3 62.5,717.0 66.5,718.2 67.4,715.8 68.6,715.4 66.4,720.9 68.1,723.5 70.0,722.9 65.9,723.0 66.3,721.2 66.5,716.6 66.9,714.1 64.2,714.1 65.1,708.7 62.8,706.0 60.6,707.1 61.2,707.2 59.9,708.3 60.2,708.0 61.4,709.5 61.6,709.5 61.9,710.2 61.7,706.7 61.7,707.8 60.9,708.3 62.4,709.6 62.2,713.2 63.7,709.0 67.2,709.6 67.7,713.3" fill="none" stroke="#3aa8b8" stroke-width="0.7" stroke-linejoin="round" />
<polyline points="62.2,724.0 60.9,724.7 60.4,726.2 58.7,726.3 57.3,728.7 58.0,728.7 58.6,731.2 59.1,738.2 61.1,738.4 60.4,735.2 62.5,730.9 65.9,729.1 68.4,731.4 71.4,732.1 70.3,727.5 68.9,726.7 70.9,725.6 69.8,727.6 71.5,725.2 73.0,726.7 72.1,729.4 71.7,730.9 73.7,728.5 73.8,726.0 74.1,732.0 71.2,729.3 70.7,729.4 75.0,730.2 77.2,730.0 77.3,731.6 75.8,731.5 76.8,728.3 78.8,730.2 80.9,728.4 80.9,724.6 80.8,727.4 77.6,729.9 75.3,728.4 71.5,727.6 70.8,725.2 71.0,721.4 72.1,721.6 72.6,720.6 73.7,718.2 74.5,718.0 70.2,721.8" fill="none" stroke="#d0408a" stroke-width="0.7" stroke-linejoin="round" />
<polyline points="62.1,720.6 64.2,719.2 65.8,716.8 69.0,716.7 71.6,717.9 72.3,719.0 73.9,720.6 74.8,720.0 76.4,721.5 77.8,721.8 75.1,721.6 75.4,721.4 77.1,725.5 78.4,722.4 77.0,720.8 79.4,725.2 82.3,722.8 82.2,723.8 78.7,722.9 75.8,725.3 73.2,728.4 73.3,725.3 72.8,726.1 73.6,727.2 71.7,731.1 69.3,730.0 68.9,731.3 71.0,733.3 69.2,734.7 71.3,737.1 71.8,738.2 70.5,734.4 72.1,736.2 71.0,729.8 71.1,730.1 69.3,729.0 68.0,729.5 65.9,733.6 66.2,737.5 64.1,739.0 65.6,735.3 65.1,738.3 66.7,734.8 67.4,731.5 66.7,731.9 67.0,730.0" fill="none" stroke="#202020" stroke-width="0.7" stroke-linejoin="round" />
<polyline points="67.2,732.4 66.4,733.4 66.2,732.8 64.0,733.9 65.5,731.0 67.6,729.6 66.8,730.1 66.0,726.4 65.7,725.0 65.0,725.3 65.5,722.4 68.1,722.7 67.2,722.6 67.0,721.2 62.7,721.1 61.7,719.9 62.8,720.6 64.9,718.1 66.4,716.7 66.3,720.2 66.4,719.8 69.0,720.9 69.7,722.4 69.7,719.6 67.9,717.5 66.0,718.4 68.2,718.2 69.1,721.5 69.9,721.1 70.1,719.9 71.7,721.2 74.2,723.3 75.6,730.8 70.9,727.7 71.8,725.4 73.7,727.4 76.7,722.5 76.3,722.1 79.0,724.2 78.6,723.7 81.8,722.3 81.7,723.3 81.2,724.7 77.1,727.1 75.2,726.7 72.9,726.7" fill="none" stroke="#30b030" stroke-width="0.7" stroke-linejoin="round" />
<polyline points="65.9,720.3 64.7,723.4 61.8,724.2 60.1,725.0 60.6,730.5 61.2,731.2 59.6,734.7 57.6,734.1 57.8,737.2 57.8,735.0 58.1,740.0 59.3,734.9 60.7,734.7 62.3,734.0 62.6,736.5 64.6,736.1 64.2,733.2 61.6,732.2 60.4,732.0 61.0,732.8 60.8,734.8 61.0,732.7 61.5,731.1 64.1,730.0 64.7,728.2 68.7,729.0 71.9,725.9 68.5,726.1 70.2,726.3 69.7,726.6 68.9,728.1 65.2,729.0 66.6,729.6 67.5,726.3 66.4,729.6 65.0,732.6 65.2,730.5 63.7,725.7 62.4,726.4 62.7,730.0 63.9,727.8 65.1,724.7 62.1,723.6 62.4,721.1 59.8,716.8 59.6,717.7" fill="none" stroke="#e06020" stroke-width="0.7" stroke-linejoin="round" />
<polyline points="71.2,719.1 72.9,719.0 72.0,718.1 74.2,722.3 73.3,723.4 70.6,722.9 68.0,727.2 68.3,726.7 66.5,728.1 65.8,725.2 66.5,725.3 68.7,726.5 65.9,726.2 65.3,726.7 63.5,725.4 63.6,720.1 65.7,719.4 68.2,719.0 66.6,718.0 65.9,716.5 67.8,714.9 67.3,716.5 68.5,717.2 68.0,717.0 66.0,718.9 63.2,717.0 60.8,719.5 61.7,716.2 63.1,716.3 64.3,717.3 62.9,717.3 62.8,713.5 60.5,713.0 60.3,712.7 62.9,710.7 61.5,710.7 59.6,714.1 58.2,713.3 58.2,714.3 58.2,709.0 58.6,712.2 58.9,713.9 56.2,714.2 54.7,712.8 54.1,712.4 56.0,712.3" fill="none" stroke="#4060d0" stroke-width="0.7" stroke-linejoin="round" />
<polyline points="66.6,717.2 67.4,713.8 70.4,708.9 70.8,710.4 71.0,710.9 68.5,712.6 68.0,717.7 67.3,719.3 67.0,722.7 68.4,723.2 68.2,725.8 71.2,724.0 66.9,722.0 67.4,725.1 69.0,723.6 67.2,717.9 69.5,721.3 71.8,720.9 73.8,719.9 76.4,721.9 77.7,719.4 74.8,714.3 75.7,713.6 74.3,712.5 71.7,717.4 72.1,718.0 73.2,718.6 70.3,716.8 70.6,717.9 68.7,719.3 68.2,721.2 66.1,724.5 65.6,723.8 67.0,725.0 66.1,726.0 64.1,727.8 62.1,728.0 61.3,727.2 61.8,725.2 61.9,727.2 61.1,728.9 61.8,726.4 59.7,721.9 60.4,719.9 61.6,719.3 60.6,715.4" fill="none" stroke="#a02040" stroke-width="0.7" stroke-linejoin="round" />
<polyline points="68.5,725.8 64.4,726.1 64.5,728.2 65.5,730.9 62.5,728.0 61.9,729.7 63.6,726.7 62.3,720.4 63.5,721.7 63.5,723.1 63.2,723.6 63.5,724.0 61.6,724.6 63.1,726.4 63.1,726.3 65.5,729.1 66.5,727.2 65.6,722.6 64.9,722.8 66.1,721.6 66.0,719.0 69.0,722.0 70.3,726.3 73.6,727.5 75.3,724.3 74.1,723.4 73.2,724.4 74.9,724.3 74.8,725.4 76.0,727.0 78.3,728.1 75.7,725.6 74.4,725.0 74.0,724.7 71.6,720.4 73.0,721.4 73.1,723.2 73.0,721.6 70.8,718.6 69.1,720.3 73.2,723.3 69.2,724.3 70.2,722.7 68.5,721.0 65.0,719.1 64.0,724.3" fill="none" stroke="#60c0a0" stroke-width="0.7" stroke-linejoin="round" />
<polyline points="70.7,715.6 72.3,718.3 69.8,722.6 69.7,724.9 69.6,728.0 71.1,730.1 71.5,731.5 70.5,731.8 71.4,730.6 70.6,727.5 72.5,726.7 72.5,726.4 72.2,723.8 71.2,723.0 66.9,721.3 66.0,721.0 68.1,719.9 69.8,719.9 69.4,721.8 70.5,721.2 67.5,716.9 68.4,717.4 67.3,721.7 67.1,724.4 63.3,725.5 61.9,727.3 62.7,724.6 60.9,725.3 61.5,725.8 61.0,727.7 62.0,726.3 62.7,726.6 63.9,727.6 62.8,730.1 62.1,729.3 62.1,727.4 60.2,725.0 63.5,723.4 63.6,725.7 63.5,727.7 66.1,725.1 67.6,725.2 68.2,723.9 68.7,725.0 69.0,728.0 69.6,728.5" fill="none" stroke="#c0a020" stroke-width="0.7" stroke-linejoin="round" />
<polyline points="77.7,709.0 75.7,707.7 78.1,708.3 75.2,711.1 75.8,714.0 75.3,719.5 74.0,719.5 73.5,720.8 75.2,721.3 76.3,723.9 76.4,722.3 78.0,727.1 78.1,727.7 75.9,726.3 75.7,726.6 72.0,728.7 73.6,727.6 71.8,729.1 72.3,731.1 70.4,731.0 71.9,730.9 71.1,730.1 72.3,730.8 72.3,731.2 71.8,734.9 73.0,735.5 76.8,734.7 76.8,736.6 77.5,734.3 75.2,739.1 75.0,738.1 71.9,734.1 70.1,734.3 69.0,733.0 68.2,730.3 67.3,731.6 69.2,733.6 70.5,733.7 70.8,734.9 68.0,734.2 65.8,734.4 64.0,735.3 65.1,735.7 64.8,735.0 63.9,736.6 63.8,735.7" fill="none" stroke="#2f9a4f" stroke-width="0.7" stroke-linejoin="round" />
<polyline points="67.3,723.2 65.9,719.2 65.1,718.8 66.4,719.4 68.6,717.8 66.5,720.7 64.9,716.8 61.4,719.1 61.3,723.0 61.9,723.7 61.5,725.7 61.6,724.8 63.3,725.8 61.9,727.1 62.1,726.9 61.9,725.5 61.3,724.5 61.3,725.2 59.3,725.1 61.4,725.6 62.0,725.4 59.0,725.4 57.1,723.7 58.7,722.8 60.1,726.6 59.0,727.9 59.8,724.1 60.9,724.6 60.9,725.3 59.5,724.8 61.4,726.7 60.8,726.7 61.4,722.1 61.0,722.4 61.5,722.1 62.1,725.0 63.5,724.3 64.9,727.0 66.3,726.1 65.9,725.0 68.9,724.5 72.5,725.1 73.7,724.0 71.3,724.1 70.0,723.7 67.2,725.9" fill="none" stroke="#2838a0" stroke-width="0.7" stroke-linejoin="round" />
<polyline points="59.1,738.9 59.1,738.8 59.0,738.2 63.1,738.4 63.8,737.2 60.5,738.6 60.2,739.6 63.1,738.1 62.7,734.2 66.4,737.1 66.7,738.5 68.2,735.9 62.7,734.5 61.6,737.7 63.8,738.5 64.9,736.7 65.8,736.0 65.7,735.3 69.2,735.6 67.9,736.2 68.6,735.5 69.8,731.5 69.4,731.3 70.8,730.1 70.6,734.5 69.1,735.6 68.8,732.8 70.4,732.1 73.0,733.6 71.8,731.7 71.3,731.8 69.4,735.9 68.8,737.2 66.9,739.2 67.5,740.3 67.9,736.6 70.5,731.9 71.6,727.0 68.5,726.5 69.2,722.8 68.3,725.2 67.8,726.0 65.7,724.1 68.7,721.9 68.1,726.0 67.4,725.0" fill="none" stroke="#d83a30" stroke-width="0.7" stroke-linejoin="round" />
<polyline points="69.5,720.1 68.3,719.2 69.4,717.2 69.5,716.0 71.3,714.4 69.3,715.0 68.5,714.4 69.3,711.7 71.7,712.4 70.7,712.8 68.6,712.1 70.6,712.2 72.6,710.9 75.2,710.6 75.2,712.5 72.8,712.4 74.7,713.2 75.8,712.1 76.1,714.1 77.9,715.9 76.4,712.9 76.0,714.9 75.8,718.6 77.4,717.9 76.6,717.8 77.0,715.4 78.5,712.9 79.9,710.6 78.5,711.1 76.8,715.7 78.6,713.5 77.6,715.5 78.4,715.9 74.7,715.5 73.0,714.7 72.0,713.4 69.6,712.9 66.1,713.4 64.8,714.9 66.3,718.7 66.9,720.3 67.9,723.5 68.7,724.4 70.4,721.5 68.3,715.3 66.7,714.8" fill="none" stroke="#e8a040" stroke-width="0.7" stroke-linejoin="round" />
<polyline points="65.5,724.9 65.5,724.1 63.9,722.4 64.4,721.0 66.8,718.1 67.0,718.4 67.8,716.2 66.8,716.8 68.7,716.6 66.8,716.3 67.1,719.8 69.1,716.0 67.5,712.4 66.7,714.4 65.8,716.0 64.9,715.6 64.2,717.4 62.0,717.6 63.2,717.5 65.0,717.4 66.1,717.9 68.4,719.7 69.7,721.9 68.6,719.6 69.9,724.7 71.6,718.3 69.7,720.6 70.6,721.1 70.1,719.0 70.0,718.4 69.5,721.8 70.9,720.7 70.2,723.0 71.7,723.8 74.5,725.5 71.0,728.1 73.1,723.5 76.8,722.3 74.2,726.1 74.1,724.2 76.1,722.9 76.9,724.0 77.4,727.9 76.3,729.8 76.4,725.7 76.9,726.6" fill="none" stroke="#8a3aa0" stroke-width="0.7" stroke-linejoin="round" />
<polyline points="71.5,740.7 71.2,742.8 70.6,744.3 71.0,741.7 71.1,743.4 71.2,739.2 70.7,737.8 69.9,741.1 70.9,743.6 74.7,740.1 71.6,743.8 71.5,744.3 71.0,744.9 72.2,747.1 72.9,749.9 71.7,746.9 72.9,746.1 71.6,743.1 68.7,743.3 69.2,741.5 66.7,738.7 64.6,739.8 64.0,738.3 65.6,739.8 66.7,741.8 69.4,739.7 70.0,739.9 72.2,742.9 73.9,741.3 73.8,741.8 70.6,741.9 68.8,736.5 66.9,738.1 65.8,734.1 64.3,733.8 65.6,728.1 64.8,726.9 63.5,730.3 66.3,729.1 66.2,724.4 66.8,724.9 68.0,723.8 67.9,720.5 68.3,721.9 67.0,721.0 68.1,722.5" fill="none" stroke="#3aa8b8" stroke-width="0.7" stroke-linejoin="round" />
<polyline points="64.8,717.3 63.2,721.0 62.9,719.4 64.3,722.1 63.7,721.8 63.0,721.6 61.9,722.0 62.2,718.0 63.3,717.9 64.6,721.8 66.8,719.1 65.5,718.3 66.5,721.0 67.9,724.0 66.7,720.2 68.2,722.4 69.4,724.1 69.6,723.5 72.1,723.4 72.8,728.3 72.4,726.8 74.8,726.5 75.7,727.8 75.3,730.6 76.1,733.7 76.6,733.6 74.8,736.6 72.1,736.8 73.3,737.2 70.4,735.6 72.1,735.6 71.5,733.7 73.1,731.8 75.9,732.5 78.1,729.0 77.5,729.7 75.7,731.6 73.2,735.0 74.5,734.9 73.4,734.3 73.5,738.1 74.7,740.3 76.1,739.6 75.8,737.9 73.0,740.2 70.3,742.8" fill="none" stroke="#d0408a" stroke-width="0.7" stroke-linejoin="round" />
<polyline points="61.4,728.0 62.2,723.2 62.5,723.0 64.2,724.6 63.1,724.6 65.3,724.7 64.8,725.8 66.3,728.4 66.3,725.9 65.9,732.2 63.7,731.8 64.2,732.4 62.1,729.7 65.9,728.2 65.6,728.9 65.3,722.3 67.8,724.5 67.4,720.9 69.2,720.0 70.9,718.5 71.4,715.6 70.0,712.6 68.4,715.3 67.7,716.1 66.1,718.8 66.0,721.9 69.6,718.8 70.2,716.4 72.0,721.0 73.0,720.8 72.2,714.8 75.6,715.1 77.8,714.6 73.9,714.7 74.4,709.3 71.5,709.5 70.2,710.7 69.7,712.8 69.1,716.3 65.6,716.3 66.6,718.8 64.7,714.8 64.2,714.3 60.8,710.5 62.3,710.6 65.0,707.9" fill="none" stroke="#202020" stroke-width="0.7" stroke-linejoin="round" />
<polyline points="71.2,734.4 68.2,735.1 69.4,732.2 66.0,731.5 65.6,732.9 63.8,733.2 61.6,731.6 63.8,733.5 66.8,730.3 66.3,729.5 66.2,726.8 67.6,726.7 69.1,727.1 68.7,725.2 68.1,729.6 71.0,734.3 67.5,732.6 67.2,732.3 66.3,731.7 64.5,727.9 63.1,731.2 60.7,731.6 61.4,731.6 63.3,730.6 62.2,732.4 61.4,732.1 60.9,731.7 61.7,730.3 59.8,729.2 61.2,727.7 61.6,725.6 61.0,723.5 58.3,723.6 56.5,725.3 57.1,728.7 54.2,728.1 57.3,730.0 58.5,730.9 61.3,731.8 60.1,731.3 59.6,730.1 59.2,729.7 62.2,732.7 65.2,730.6 63.4,727.7 62.1,727.8" fill="none" stroke="#30b030" stroke-width="0.7" stroke-linejoin="round" />
<polyline points="67.2,732.8 68.3,734.1 69.3,733.8 68.7,731.5 66.0,730.5 68.2,732.3 68.6,729.5 66.5,728.8 67.5,726.7 65.5,728.5 69.9,729.0 71.3,729.0 70.9,723.3 67.0,720.2 65.0,718.0 62.5,717.7 61.9,716.6 63.4,718.2 62.6,716.7 61.2,716.9 61.9,717.0 64.3,719.2 67.1,719.8 67.0,723.5 69.2,724.2 69.2,729.2 66.3,732.3 67.3,730.3 69.0,729.0 69.1,730.2 68.4,728.9 70.0,726.1 71.5,726.4 72.7,723.1 73.8,723.4 73.9,722.5 76.0,723.3 74.8,724.3 75.8,722.9 73.5,721.6 71.5,720.9 71.0,718.9 70.8,719.7 70.5,716.2 69.4,714.9 69.5,715.1" fill="none" stroke="#e06020" stroke-width="0.7" stroke-linejoin="round" />
<polyline points="62.2,736.7 63.4,740.2 65.3,743.7 62.4,744.8 64.4,745.1 62.8,742.8 64.6,740.5 65.9,739.8 64.5,739.1 64.3,740.9 66.3,738.2 71.7,735.9 72.3,735.6 75.7,735.1 75.2,737.3 75.9,731.1 75.9,728.6 75.2,727.6 74.6,726.8 76.6,726.7 75.7,723.2 75.6,724.8 75.8,723.8 77.0,722.1 76.9,722.5 76.0,721.8 74.2,722.9 76.0,721.7 72.9,720.6 71.6,723.3 71.9,723.9 70.1,727.6 70.9,727.6 71.7,725.1 71.0,723.7 70.1,721.3 68.0,721.0 67.5,725.0 67.9,723.8 70.8,724.4 70.7,726.9 71.0,724.6 70.3,723.4 65.4,724.7 63.5,727.6 61.2,731.5" fill="none" stroke="#4060d0" stroke-width="0.7" stroke-linejoin="round" />
<polyline points="65.1,726.4 63.5,726.4 62.7,726.8 57.7,727.2 56.4,727.3 56.5,727.5 57.6,723.7 58.7,723.4 56.6,722.1 54.1,721.4 54.2,718.7 55.1,720.9 54.5,720.6 56.5,721.4 60.5,719.7 60.0,719.9 63.7,718.8 61.6,721.6 59.7,720.7 64.1,719.6 69.3,722.0 68.8,720.9 65.9,722.8 65.0,720.5 63.8,720.1 63.5,718.8 62.2,721.5 65.3,722.4 66.3,723.2 65.8,727.3 61.5,727.2 62.7,725.7 61.4,728.5 62.1,726.1 64.6,725.7 61.7,723.8 60.8,724.4 62.2,725.7 58.7,726.0 58.6,726.4 60.6,726.7 60.8,723.2 60.7,721.0 62.4,717.5 62.9,718.1 63.5,718.0" fill="none" stroke="#a02040" stroke-width="0.7" stroke-linejoin="round" />
<polyline points="70.9,734.6 70.3,735.0 74.7,732.0 76.5,734.5 78.8,734.9 79.8,735.2 79.1,732.2 81.3,732.4 80.9,731.7 77.2,733.6 75.6,734.5 75.3,732.4 74.7,737.6 73.0,737.7 75.9,735.2 73.4,730.3 71.3,726.6 71.3,721.7 70.0,718.1 73.4,717.5 74.0,716.7 73.1,715.9 77.0,714.5 74.9,711.8 77.7,709.6 73.9,710.1 76.0,709.1 80.7,710.6 80.1,713.5 78.5,711.2 76.6,708.7 74.6,710.5 73.2,710.8 74.3,711.8 72.3,713.7 67.8,712.1 67.9,715.8 66.8,719.4 66.1,718.0 65.7,720.6 63.0,721.0 61.7,720.9 62.3,720.0 59.3,720.3 56.7,721.9 57.9,725.8" fill="none" stroke="#60c0a0" stroke-width="0.7" stroke-linejoin="round" />
<polyline points="69.1,735.5 70.0,737.3 69.9,736.2 74.3,735.5 70.4,738.1 71.9,737.6 73.5,736.9 74.7,734.5 74.3,733.2 75.8,734.3 74.9,731.1 70.3,728.6 70.9,727.2 72.3,727.3 75.0,723.4 74.4,721.8 74.6,721.5 73.7,724.2 73.0,724.5 71.2,726.7 73.0,727.5 70.2,726.7 68.4,728.8 67.3,726.7 70.0,724.3 67.2,726.4 67.7,726.1 70.9,727.9 69.3,728.2 67.0,729.8 65.3,730.7 69.5,730.8 71.3,729.4 72.5,727.9 72.7,726.0 75.0,726.5 71.8,729.2 71.9,730.8 66.4,729.4 68.0,729.4 66.6,731.7 66.5,731.3 64.9,734.2 63.4,735.9 64.9,731.9 65.7,731.8" fill="none" stroke="#c0a020" stroke-width="0.7" stroke-linejoin="round" />
<polyline points="70.0,720.3 70.8,721.1 71.6,724.7 71.7,721.1 71.0,727.1 71.4,727.8 72.0,726.9 71.1,723.3 71.0,722.4 72.8,723.2 70.5,715.6 69.5,716.9 70.1,714.3 71.1,715.6 71.8,715.3 73.8,714.5 71.4,719.0 72.0,717.8 68.9,717.4 66.6,721.1 64.7,718.6 64.4,718.6 64.1,716.3 65.3,717.3 65.8,714.9 66.7,711.7 65.2,708.9 63.1,714.7 63.2,717.9 64.1,720.5 71.3,724.5 70.3,723.9 66.9,723.3 64.2,723.6 64.6,722.8 63.2,724.4 62.2,725.3 64.8,724.1 61.6,726.3 60.7,725.9 60.1,725.8 58.6,727.3 63.7,728.8 64.5,727.9 63.7,728.9 65.7,727.9" fill="none" stroke="#2f9a4f" stroke-width="0.7" stroke-linejoin="round" />
<polyline points="74.1,725.2 73.8,727.9 72.4,726.4 70.9,726.9 67.2,722.3 66.2,723.0 64.9,727.7 63.5,726.9 62.3,725.9 64.0,723.9 63.3,723.1 60.5,726.3 59.2,726.5 59.4,723.5 61.8,729.7 58.7,730.7 58.0,733.0 61.3,734.6 61.0,735.4 62.0,738.6 62.0,735.9 58.9,732.0 58.9,728.5 59.8,730.7 61.0,731.2 60.8,734.1 57.9,735.5 58.9,741.0 58.6,737.7 60.7,737.6 60.5,737.4 62.6,736.7 66.8,738.6 68.7,735.2 71.5,733.6 69.3,735.3 69.1,734.8 73.0,737.3 75.9,736.4 75.6,733.8 73.7,730.5 73.1,731.1 72.4,732.3 72.1,727.4 70.6,728.8 71.3,727.5" fill="none" stroke="#2838a0" stroke-width="0.7" stroke-linejoin="round" />
<polyline points="62.7,720.2 61.4,718.5 60.3,718.3 60.7,717.0 59.3,716.1 59.3,716.4 58.3,715.6 56.6,714.0 55.7,713.7 55.0,712.3 54.5,712.7 54.7,711.0 54.2,710.1 52.1,709.8 52.4,708.7 51.6,708.7 50.8,707.7 48.8,706.7 49.1,706.7 48.4,705.5 46.6,705.0 46.6,705.3 44.4,704.9 43.3,703.9 42.6,703.9 42.3,703.3 40.3,701.9 39.9,702.6 38.5,702.0" fill="none" stroke="#5ab8c0" stroke-width="0.75" stroke-linejoin="round" opacity="1.0"/>
<polyline points="59.2,724.5 59.6,723.7 58.0,724.0 57.7,723.9 56.0,723.9 55.0,722.6 54.1,723.1 52.7,723.0 51.6,722.7 51.4,723.5 49.9,723.3 48.4,722.6 48.4,722.9 46.8,721.8 46.7,722.3 45.2,721.8 43.2,722.1 42.5,722.6 41.8,722.4 40.5,722.4 39.2,722.0" fill="none" stroke="#d0408a" stroke-width="0.75" stroke-linejoin="round" opacity="1.0"/>
<polyline points="69.4,712.8 70.3,711.2 69.8,709.3 70.8,709.4 70.9,707.6 70.8,707.4 71.2,706.7 70.5,705.4 70.6,704.2 71.6,702.3 71.5,702.3 72.4,700.3 72.0,700.5 71.6,699.6 73.2,697.7 72.3,696.3 72.6,695.7 73.6,695.5 73.7,694.5 73.7,693.0 73.3,691.5 73.6,690.1 75.1,689.0 75.0,690.8 76.0,692.0" fill="none" stroke="#5050b0" stroke-width="0.75" stroke-linejoin="round" opacity="1.0"/>
<polyline points="72.0,711.2 72.1,711.5 73.3,709.8 74.2,709.5 75.8,708.3 75.2,707.6 76.6,708.2 77.7,706.1 78.1,705.8 79.7,705.8 80.0,704.6 80.7,704.5 81.5,704.1 82.0,703.4 84.3,702.8 84.5,702.9 85.9,702.4 84.7,703.3 84.0,704.2 84.0,705.0" fill="none" stroke="#7040a0" stroke-width="0.75" stroke-linejoin="round" opacity="1.0"/>
<polyline points="75.2,721.5 76.5,721.3 78.4,720.2 79.6,719.8 80.7,720.7 81.2,720.0 82.7,718.9 83.6,717.8 84.4,718.2 85.5,717.3 85.5,717.8 87.4,718.0 87.8,717.7 90.1,717.1 90.9,718.1 91.5,717.3" fill="none" stroke="#30a050" stroke-width="0.75" stroke-linejoin="round" opacity="1.0"/>
<polyline points="66.3,739.9 65.5,740.9 64.6,741.3 64.4,742.5 65.0,743.8 64.6,745.1 65.0,746.8 65.0,747.2 64.6,748.6 65.1,750.1 65.8,749.4 67.4,748.7 68.9,749.2 70.8,747.8 71.2,747.7 71.0,746.1 71.0,745.5 72.0,744.0" fill="none" stroke="#c060b0" stroke-width="0.75" stroke-linejoin="round" opacity="1.0"/>
<polyline points="58.0,730.4 57.9,730.8 56.7,731.3 55.0,731.7 54.1,731.9 54.8,732.8 52.6,733.5 51.7,734.4 51.2,734.3 51.0,736.1 49.2,736.3 49.1,736.5 47.9,736.2 46.8,737.5 46.0,738.0" fill="none" stroke="#e0a0c0" stroke-width="0.75" stroke-linejoin="round" opacity="1.0"/>
<polyline points="203.6,730.9 204.3,728.9 204.4,729.2 203.6,730.0 204.1,729.4 203.5,728.8 202.6,728.5 203.0,727.5 203.5,728.9 204.3,728.8 203.1,730.4 202.8,730.7 203.3,730.2 203.7,730.6 204.7,728.7 203.8,728.1 204.1,729.7 205.3,729.4 205.7,730.8 204.3,729.2 204.0,730.6 204.3,732.6 203.7,733.1" fill="none" stroke="#e08030" stroke-width="0.8" stroke-linejoin="round" />
<polyline points="203.7,731.9 202.5,734.1 203.4,735.0 204.1,735.3 205.6,735.0 205.9,734.8 206.2,734.4 204.9,734.5 203.6,734.4 202.4,734.9 202.4,735.1 202.5,734.1 202.4,734.4 201.0,733.7 201.3,732.3 202.5,732.5 202.1,732.6 202.4,732.7 203.0,734.6 205.3,732.8 205.2,733.2 204.1,734.9 203.6,735.1" fill="none" stroke="#c03090" stroke-width="0.8" stroke-linejoin="round" />
<polyline points="204.8,728.8 205.8,728.7 205.5,728.0 206.0,729.9 205.7,729.5 205.3,730.8 205.0,731.2 205.2,728.9 206.8,727.0 206.5,727.2 205.3,727.4 204.6,726.4 204.2,726.1 204.8,725.2 204.8,726.1 203.6,726.4 204.6,725.3 203.8,725.7 203.7,726.4 203.5,726.5 202.8,727.2 201.7,727.2 203.1,728.1" fill="none" stroke="#808080" stroke-width="0.8" stroke-linejoin="round" />
<polyline points="203.3,728.7 203.1,728.7 203.2,727.6 203.1,727.8 203.3,727.9 205.1,729.8 205.6,730.5 205.9,729.3 205.6,729.7 207.3,728.3 207.0,728.4 207.9,728.7 208.0,727.7 208.8,729.2 208.9,731.5 208.2,732.4 208.7,734.9 208.5,733.2 209.3,732.3 208.7,731.8 208.6,732.6 207.8,733.3 206.6,732.8" fill="none" stroke="#404080" stroke-width="0.8" stroke-linejoin="round" />
<polyline points="204.1,732.0 203.9,732.9 203.0,732.6 202.0,733.1 200.5,732.1 199.3,731.9 200.0,729.6 199.5,730.6 199.3,729.5 198.7,729.0 201.0,729.1 199.7,729.5 199.7,729.1 199.1,729.7 198.7,729.6 200.2,729.9 200.1,730.3 200.0,731.8 200.4,732.4 200.9,733.2 200.2,732.8 201.4,732.7 202.5,730.0" fill="none" stroke="#d0a040" stroke-width="0.8" stroke-linejoin="round" />
<polyline points="203.1,729.9 204.8,731.1 202.7,732.3 202.4,732.8 201.5,732.6 200.0,730.9 199.9,730.0 200.1,729.9 200.8,730.4 203.3,729.0 203.1,728.0 203.3,727.8 203.5,726.9 203.3,727.8 202.7,728.4 204.0,728.6 203.0,730.4 202.1,732.1 202.7,733.1 202.6,733.0 202.6,730.5 203.6,730.8 204.0,730.9" fill="none" stroke="#a04060" stroke-width="0.8" stroke-linejoin="round" />
<polyline points="207.2,730.0 206.3,730.4 206.3,728.8 206.7,729.2 206.4,729.6 206.1,729.8 207.4,730.8 208.7,734.2 206.6,735.9 206.3,736.2 204.8,735.9 203.3,734.4 202.4,732.4 203.1,732.8 202.5,732.9 203.2,731.6 203.2,731.8 204.8,730.8 205.5,730.6 206.4,729.9 206.6,729.2 205.9,732.3 204.8,731.5" fill="none" stroke="#50a0a0" stroke-width="0.8" stroke-linejoin="round" />
<polyline points="206.5,731.7 207.1,732.9 206.7,732.9 207.2,732.7 205.1,733.2 207.5,731.8 208.5,732.5 209.5,731.5 207.5,732.8 208.0,733.8 206.9,733.5 207.8,732.9 208.2,733.4 207.4,732.8 206.6,734.6 205.4,732.7 205.5,731.2 203.8,733.2 204.8,734.3 203.2,734.9 201.0,734.8 201.6,733.0 201.5,731.0" fill="none" stroke="#e05050" stroke-width="0.8" stroke-linejoin="round" />
<polyline points="204.0,727.8 204.0,727.6 204.2,727.3 204.0,727.3 205.5,727.0 205.1,727.3 205.9,728.5 206.4,726.6 205.7,726.1 206.3,727.5 207.8,729.2 206.3,729.7 207.2,728.2 205.2,729.8 205.1,733.2 204.6,732.6 203.7,731.4 202.8,731.1 202.4,730.8 202.5,730.0 203.2,730.7 204.1,731.6 202.7,731.3" fill="none" stroke="#707070" stroke-width="0.8" stroke-linejoin="round" />
<polyline points="206.6,732.5 207.8,732.0 207.0,732.7 207.1,733.1 207.6,733.0 207.7,732.5 207.4,731.1 204.6,732.2 203.5,733.4 202.4,732.2 202.8,731.3 202.2,731.4 202.0,731.2 203.5,728.8 205.1,729.7 204.8,729.4 204.3,729.6 203.4,731.7 203.2,732.5 203.1,732.5 205.4,732.0 207.0,731.1 207.6,731.7" fill="none" stroke="#e08030" stroke-width="0.8" stroke-linejoin="round" />
<polyline points="204.0,730.9 204.7,732.3 204.7,732.4 205.4,730.7 206.4,730.5 206.3,729.8 207.5,730.0 206.0,729.5 205.8,730.1 206.2,728.8 203.6,728.2 205.2,728.4 205.1,726.8 205.4,727.0 203.7,727.7 203.9,726.0 202.9,727.9 202.2,728.9 202.2,727.2 201.6,726.4 203.0,724.6 205.3,723.9 205.1,724.1" fill="none" stroke="#c03090" stroke-width="0.8" stroke-linejoin="round" />
<polyline points="206.5,728.9 204.7,730.7 205.4,731.9 205.0,730.7 205.1,730.9 205.1,730.3 205.9,731.9 204.4,730.4 205.1,728.2 204.4,729.6 204.8,730.2 204.7,730.8 204.7,730.1 203.7,730.7 203.7,730.6 203.9,729.7 203.3,730.7 204.1,729.7 204.2,730.6 203.6,730.1 203.0,730.1 203.7,730.3 202.5,730.3" fill="none" stroke="#808080" stroke-width="0.8" stroke-linejoin="round" />
<polyline points="205.4,729.9 205.5,728.5 207.6,727.7 207.7,729.4 207.4,730.8 205.1,730.1 205.7,730.6 205.8,730.6 205.7,731.0 206.4,731.6 207.0,731.4 207.0,733.0 207.7,733.7 208.3,733.8 208.4,733.8 207.2,734.5 208.3,732.7 207.5,730.6 208.8,729.7 207.0,728.1 205.9,727.4 206.0,725.8 206.5,726.0" fill="none" stroke="#404080" stroke-width="0.8" stroke-linejoin="round" />
<polyline points="207.4,731.8 207.4,733.1 208.0,732.0 209.1,730.8 207.6,732.6 206.0,733.2 205.1,733.8 203.5,733.2 205.2,733.1 204.9,730.1 204.5,728.5 204.6,729.3 205.1,725.1 204.6,726.2 204.9,728.9 205.2,728.9 204.9,727.2 205.5,725.9 204.3,725.9 204.5,726.0 204.4,727.6 204.5,727.9 205.3,728.0" fill="none" stroke="#d0a040" stroke-width="0.8" stroke-linejoin="round" />
<polyline points="203.3,732.1 203.4,734.7 204.6,733.4 205.9,732.5 207.9,732.2 206.8,730.9 205.7,730.7 205.8,731.1 204.2,729.3 205.8,729.7 205.4,727.1 206.4,726.2 205.3,727.6 205.6,729.1 204.3,727.8 204.4,727.4 204.4,728.1 204.0,730.1 204.6,732.3 204.4,732.5 204.2,731.8 203.7,732.8 204.1,731.2" fill="none" stroke="#a04060" stroke-width="0.8" stroke-linejoin="round" />
<polyline points="206.7,731.1 207.4,730.8 206.9,729.6 205.5,729.4 205.7,729.8 206.5,729.9 206.8,730.0 205.1,729.4 203.8,729.5 202.8,729.9 202.2,728.9 201.6,730.8 201.7,730.7 202.0,728.8 202.5,728.8 201.4,728.8 202.3,728.3 202.9,729.5 202.7,730.2 202.8,729.7 201.6,730.7 201.7,730.0 201.1,730.1" fill="none" stroke="#50a0a0" stroke-width="0.8" stroke-linejoin="round" />
<polyline points="204.4,730.4 204.1,731.3 204.2,732.2 203.7,733.0 203.8,733.7 203.6,734.8 204.2,736.3 204.9,737.8 204.1,738.7 203.8,740.0" fill="none" stroke="#c03090" stroke-width="0.9" stroke-linejoin="round" opacity="1.0"/>
<text x="273.8" y="676.9" font-size="25.5" font-weight="bold" text-anchor="start" fill="#000" stroke="#000" stroke-width="0.1" >F</text>
<line x1="338.3" y1="655" x2="338.3" y2="773" stroke="#000" stroke-width="1.3"/>
<line x1="335.3" y1="772.5" x2="338.3" y2="772.5" stroke="#000" stroke-width="1.2"/>
<line x1="336.5" y1="763.5" x2="338.3" y2="763.5" stroke="#000" stroke-width="1.1"/>
<line x1="335.3" y1="754.5" x2="338.3" y2="754.5" stroke="#000" stroke-width="1.2"/>
<line x1="336.5" y1="745.5" x2="338.3" y2="745.5" stroke="#000" stroke-width="1.1"/>
<line x1="335.3" y1="736.5" x2="338.3" y2="736.5" stroke="#000" stroke-width="1.2"/>
<line x1="336.5" y1="727.5" x2="338.3" y2="727.5" stroke="#000" stroke-width="1.1"/>
<line x1="335.3" y1="718.5" x2="338.3" y2="718.5" stroke="#000" stroke-width="1.2"/>
<line x1="336.5" y1="709.5" x2="338.3" y2="709.5" stroke="#000" stroke-width="1.1"/>
<line x1="335.3" y1="700.5" x2="338.3" y2="700.5" stroke="#000" stroke-width="1.2"/>
<line x1="336.5" y1="691.5" x2="338.3" y2="691.5" stroke="#000" stroke-width="1.1"/>
<line x1="335.3" y1="682.5" x2="338.3" y2="682.5" stroke="#000" stroke-width="1.2"/>
<line x1="336.5" y1="673.5" x2="338.3" y2="673.5" stroke="#000" stroke-width="1.1"/>
<line x1="335.3" y1="664.5" x2="338.3" y2="664.5" stroke="#000" stroke-width="1.2"/>
<text x="334.3" y="669.6" font-size="12.4" font-weight="normal" text-anchor="end" fill="#000" stroke="#000" stroke-width="0.25" >2.5</text>
<text x="334.3" y="687.6" font-size="12.4" font-weight="normal" text-anchor="end" fill="#000" stroke="#000" stroke-width="0.25" >2.0</text>
<text x="334.3" y="705.6" font-size="12.4" font-weight="normal" text-anchor="end" fill="#000" stroke="#000" stroke-width="0.25" >1.5</text>
<text x="334.3" y="723.6" font-size="12.4" font-weight="normal" text-anchor="end" fill="#000" stroke="#000" stroke-width="0.25" >1.0</text>
<text x="334.3" y="741.6" font-size="12.4" font-weight="normal" text-anchor="end" fill="#000" stroke="#000" stroke-width="0.25" >0.5</text>
<text x="334.3" y="759.6" font-size="12.4" font-weight="normal" text-anchor="end" fill="#000" stroke="#000" stroke-width="0.25" >0</text>
<text x="334.3" y="777.6" font-size="12.4" font-weight="normal" text-anchor="end" fill="#000" stroke="#000" stroke-width="0.25" >-0.5</text>
<line x1="335.2" y1="772.5" x2="486.2" y2="772.5" stroke="#000" stroke-width="1.3"/>
<line x1="347.2" y1="772.5" x2="347.2" y2="775.3" stroke="#000" stroke-width="1.2"/>
<line x1="370.325" y1="772.5" x2="370.325" y2="774.5" stroke="#000" stroke-width="1.2"/>
<line x1="393.45" y1="772.5" x2="393.45" y2="775.3" stroke="#000" stroke-width="1.2"/>
<line x1="416.575" y1="772.5" x2="416.575" y2="774.5" stroke="#000" stroke-width="1.2"/>
<line x1="439.7" y1="772.5" x2="439.7" y2="775.3" stroke="#000" stroke-width="1.2"/>
<line x1="462.825" y1="772.5" x2="462.825" y2="774.5" stroke="#000" stroke-width="1.2"/>
<line x1="485.95" y1="772.5" x2="485.95" y2="775.3" stroke="#000" stroke-width="1.2"/>
<text x="347.59999999999997" y="786.6" font-size="12.8" font-weight="normal" text-anchor="middle" fill="#000" stroke="#000" stroke-width="0.25" >0</text>
<text x="393.84999999999997" y="786.6" font-size="12.8" font-weight="normal" text-anchor="middle" fill="#000" stroke="#000" stroke-width="0.25" >5</text>
<text x="440.09999999999997" y="786.6" font-size="12.8" font-weight="normal" text-anchor="middle" fill="#000" stroke="#000" stroke-width="0.25" >10</text>
<text x="486.34999999999997" y="786.6" font-size="12.8" font-weight="normal" text-anchor="middle" fill="#000" stroke="#000" stroke-width="0.25" >15</text>
<text x="421" y="801" font-size="12.8" font-weight="normal" text-anchor="middle" fill="#000" stroke="#000" stroke-width="0.25" ><tspan font-weight="bold">Time</tspan> <tspan font-weight="bold">(min)</tspan></text>
<text transform="translate(310.8,713.5) rotate(-90)" font-size="12.6" font-weight="bold" text-anchor="middle">Intensity (x 10<tspan font-size="8.5" dy="-4.5">4</tspan><tspan dy="4.5">)</tspan></text>
<text x="342.5" y="718.2" font-size="12.8" font-weight="normal" text-anchor="start" fill="#000" stroke="#000" stroke-width="0.25" >PBS</text>
<text x="342.2" y="747.8" font-size="13.2" font-weight="normal" text-anchor="start" fill="#d02838" stroke="#d02838" stroke-width="0.25" >rhAPC</text>
<text x="389.4" y="674.7" font-size="12.8" font-weight="normal" text-anchor="middle" fill="#000" stroke="#000" stroke-width="0.25" >fMLP</text>
<text x="463.4" y="652.4" font-size="12.5" font-weight="normal" text-anchor="middle" fill="#000" stroke="#000" stroke-width="0.25" >Digitonin</text>
<line x1="387.3" y1="678.1" x2="387.3" y2="689.5" stroke="#000" stroke-width="1.2"/>
<path d="M384.7,686.5 L389.90000000000003,686.5 L387.3,693.5Z" fill="#000"/>
<line x1="464" y1="655.4" x2="464" y2="666.9" stroke="#000" stroke-width="1.2"/>
<path d="M461.4,663.9 L466.6,663.9 L464,670.9Z" fill="#000"/>
<polyline points="347.4,731.5 348.5,733.0 352.0,733.2 370.0,733.0 387.7,732.5 392.0,732.5 392.3,762.5 393.1,762.5 393.3,717.0 394.3,718.5 395.5,720.8 398.5,724.4 402.0,726.6 406.0,728.2 411.0,729.2 420.0,730.0 440.0,731.3 463.5,733.0 464.3,733.0 464.3,762.9 466.5,762.9 466.9,697.0 468.0,692.0 470.0,689.4 473.0,688.4 485.2,688.2" fill="none" stroke="#d8202c" stroke-width="1.35" stroke-linejoin="round" />
<polyline points="347.4,723.0 348.5,721.2 350.0,720.6 355.0,721.2 370.0,721.3 388.9,721.3 389.2,721.3 389.2,762.5 390.3,762.5 390.5,699.2 391.5,701.5 393.0,706.5 395.0,710.2 397.0,712.5 400.0,714.2 404.0,715.2 410.0,715.6 420.0,716.0 440.0,717.8 464.6,719.6 464.8,762.9 465.8,762.9 466.0,676.0 467.0,671.5 469.0,669.6 472.0,668.9 480.9,668.8" fill="none" stroke="#000" stroke-width="1.35" stroke-linejoin="round" />
</svg></body></html>
